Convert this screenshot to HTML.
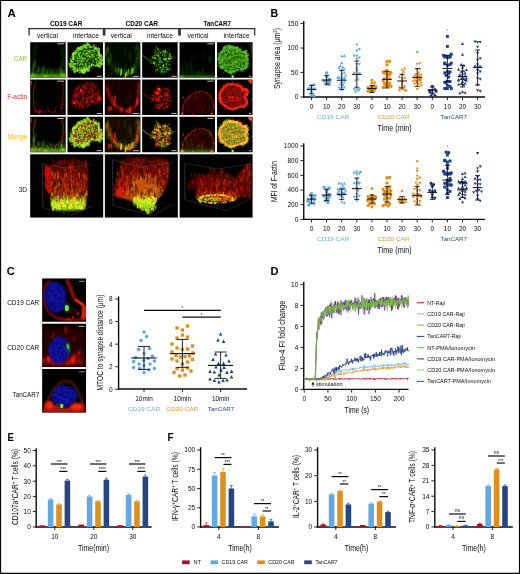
<!DOCTYPE html>
<html><head><meta charset="utf-8"><title>Figure</title>
<style>html,body{margin:0;padding:0;background:#fff;}svg{display:block;}text{font-family:"Liberation Sans", sans-serif;}</style>
</head><body>
<svg width="520" height="574" viewBox="0 0 520 574">
<defs>
<filter id="b0" x="-10%" y="-10%" width="120%" height="120%"><feGaussianBlur stdDeviation="0.3"/></filter>
<filter id="b1" x="-10%" y="-10%" width="120%" height="120%"><feGaussianBlur stdDeviation="0.45"/></filter>
<filter id="b15" x="-15%" y="-15%" width="130%" height="130%"><feGaussianBlur stdDeviation="0.7"/></filter>
<linearGradient id="gfadeG" x1="0" y1="0" x2="0" y2="1"><stop offset="0" stop-color="#2f8010" stop-opacity="0"/><stop offset="1" stop-color="#3a9a14" stop-opacity="1"/></linearGradient>
<filter id="b2" x="-20%" y="-20%" width="140%" height="140%"><feGaussianBlur stdDeviation="1.0"/></filter>
<filter id="b3" x="-30%" y="-30%" width="160%" height="160%"><feGaussianBlur stdDeviation="2.4"/></filter>
<linearGradient id="g3d1" x1="0" y1="0" x2="0" y2="1"><stop offset="0" stop-color="#5a0602" stop-opacity="0.55"/><stop offset="0.3" stop-color="#a01206" stop-opacity="0.7"/><stop offset="0.66" stop-color="#c8400a" stop-opacity="0.75"/><stop offset="0.8" stop-color="#c8b816" stop-opacity="0.8"/><stop offset="1" stop-color="#88c816" stop-opacity="0.85"/></linearGradient>
<linearGradient id="g3d2" x1="0" y1="0" x2="0" y2="1"><stop offset="0" stop-color="#6a0803" stop-opacity="0.6"/><stop offset="0.45" stop-color="#b01a08" stop-opacity="0.75"/><stop offset="0.8" stop-color="#d0480c" stop-opacity="0.8"/><stop offset="1" stop-color="#d08a12" stop-opacity="0.8"/></linearGradient>
<linearGradient id="g3d3" x1="0" y1="0" x2="0" y2="1"><stop offset="0" stop-color="#4a0602"/><stop offset="0.6" stop-color="#a81406"/><stop offset="1" stop-color="#d8480c"/></linearGradient>
<clipPath id="c3d"><rect width="73" height="63.3"/></clipPath>
<clipPath id="cc"><rect width="43.9" height="43.6"/></clipPath>
<g id="car1"><g filter="url(#b2)"><rect x="-1" y="24" width="38" height="12" fill="url(#gfadeG)" opacity="0.5"/><rect x="-1" y="32.2" width="38" height="4" fill="#58b81e" opacity="0.75"/><path d="M5.6 2C4.4 10 3.4 18 3.2 30" fill="none" stroke="#2a7010" stroke-width="1.6" opacity="0.45"/><path d="M31.6 3.5C32.8 10 33.4 18 33.4 30" fill="none" stroke="#2a7010" stroke-width="1.6" opacity="0.45"/><ellipse cx="2.6" cy="32.8" rx="2.2" ry="1.6" fill="#9af03a" opacity="0.9"/><ellipse cx="32.5" cy="32.8" rx="2.4" ry="1.7" fill="#9af03a" opacity="0.9"/><ellipse cx="15.5" cy="33.8" rx="2" ry="1.2" fill="#9af03a" opacity="0.8"/></g><g filter="url(#b15)"><path d="M13.5 35.8L13.6 30.2M27.7 29.2L27.5 25.5M34.0 32.9L34.0 27.7M23.3 30.4L23.4 25.6M19.6 33.1L19.4 26.9M2.7 33.2L2.5 29.2M13.7 29.7L13.8 26.6M17.3 30.7L17.3 26.2M6.0 34.8L5.9 29.1" stroke="#3a9a14" stroke-width="0.98" stroke-linecap="round" opacity="0.15" fill="none"/><path d="M32.7 32.2L32.8 28.6M25.2 34.3L25.4 29.7M29.1 30.8L29.2 24.9M13.8 29.1L14.0 23.3M32.3 34.1L32.5 29.1M8.5 29.2L8.2 25.6M29.4 29.8L29.3 24.3M19.2 30.0L19.0 25.8M11.8 30.9L11.8 26.7M27.8 30.9L27.5 27.6M31.7 31.3L31.7 27.8M20.3 31.9L20.4 27.2" stroke="#3a9a14" stroke-width="1.40" stroke-linecap="round" opacity="0.21" fill="none"/><path d="M13.6 29.8L13.6 24.7M6.8 34.4L6.9 30.8M9.0 28.5L9.2 25.2M21.9 31.6L22.1 27.6M11.8 31.1L11.7 25.3M2.8 34.6L2.6 31.2M16.5 31.6L16.6 28.4M12.5 32.1L12.7 26.4M7.7 29.0L7.7 24.8" stroke="#3a9a14" stroke-width="1.82" stroke-linecap="round" opacity="0.27" fill="none"/><path d="M3.0 28.7L2.9 21.7M3.3 34.4L3.1 26.7M3.0 31.7L2.7 26.1M31.4 33.6L31.3 27.7M31.5 24.7L31.7 19.3M31.0 26.6L30.7 20.5" stroke="#3a9a14" stroke-width="0.98" stroke-linecap="round" opacity="0.21" fill="none"/><path d="M5.0 25.3L5.1 17.8M3.1 25.8L3.1 21.8M30.5 32.1L30.4 26.1M31.7 33.1L31.8 28.8" stroke="#3a9a14" stroke-width="1.40" stroke-linecap="round" opacity="0.27" fill="none"/><path d="M4.2 24.6L4.2 19.7M31.1 32.8L30.9 28.0" stroke="#3a9a14" stroke-width="1.82" stroke-linecap="round" opacity="0.32" fill="none"/></g></g><g id="car2"><g filter="url(#b15)"><path d="M20.5 3.0C18.8 3.1 17.1 4.2 15.6 4.8C14.1 5.3 13.0 5.4 11.5 6.5C10.0 7.6 7.6 9.6 6.6 11.3C5.7 13.1 6.2 15.2 5.6 16.9C5.1 18.6 3.0 20.0 3.3 21.7C3.6 23.5 5.1 26.1 7.3 27.3C9.6 28.5 14.5 29.5 17.0 29.0C19.6 28.5 20.5 25.1 22.6 24.1C24.6 23.2 27.6 23.7 29.5 23.5C31.4 23.2 33.1 23.9 33.8 22.8C34.4 21.7 33.8 19.2 33.3 16.9C32.8 14.5 31.7 10.7 30.5 8.6C29.3 6.5 27.7 5.3 26.0 4.4C24.4 3.5 22.2 3.0 20.5 3.0Z" fill="#235a0c" opacity="0.95"/></g><g filter="url(#b1)"><path d="M8.3 12.1h0M31.2 22.1h0M23.0 7.7h0M17.0 18.1h0M18.0 21.6h0M8.5 18.5h0M4.9 21.6h0M15.9 23.2h0M23.2 21.8h0M18.2 26.0h0M19.4 23.5h0M12.6 23.0h0M26.4 22.1h0M20.7 12.7h0M10.7 16.3h0M15.4 23.8h0M23.2 8.7h0M14.5 15.2h0M26.0 16.4h0M21.9 14.3h0M17.5 16.1h0M17.5 21.5h0M31.3 21.1h0M10.0 24.7h0M8.0 16.0h0M26.3 11.1h0M26.1 12.0h0M20.3 10.1h0M16.7 6.0h0M19.3 13.7h0M28.3 22.9h0M27.8 13.1h0M14.8 16.7h0M29.6 22.3h0M28.5 9.0h0M13.2 11.5h0M18.6 16.6h0M27.9 21.0h0M20.6 5.9h0M10.8 18.9h0M11.7 9.9h0" stroke="#0a2403" stroke-width="1.35" stroke-linecap="round" opacity="0.55" fill="none"/><path d="M17.2 18.6h0M12.2 10.4h0M13.6 16.5h0M24.5 23.4h0M9.7 20.5h0M27.0 8.5h0M19.0 26.4h0M25.3 15.5h0M21.7 18.5h0M10.1 21.8h0M6.9 20.7h0M8.7 16.2h0M19.7 23.4h0M12.3 26.6h0M16.0 20.2h0M27.7 10.1h0M30.2 18.4h0M32.1 20.9h0M10.1 22.5h0M6.8 21.0h0M15.3 14.9h0M27.8 17.3h0M10.9 21.6h0M14.8 10.3h0M17.4 14.0h0M22.9 13.8h0M15.3 10.1h0M10.7 26.5h0M12.9 11.3h0M13.7 13.3h0M11.6 16.5h0M30.6 18.2h0M27.7 8.6h0M11.8 11.3h0M30.3 11.9h0M12.2 16.7h0M16.7 6.1h0M18.0 10.9h0" stroke="#0a2403" stroke-width="2.25" stroke-linecap="round" opacity="0.65" fill="none"/><path d="M16.1 26.5h0M16.7 19.3h0M8.4 26.0h0M17.7 4.7h0M12.6 7.0h0M21.6 9.3h0M7.2 14.2h0M13.7 23.0h0M8.8 22.4h0M16.0 15.4h0M24.2 9.7h0M11.0 24.6h0M12.4 14.4h0M22.0 21.0h0M22.1 5.8h0M20.5 24.2h0M10.4 18.9h0M24.1 7.1h0M18.5 11.6h0M14.0 9.6h0M7.9 14.8h0M24.2 6.2h0M16.6 6.6h0M21.1 14.9h0M8.3 12.0h0M15.2 13.9h0M20.4 16.8h0M27.2 20.2h0M10.0 12.9h0M13.3 21.2h0M27.9 17.3h0M23.9 18.1h0M19.6 8.2h0" stroke="#0a2403" stroke-width="1.95" stroke-linecap="round" opacity="0.75" fill="none"/><path d="M22.0 6.3h0M12.9 26.2h0M9.4 18.2h0M14.8 23.2h0M25.8 20.9h0M17.5 21.0h0M15.0 11.1h0M31.4 17.7h0M22.5 15.9h0M18.0 7.6h0M27.7 12.9h0M20.5 21.0h0M28.1 20.3h0M24.7 7.8h0M7.1 24.7h0M30.9 20.8h0M17.0 17.5h0M11.0 17.5h0M24.8 21.4h0M28.7 11.1h0M9.7 11.9h0M15.2 6.6h0M24.7 15.5h0M12.5 19.3h0M11.8 21.2h0M30.2 17.8h0M26.2 14.4h0M14.0 6.9h0M27.0 15.5h0M16.9 25.5h0M20.6 3.9h0M11.9 24.8h0M30.1 11.7h0M11.9 25.0h0M25.0 8.4h0M14.7 10.5h0M10.5 24.8h0M23.7 5.9h0" stroke="#0a2403" stroke-width="1.65" stroke-linecap="round" opacity="0.85" fill="none"/><path d="M13.8 21.6h0M30.1 7.4h0M21.6 3.8h0M18.5 24.6h0M9.8 23.2h0M17.1 21.2h0M26.2 22.4h0M22.9 16.3h0M19.3 21.8h0M13.0 19.7h0M5.9 23.0h0M9.3 12.4h0M13.8 5.9h0M15.6 9.9h0M29.0 20.6h0M9.4 15.0h0M31.8 18.1h0M21.6 2.5h0M25.9 19.6h0M13.3 24.6h0M7.6 16.2h0M7.7 25.7h0M13.5 14.5h0M24.8 21.1h0M21.3 5.2h0M8.6 13.1h0M24.0 22.1h0M31.3 8.7h0" stroke="#58b81e" stroke-width="1.32" stroke-linecap="round" opacity="0.60" fill="none"/><path d="M12.2 15.1h0M3.7 20.2h0M12.0 11.7h0M5.0 19.5h0M22.1 10.5h0M21.8 21.2h0M24.2 12.3h0M21.2 13.5h0M16.4 11.5h0M30.3 18.3h0M14.8 11.2h0M11.6 13.5h0M13.8 6.6h0M24.7 14.7h0M17.8 12.9h0M16.3 8.6h0M33.1 14.0h0M18.0 23.2h0M22.9 7.7h0M11.7 10.2h0M24.0 13.0h0M14.0 21.8h0M21.1 9.3h0M27.2 5.7h0M13.8 26.8h0M31.8 14.1h0M28.9 17.1h0M22.2 14.9h0M24.9 14.0h0M14.3 18.7h0M14.6 13.5h0M15.7 26.0h0M8.7 21.6h0M16.2 17.6h0" stroke="#58b81e" stroke-width="2.08" stroke-linecap="round" opacity="0.70" fill="none"/><path d="M7.2 14.2h0M16.4 26.7h0M29.6 12.9h0M6.3 11.1h0M25.0 10.0h0M6.7 22.0h0M19.3 24.0h0M4.4 20.6h0M14.8 14.9h0M16.8 29.3h0M14.7 20.4h0M11.5 16.6h0M17.4 25.9h0M11.2 14.2h0M10.8 20.6h0M17.6 26.4h0M13.2 21.7h0M12.8 6.2h0M12.5 15.1h0M9.8 26.0h0M33.4 20.8h0M12.7 13.8h0M17.8 4.7h0M13.6 16.5h0M16.2 18.9h0M12.3 18.8h0M19.2 8.6h0M10.8 7.6h0M25.0 13.4h0" stroke="#58b81e" stroke-width="1.83" stroke-linecap="round" opacity="0.80" fill="none"/><path d="M28.1 16.5h0M7.1 21.6h0M6.1 24.5h0M15.4 17.6h0M22.3 5.4h0M13.3 21.7h0M13.7 16.4h0M32.8 16.9h0M7.1 23.0h0M10.0 16.1h0M16.9 16.4h0M20.7 12.7h0M11.5 5.8h0M9.7 15.1h0M16.9 15.6h0M29.7 21.5h0M21.3 24.1h0M10.4 21.4h0M8.8 26.9h0M7.9 26.7h0M15.0 28.1h0M31.0 23.5h0M7.2 16.8h0M7.5 11.6h0M12.0 6.8h0M5.7 22.3h0M15.6 23.8h0M25.6 15.8h0M22.3 10.1h0" stroke="#58b81e" stroke-width="1.58" stroke-linecap="round" opacity="0.90" fill="none"/><path d="M18.1 23.6h0M25.9 18.2h0M12.1 15.9h0M10.8 17.5h0M28.4 11.0h0M9.4 17.9h0M21.6 15.5h0M12.4 18.8h0M22.8 9.5h0M20.5 9.8h0M15.2 15.8h0M16.0 25.2h0M11.1 13.3h0M32.5 16.4h0M10.3 8.4h0" stroke="#9af03a" stroke-width="1.10" stroke-linecap="round" opacity="0.65" fill="none"/><path d="M32.9 22.5h0M18.9 12.2h0M32.1 20.6h0M18.2 21.7h0M31.4 20.4h0M32.6 18.7h0M20.0 14.0h0M31.0 21.1h0M13.0 10.0h0M11.1 11.8h0M21.5 8.9h0" stroke="#9af03a" stroke-width="1.70" stroke-linecap="round" opacity="0.75" fill="none"/><path d="M17.8 16.3h0M25.6 8.4h0M31.0 12.1h0M18.3 26.8h0M29.0 19.8h0M6.4 21.1h0M26.1 7.9h0M20.5 17.3h0M19.6 10.8h0M19.4 6.0h0M28.5 16.9h0M23.8 4.8h0M19.4 18.7h0M11.7 22.8h0M31.0 15.3h0M7.8 25.9h0M14.7 16.2h0M9.9 18.3h0M22.4 14.6h0M12.3 7.4h0M13.8 19.1h0" stroke="#9af03a" stroke-width="1.50" stroke-linecap="round" opacity="0.85" fill="none"/><path d="M15.3 28.2h0M18.9 11.6h0M11.6 12.3h0M27.0 11.8h0M26.4 13.9h0M8.1 21.7h0M27.2 9.0h0M16.3 10.8h0M29.7 22.7h0M15.1 22.1h0M10.3 19.6h0M11.9 25.9h0M6.8 24.3h0M16.5 25.3h0M18.0 7.9h0M24.1 8.6h0M16.8 26.3h0M21.4 24.3h0M17.7 27.9h0M15.6 27.5h0M12.0 25.3h0M19.0 11.2h0M25.1 12.4h0" stroke="#9af03a" stroke-width="1.30" stroke-linecap="round" opacity="0.95" fill="none"/><path d="M30.8 24.1h0M22.5 3.7h0M33.6 14.1h0M26.3 2.7h0M6.5 10.7h0M22.3 25.6h0M27.2 6.4h0M28.5 23.7h0M22.1 23.9h0M10.5 27.4h0M16.7 4.0h0M7.5 11.6h0M21.5 2.7h0M29.6 22.7h0M14.7 5.3h0M6.0 15.3h0M21.0 26.0h0M4.7 22.0h0M34.2 15.4h0M30.8 7.1h0M5.0 12.9h0M22.5 24.0h0M31.9 15.4h0M4.7 22.1h0M15.4 3.8h0M26.3 4.1h0M23.3 4.7h0M13.7 4.4h0M2.3 22.2h0M13.7 30.0h0M34.0 19.6h0M10.9 7.0h0M16.9 5.0h0" stroke="#9af03a" stroke-width="1.80" stroke-linecap="round" opacity="0.74" fill="none"/><path d="M14.7 28.4h0M2.8 22.7h0M13.6 5.5h0M16.0 30.3h0M20.9 27.9h0M16.7 29.1h0M3.2 23.8h0M11.4 6.3h0M7.3 29.2h0M17.7 4.6h0M11.2 5.9h0M18.5 26.5h0M34.4 17.4h0M8.5 9.9h0M14.0 6.3h0M20.3 2.4h0M6.8 28.1h0M18.5 28.0h0M19.9 1.6h0" stroke="#9af03a" stroke-width="3.00" stroke-linecap="round" opacity="0.81" fill="none"/><path d="M33.4 20.3h0M31.8 12.8h0M9.9 28.5h0M33.3 21.7h0M19.9 26.7h0M13.9 28.4h0M31.4 10.9h0M5.5 14.0h0M6.2 11.1h0M31.1 9.0h0M28.2 5.8h0M17.2 3.2h0M5.6 12.0h0M29.0 6.9h0M16.1 29.8h0M31.6 23.6h0" stroke="#9af03a" stroke-width="2.60" stroke-linecap="round" opacity="0.89" fill="none"/><path d="M33.5 13.0h0M5.3 24.5h0M5.4 14.3h0M6.9 26.1h0M12.9 6.6h0M12.5 5.8h0M2.4 22.2h0M24.4 22.7h0M31.3 6.5h0M5.6 16.7h0M3.7 18.5h0M11.1 5.9h0M9.8 7.8h0M17.6 27.4h0M4.2 19.3h0M34.5 21.8h0M31.0 23.6h0" stroke="#9af03a" stroke-width="2.20" stroke-linecap="round" opacity="0.96" fill="none"/><path d="M34.7 21.1h0M7.2 26.6h0M3.3 23.0h0M33.7 19.9h0M33.7 17.8h0M24.7 4.9h0M32.9 19.4h0M2.9 22.7h0" stroke="#58b81e" stroke-width="1.55" stroke-linecap="round" opacity="0.74" fill="none"/><path d="M21.2 25.5h0M11.8 30.1h0M7.7 27.9h0M12.7 26.9h0M25.7 23.0h0M3.4 23.0h0M28.0 23.6h0M21.5 2.4h0M32.4 24.8h0M30.1 7.8h0M32.9 22.7h0M9.2 8.2h0M16.2 5.3h0M35.3 16.6h0M14.1 6.4h0" stroke="#58b81e" stroke-width="2.45" stroke-linecap="round" opacity="0.81" fill="none"/><path d="M33.3 23.4h0M3.4 16.6h0M18.4 25.8h0M19.0 4.3h0M32.6 24.0h0M35.3 22.0h0" stroke="#58b81e" stroke-width="2.15" stroke-linecap="round" opacity="0.89" fill="none"/><path d="M20.7 28.3h0M3.2 25.1h0M12.6 4.9h0M18.2 29.4h0M5.0 13.9h0M5.7 23.9h0M31.5 7.5h0M12.2 27.9h0M21.7 2.6h0M11.2 7.4h0M12.6 5.2h0" stroke="#58b81e" stroke-width="1.85" stroke-linecap="round" opacity="0.96" fill="none"/><path d="M5.7 26.5L4.2 28.3M18.4 3.3L17.7 1.7M16.3 3.8L16.7 2.5M3.7 23.8L2.2 24.0M33.2 13.7L35.2 14.3M29.4 6.5L30.6 5.0M8.3 8.9L6.1 8.1M3.1 21.0L0.8 21.1M23.9 24.3L25.0 25.5M10.4 6.9L8.8 6.1M27.6 4.8L28.9 3.6M5.1 25.7L4.1 27.7M16.8 3.8L15.4 2.0M34.4 18.4L36.7 19.1M4.0 19.0L2.6 19.3M2.9 22.8L1.4 23.1" stroke="#58b81e" stroke-width="0.9" stroke-linecap="round" opacity="0.8" fill="none"/></g></g><g id="car3"><g filter="url(#b2)"><rect x="-1" y="-1" width="38" height="38" fill="#143c08" opacity="0.15"/><path d="M1.7 5.4C1.9 6.7 2.7 10.6 3.2 13.1C3.7 15.5 3.7 17.9 4.8 20.0C5.8 22.1 7.5 23.8 9.4 25.4C11.3 26.9 14.3 28.2 16.3 29.2C18.4 30.3 19.8 31.7 21.7 31.5C23.6 31.4 26.2 29.9 27.8 28.5C29.5 27.1 30.8 25.4 31.7 23.1C32.6 20.8 32.8 17.6 33.2 14.6C33.6 11.7 33.9 6.9 34.0 5.4" fill="none" stroke="#2a7010" stroke-width="5" opacity="0.25"/></g><g filter="url(#b15)"><path d="M29.0 27.3L29.2 20.9M10.9 30.0L11.0 25.6M3.3 10.9L3.7 4.2M26.3 29.3L26.6 22.6M31.2 28.7L31.1 25.2M4.8 20.7L4.7 17.7M15.0 29.9L14.9 24.5M21.4 33.4L21.8 26.7M32.3 21.5L32.6 17.6M3.2 9.6L3.2 5.1M33.6 27.6L33.9 20.7M28.9 30.6L29.3 25.4M15.7 30.2L16.0 26.4M14.7 30.5L14.6 26.3" stroke="#3c9816" stroke-width="1.05" stroke-linecap="round" opacity="0.13" fill="none"/><path d="M29.6 30.9L29.8 25.6M34.5 22.7L34.6 16.2M16.2 30.9L16.1 24.0M26.9 29.3L26.9 24.6M19.3 31.4L19.4 24.6M33.2 16.8L33.2 9.9M31.2 18.5L31.5 15.3M13.6 27.8L13.5 24.3M34.5 15.8L34.5 12.7M29.0 27.1L29.4 22.8M3.4 10.6L3.3 4.9M20.8 34.3L21.0 29.2M29.9 29.4L30.2 22.5M15.0 32.8L15.0 28.2" stroke="#3c9816" stroke-width="1.50" stroke-linecap="round" opacity="0.20" fill="none"/><path d="M2.0 9.6L2.4 4.8M1.2 10.5L1.5 6.6M35.4 12.5L35.3 9.0M5.9 18.5L5.9 12.3M20.8 32.8L20.9 29.6M21.1 32.8L21.2 26.9M0.9 12.9L1.3 7.7M25.7 31.8L25.8 27.2M32.4 6.5L32.4 2.6M25.3 33.6L25.4 30.2M3.6 22.0L4.0 16.8M11.2 29.2L11.3 25.4" stroke="#3c9816" stroke-width="1.95" stroke-linecap="round" opacity="0.27" fill="none"/><path d="M30.3 12.5L30.3 6.2M2.6 13.9L2.8 10.6M20.7 13.1L20.6 7.1M15.0 8.1L15.1 1.5M3.9 22.3L3.9 17.7M28.9 31.2L29.1 26.3M13.0 14.1L13.1 8.7M11.6 14.4L11.7 9.6M19.8 15.7L19.9 8.9M21.0 26.4L21.5 19.6" stroke="#2f8010" stroke-width="1.05" stroke-linecap="round" opacity="0.07" fill="none"/><path d="M31.1 7.9L31.3 3.9M31.0 30.6L31.3 25.7M25.3 17.1L25.7 11.0M2.3 12.4L2.7 7.7M3.5 8.8L3.9 2.0M26.4 21.2L26.6 16.8M13.2 6.7L13.1 0.9M29.2 30.3L29.2 23.9" stroke="#2f8010" stroke-width="1.50" stroke-linecap="round" opacity="0.11" fill="none"/><path d="M13.7 28.9L14.1 24.3M21.1 25.0L21.1 22.0M26.5 27.9L26.7 23.6M9.9 31.0L9.9 27.8M19.8 11.0L19.7 4.2M23.6 16.4L23.7 11.2M11.7 31.2L11.7 27.3M30.0 8.4L30.1 4.3M11.5 23.3L11.4 20.0M26.1 14.7L26.0 11.1M6.6 32.7L6.8 26.9M2.3 20.3L2.4 16.4" stroke="#2f8010" stroke-width="1.95" stroke-linecap="round" opacity="0.14" fill="none"/><path d="M13.0 31.3L13.7 26.7" stroke="#9af03a" stroke-width="0.91" stroke-linecap="round" opacity="0.51" fill="none"/><path d="M21.0 33.2L21.6 29.8M23.0 32.5L23.6 27.5M26.5 31.6L27.3 26.4M28.0 31.0L28.3 26.0" stroke="#9af03a" stroke-width="1.30" stroke-linecap="round" opacity="0.62" fill="none"/><path d="M20.5 35.2L20.9 31.8M16.0 32.6L16.6 27.4" stroke="#9af03a" stroke-width="1.69" stroke-linecap="round" opacity="0.74" fill="none"/></g></g><g id="car4"><g filter="url(#b2)"><path d="M15.5 6.2C16.8 5.8 19.0 7.2 20.9 7.7C22.8 8.2 25.5 7.9 27.1 9.2C28.6 10.5 29.9 13.2 30.2 15.4C30.4 17.6 29.1 20.1 28.6 22.3C28.1 24.5 28.4 27.1 27.1 28.5C25.8 29.9 23.0 30.5 20.9 30.8C18.9 31.0 16.2 31.2 14.8 30.0C13.4 28.8 13.5 25.9 12.5 23.8C11.4 21.8 9.0 19.5 8.6 17.7C8.2 15.9 9.4 14.4 10.2 13.1C10.9 11.8 12.3 11.2 13.2 10.0C14.1 8.8 14.3 6.5 15.5 6.2Z" fill="#1c4c0a" opacity="0.45"/></g><g filter="url(#b1)"><path d="M24.4 17.0h0M12.3 13.0h0M25.0 9.7h0M16.6 7.9h0M10.8 16.1h0M27.3 11.6h0M14.3 28.1h0M21.1 23.6h0M16.3 6.5h0M27.0 15.0h0M25.7 11.3h0M14.8 12.3h0M28.1 13.6h0M17.6 18.9h0" stroke="#58b81e" stroke-width="1.30" stroke-linecap="round" opacity="0.55" fill="none"/><path d="M16.4 13.0h0M26.6 27.3h0M22.5 16.8h0M17.8 19.4h0M16.3 17.4h0M12.6 19.7h0M22.5 29.6h0M29.5 15.9h0M18.3 18.3h0M21.2 26.9h0M22.6 11.3h0M27.9 11.7h0M19.8 28.8h0M12.5 15.6h0M24.7 24.9h0M23.2 18.0h0" stroke="#58b81e" stroke-width="1.90" stroke-linecap="round" opacity="0.65" fill="none"/><path d="M25.3 19.1h0M17.8 24.7h0M20.8 8.9h0M22.8 13.7h0M24.2 27.3h0M20.4 12.7h0M10.4 14.9h0M18.9 25.5h0M18.0 25.3h0M21.6 10.1h0M21.4 23.2h0" stroke="#58b81e" stroke-width="1.70" stroke-linecap="round" opacity="0.75" fill="none"/><path d="M17.7 20.2h0M19.1 28.0h0M23.1 8.3h0M22.7 16.9h0M20.0 26.4h0M22.4 9.2h0M12.1 21.3h0M14.3 23.8h0M12.2 13.5h0M21.6 24.7h0M20.4 29.7h0M27.4 22.3h0M15.6 7.1h0M26.5 17.1h0" stroke="#58b81e" stroke-width="1.50" stroke-linecap="round" opacity="0.85" fill="none"/><path d="M21.2 15.7h0M16.7 10.6h0M23.2 25.5h0M19.3 29.3h0M27.4 13.2h0M27.8 17.1h0M28.1 13.9h0M16.6 9.7h0M26.0 19.4h0M21.2 16.0h0" stroke="#9af03a" stroke-width="1.10" stroke-linecap="round" opacity="0.60" fill="none"/><path d="M25.2 27.0h0M14.3 12.4h0M27.1 16.4h0M23.4 9.6h0M24.1 16.2h0M17.8 15.9h0M24.3 21.8h0M11.5 20.5h0" stroke="#9af03a" stroke-width="1.70" stroke-linecap="round" opacity="0.70" fill="none"/><path d="M21.2 22.7h0M12.6 21.7h0M21.1 24.2h0M13.6 15.9h0M19.8 19.9h0M16.1 13.6h0M16.4 22.0h0" stroke="#9af03a" stroke-width="1.50" stroke-linecap="round" opacity="0.80" fill="none"/><path d="M18.5 10.3h0M11.9 16.0h0M16.8 14.6h0M23.5 17.0h0M28.0 16.4h0M15.5 27.1h0M22.0 17.3h0M26.7 15.9h0M27.9 14.0h0" stroke="#9af03a" stroke-width="1.30" stroke-linecap="round" opacity="0.90" fill="none"/><path d="M24.1 28.7L24.7 30.5M18.9 29.7L19.4 32.5M14.8 28.4L13.1 31.2M11.5 21.0L9.0 21.2M22.0 29.6L21.9 32.1M26.9 26.1L29.7 27.0M10.8 19.8L7.7 20.7M13.9 10.0L13.1 7.7M12.9 11.4L11.6 8.8M13.7 10.3L12.9 7.5M23.4 9.1L23.8 6.7M14.0 26.6L13.4 28.7M29.1 14.9L32.4 14.8M15.2 7.8L14.5 4.5" stroke="#58b81e" stroke-width="0.7" stroke-linecap="round" opacity="0.55" fill="none"/><path d="M0.2 13L3 15L6 17.5L9.5 18.5" fill="none" stroke="#58b81e" stroke-width="1.3" opacity="0.45"/><path d="M13.2 2.5L15 6L17 8.5M27.8 6L26.3 8.5" fill="none" stroke="#58b81e" stroke-width="1.0" opacity="0.4"/></g></g><g id="car5"><g filter="url(#b2)"><rect x="-1" y="34" width="38" height="2.5" fill="#58b81e" opacity="0.7"/><rect x="-1" y="28" width="38" height="8" fill="url(#gfadeG)" opacity="0.3"/><ellipse cx="2.5" cy="34.4" rx="1.6" ry="1" fill="#9af03a" opacity="0.9"/></g><g filter="url(#b15)"><path d="M8.6 26.0L8.7 19.0M13.0 27.8L13.3 24.7M3.6 34.3L3.5 28.5M31.2 33.6L31.4 28.1M22.8 33.4L22.9 27.7M17.7 32.6L17.8 26.5M22.7 30.5L22.6 25.1M16.3 35.0L16.4 28.5M31.3 19.9L31.2 14.0M32.6 26.5L32.6 20.9M32.5 20.2L32.2 16.1M34.0 19.2L34.1 13.9M12.0 20.3L12.1 13.7M23.0 16.0L22.8 10.0" stroke="#2f8010" stroke-width="1.12" stroke-linecap="round" opacity="0.09" fill="none"/><path d="M9.7 28.9L9.7 22.2M10.3 24.9L10.5 21.8M2.0 26.6L2.2 19.7M17.4 33.6L17.1 28.8M19.3 31.6L19.3 28.4M25.7 36.7L25.4 30.5M33.2 30.6L33.2 25.6M21.9 36.6L21.9 30.7M31.2 19.6L31.2 15.5M14.0 18.5L14.0 12.5M25.5 17.4L25.6 11.6" stroke="#2f8010" stroke-width="1.60" stroke-linecap="round" opacity="0.14" fill="none"/><path d="M2.7 30.7L2.7 25.3M12.7 32.0L12.8 27.2M11.8 26.7L11.7 21.4M6.3 25.4L6.2 20.8M13.3 36.0L13.0 29.7M7.1 30.7L7.1 24.2M20.2 35.2L19.9 28.4M23.3 30.9L23.6 26.0M29.9 19.5L30.0 13.8" stroke="#2f8010" stroke-width="2.08" stroke-linecap="round" opacity="0.18" fill="none"/></g></g><g id="car6"><g filter="url(#b1)"><path d="M13.2 3.1C15.3 2.9 17.7 3.7 19.4 4.2C21.1 4.7 22.2 5.3 23.2 6.2C24.3 7.0 24.5 8.8 25.5 9.2C26.6 9.6 28.5 7.8 29.4 8.5C30.3 9.1 30.5 11.0 30.9 13.1C31.3 15.1 31.8 18.6 31.7 20.8C31.6 22.9 31.4 24.9 30.2 26.2C28.9 27.4 26.2 27.8 24.0 28.5C21.8 29.1 18.9 29.6 17.1 30.0C15.3 30.4 14.9 31.4 13.2 31.2C11.6 30.9 8.9 29.8 7.1 28.5C5.3 27.1 3.5 25.0 2.5 23.1C1.4 21.2 0.9 19.0 0.9 16.9C0.9 14.9 1.4 12.7 2.5 10.8C3.5 8.8 5.3 6.7 7.1 5.4C8.9 4.1 11.2 3.3 13.2 3.1Z" fill="#2f7212" opacity="0.95"/><path d="M26.4 25.4h0M25.5 17.8h0M8.1 23.3h0M5.7 11.4h0M16.4 8.8h0M19.4 16.6h0M8.3 25.5h0M10.6 10.9h0M23.1 22.7h0M28.9 18.6h0M15.3 9.9h0M29.1 14.9h0M27.8 23.0h0M6.0 16.5h0M19.0 22.3h0M15.6 23.8h0M27.3 19.7h0M8.6 21.4h0M24.7 20.2h0M15.4 25.9h0M19.1 20.6h0M6.2 9.7h0" stroke="#184808" stroke-width="1.35" stroke-linecap="round" opacity="0.45" fill="none"/><path d="M11.6 13.6h0M9.6 12.3h0M9.1 12.4h0M13.0 25.0h0M11.4 27.3h0M13.7 20.1h0M10.9 17.0h0M12.2 13.3h0M20.4 22.1h0M14.7 5.3h0M4.8 22.5h0M22.0 24.1h0M10.4 10.4h0M22.9 8.9h0M16.5 24.3h0M28.8 22.1h0M13.5 14.4h0M16.3 17.2h0M19.5 15.1h0M16.2 22.3h0M4.6 19.6h0M8.9 7.5h0M20.3 19.9h0M21.4 10.6h0" stroke="#184808" stroke-width="2.25" stroke-linecap="round" opacity="0.55" fill="none"/><path d="M25.7 11.3h0M15.3 11.4h0M20.6 15.3h0M27.0 21.9h0M23.0 26.3h0M3.4 18.7h0M26.7 11.7h0M18.2 15.6h0M19.4 27.0h0M15.4 13.2h0M24.2 15.6h0M18.8 12.1h0M25.9 16.0h0M18.8 17.3h0M20.9 7.7h0M20.5 16.3h0M6.8 18.9h0M12.5 8.0h0M20.5 25.5h0M6.5 18.9h0M18.5 21.2h0M11.3 11.1h0M17.6 27.3h0M10.9 14.1h0M6.2 21.3h0M12.8 13.9h0" stroke="#184808" stroke-width="1.95" stroke-linecap="round" opacity="0.65" fill="none"/><path d="M13.0 24.7h0M23.3 26.5h0M20.7 19.4h0M11.7 26.4h0M5.7 11.2h0M23.4 14.9h0M12.7 23.4h0M15.2 21.7h0M14.7 21.0h0M11.5 17.6h0M6.2 21.9h0M19.2 24.7h0M11.2 13.4h0M27.3 21.0h0M10.4 27.0h0M10.1 12.9h0M22.5 9.5h0M12.6 18.0h0" stroke="#184808" stroke-width="1.65" stroke-linecap="round" opacity="0.75" fill="none"/><path d="M16.9 17.9h0M11.7 17.6h0M28.5 12.9h0M25.2 12.4h0M12.2 27.4h0M19.1 27.0h0M25.5 15.7h0M7.5 7.4h0M22.7 22.2h0M17.6 26.7h0M21.7 8.0h0M30.1 17.9h0M5.6 9.2h0M3.4 13.3h0M6.2 15.1h0M29.3 24.0h0M10.1 18.5h0M12.3 21.7h0M21.5 10.2h0M7.3 14.5h0M26.9 16.3h0M18.2 28.2h0M15.4 4.1h0M6.3 7.7h0M15.9 14.5h0M20.2 8.3h0M25.1 16.5h0M10.0 19.7h0M9.4 13.8h0M3.0 11.2h0M28.9 23.4h0M16.5 20.2h0M28.3 25.2h0M11.3 23.9h0M17.2 27.4h0M13.4 6.9h0M9.1 17.2h0M9.3 13.5h0M16.2 5.3h0M24.0 25.5h0M5.5 22.5h0M19.8 16.6h0M6.9 22.0h0M8.5 6.1h0M5.5 17.2h0M14.0 3.8h0M13.4 12.2h0" stroke="#48a41e" stroke-width="1.35" stroke-linecap="round" opacity="0.51" fill="none"/><path d="M13.5 20.3h0M7.4 12.8h0M10.3 23.2h0M5.2 18.2h0M21.8 16.8h0M21.8 22.6h0M18.6 6.1h0M27.3 10.3h0M14.2 7.3h0M23.9 13.2h0M10.8 29.2h0M13.6 26.8h0M14.9 17.8h0M15.9 10.4h0M22.1 9.8h0M16.8 11.4h0M16.4 29.5h0M14.4 22.6h0M27.5 16.9h0M20.9 19.5h0M15.5 19.7h0M15.4 18.6h0M18.1 20.9h0M4.8 14.3h0M25.4 24.4h0M13.7 5.8h0M21.1 12.4h0M22.3 8.0h0M12.6 6.7h0M17.3 29.2h0M22.7 12.8h0M10.1 7.1h0M29.7 17.5h0M22.0 17.9h0M6.3 23.2h0M17.8 20.0h0M29.0 24.8h0M2.8 18.5h0M9.8 29.0h0M19.3 20.8h0M16.7 10.4h0M9.7 15.4h0M22.4 12.8h0M5.1 9.7h0M19.2 7.7h0M20.6 7.7h0M23.8 26.8h0M17.2 5.7h0M23.0 8.0h0M25.1 13.9h0M25.2 19.2h0M2.5 15.1h0" stroke="#48a41e" stroke-width="2.25" stroke-linecap="round" opacity="0.62" fill="none"/><path d="M22.2 25.1h0M30.4 14.1h0M11.2 11.0h0M6.4 16.1h0M21.6 24.0h0M28.7 19.9h0M9.7 22.9h0M19.7 8.2h0M11.6 17.3h0M24.1 19.7h0M13.1 26.1h0M27.4 13.4h0M14.9 14.8h0M8.1 24.3h0M9.8 12.1h0M17.5 22.6h0M16.7 6.2h0M16.3 13.7h0M13.1 16.0h0M7.3 16.6h0M5.6 20.4h0M20.9 9.2h0M24.4 18.0h0M8.1 14.9h0M14.6 26.4h0M8.4 21.9h0M8.8 26.8h0M19.0 9.6h0M28.8 21.8h0M15.1 13.9h0M10.1 16.0h0M5.7 18.4h0M24.4 13.0h0M19.2 8.5h0M10.4 5.8h0M28.6 19.4h0M24.4 26.5h0M11.4 25.6h0M15.9 26.3h0M25.9 23.2h0M23.2 10.8h0M22.5 6.8h0M19.5 13.3h0M18.8 24.5h0" stroke="#48a41e" stroke-width="1.95" stroke-linecap="round" opacity="0.73" fill="none"/><path d="M25.8 11.7h0M15.4 29.3h0M28.0 9.0h0M7.7 23.2h0M23.0 15.2h0M22.8 18.6h0M24.6 20.2h0M9.7 8.6h0M19.3 15.7h0M2.2 14.3h0M25.0 22.7h0M4.6 16.5h0M9.4 12.9h0M13.5 25.3h0M15.1 9.4h0M26.4 17.2h0M16.6 28.5h0M4.9 20.7h0M15.5 7.9h0M15.6 11.9h0M8.7 28.3h0M7.8 13.8h0M11.4 21.7h0M6.8 15.0h0M6.6 19.9h0M15.1 11.2h0M15.7 4.2h0M17.3 17.9h0M15.1 8.5h0M18.4 21.0h0M11.3 15.9h0M25.7 13.6h0M10.2 23.8h0M8.3 25.4h0M8.1 19.8h0M18.6 17.5h0M16.1 20.0h0M7.1 22.0h0M28.9 15.2h0M30.5 18.9h0M29.3 18.5h0M17.4 4.9h0M16.2 24.3h0M16.9 6.6h0M29.6 24.0h0M4.7 19.2h0M19.3 16.4h0" stroke="#48a41e" stroke-width="1.65" stroke-linecap="round" opacity="0.84" fill="none"/><path d="M29.8 13.5h0M13.2 13.5h0M15.6 10.8h0M3.8 16.0h0M28.9 11.5h0M12.9 8.7h0M11.0 8.2h0M25.0 16.7h0M18.7 6.0h0M10.8 16.3h0M27.7 19.6h0M25.7 24.0h0M5.5 14.3h0M18.7 22.0h0M26.3 22.7h0" stroke="#6fd62c" stroke-width="1.10" stroke-linecap="round" opacity="0.55" fill="none"/><path d="M11.4 9.1h0M19.1 19.4h0M12.9 14.5h0M16.0 22.0h0M16.8 5.5h0M5.2 23.1h0M19.8 23.4h0M25.7 13.3h0M22.3 25.0h0M20.0 9.9h0M11.5 22.3h0M13.6 22.9h0M20.1 7.7h0M8.7 7.6h0M8.3 11.9h0M14.5 28.9h0M20.3 7.6h0M28.1 18.3h0M28.6 24.7h0M4.6 18.8h0" stroke="#6fd62c" stroke-width="1.70" stroke-linecap="round" opacity="0.65" fill="none"/><path d="M14.0 5.2h0M7.5 9.5h0M11.4 9.8h0M5.6 16.9h0M25.7 18.0h0M24.8 9.8h0M5.8 9.7h0M9.3 17.3h0M4.5 17.6h0M15.8 21.2h0M19.0 19.1h0M15.8 24.4h0M8.0 22.4h0M28.8 12.6h0M16.5 10.1h0M21.1 17.2h0M19.8 13.1h0M12.3 6.4h0" stroke="#6fd62c" stroke-width="1.50" stroke-linecap="round" opacity="0.75" fill="none"/><path d="M19.0 25.2h0M21.9 20.8h0M25.5 13.5h0M12.1 13.8h0M9.6 28.1h0M7.2 16.0h0M17.7 13.2h0M28.5 22.0h0M20.7 25.0h0M12.7 15.3h0M19.7 20.2h0M12.9 14.7h0M16.3 22.6h0M12.8 28.5h0M3.8 17.4h0M17.7 20.2h0M12.7 10.7h0" stroke="#6fd62c" stroke-width="1.30" stroke-linecap="round" opacity="0.85" fill="none"/><path d="M23.2 8.0h0M25.8 27.3h0M30.8 21.6h0M29.6 22.7h0M17.9 28.3h0M19.4 5.2h0M3.3 23.9h0M20.9 6.0h0M14.7 31.1h0M17.6 29.3h0M29.6 24.7h0M29.4 13.4h0M8.3 28.2h0M29.2 25.2h0M20.4 6.4h0M29.9 21.7h0" stroke="#5cc826" stroke-width="1.52" stroke-linecap="round" opacity="0.74" fill="none"/><path d="M6.6 7.9h0M25.6 26.6h0M28.1 10.6h0M3.0 20.7h0M27.9 10.0h0M23.0 8.2h0M29.3 15.9h0M13.8 30.5h0M1.5 16.9h0M3.6 24.6h0M13.2 4.6h0M30.8 17.2h0M5.8 25.0h0" stroke="#5cc826" stroke-width="2.27" stroke-linecap="round" opacity="0.81" fill="none"/><path d="M11.6 3.8h0M28.4 25.6h0M24.3 26.9h0M28.7 13.9h0M11.9 5.2h0M12.1 30.6h0M30.0 21.1h0M12.7 29.9h0M3.9 10.4h0M29.2 23.7h0M8.4 4.7h0M26.1 9.8h0M4.5 9.8h0M26.1 9.4h0M29.0 8.4h0M18.5 5.7h0M6.6 6.6h0" stroke="#5cc826" stroke-width="2.02" stroke-linecap="round" opacity="0.89" fill="none"/><path d="M14.8 5.3h0M27.6 25.9h0M2.2 14.8h0M20.3 27.7h0M13.4 4.3h0M16.3 29.1h0M31.0 12.9h0M4.4 26.1h0M15.9 5.8h0M7.7 4.7h0M5.3 25.8h0M2.6 12.8h0M29.0 10.8h0M20.4 5.0h0" stroke="#5cc826" stroke-width="1.77" stroke-linecap="round" opacity="0.96" fill="none"/><path d="M28.8 9.1L30.4 8.5M26.3 26.7L27.0 29.2M14.5 30.2L13.3 32.1M10.1 5.1L9.0 2.8M4.4 24.1L2.4 26.0M29.9 24.0L32.2 24.5M10.9 4.7L8.6 3.0M2.0 18.2L-0.6 17.8M29.8 12.1L31.5 10.7M18.1 29.1L17.3 31.8M2.8 21.5L0.6 23.4M3.1 11.4L1.2 10.7M23.7 27.7L24.8 29.3M2.6 13.4L0.7 12.9M12.0 4.3L10.1 2.4M24.8 9.5L26.1 8.4M27.4 26.5L29.1 27.5M7.9 5.7L6.2 5.0M15.5 29.8L14.5 32.4M11.8 4.4L10.5 3.1M30.7 21.3L32.3 21.6M3.2 22.8L1.7 24.2M23.9 8.1L24.4 5.3M3.5 23.1L2.1 24.9M2.6 20.7L0.9 20.4M8.5 28.3L6.5 30.0M14.1 3.8L13.0 2.2M3.0 12.0L0.7 11.1M7.4 6.3L5.9 4.6M7.0 6.6L5.9 4.2M3.8 10.4L2.1 9.5M13.4 3.9L12.1 1.6M4.9 9.1L3.8 7.8M24.4 27.5L25.7 30.1" stroke="#4cae20" stroke-width="0.8" stroke-linecap="round" opacity="0.75" fill="none"/><ellipse cx="15.6" cy="34.2" rx="1.2" ry="1.5" fill="#9af03a"/><path d="M32 1L34 3L35 12" fill="none" stroke="#2a7010" stroke-width="1.6" opacity="0.5"/></g></g><g id="act1"><g filter="url(#b1)"><path d="M5.5 1.4C5.3 2.4 4.4 5.6 4.0 7.5C3.6 9.5 3.3 10.7 3.2 12.9C3.1 15.1 3.3 18.1 3.4 20.6C3.5 23.2 3.3 26.1 4.0 28.3C4.7 30.5 7.2 32.8 7.8 33.7" fill="none" stroke="#a01210" stroke-width="1.2" opacity="0.6"/><path d="M31.7 1.4C31.9 2.7 33.0 6.8 33.2 9.1C33.4 11.4 33.0 13.3 32.8 15.2C32.7 17.2 32.8 18.2 32.5 20.6C32.1 23.1 31.2 28.3 30.9 29.8" fill="none" stroke="#a01210" stroke-width="1.1" opacity="0.55"/><path d="M0.3 1.5L1.8 1.5L1.2 6L0.2 7Z" fill="#ff2a20" opacity="0.85"/><path d="M8.7 31.4h0M8.8 31.9h0M26.6 27.5h0M23.7 32.4h0M11.6 31.8h0M9.8 31.1h0M31.8 29.1h0M17.1 30.7h0M9.4 32.9h0M24.1 33.4h0M13.6 32.4h0M10.9 31.2h0M8.4 33.3h0" stroke="#c81512" stroke-width="1.10" stroke-linecap="round" opacity="0.41" fill="none"/><path d="M18.3 31.5h0M5.7 31.2h0M24.8 31.8h0M24.7 31.3h0M6.1 32.1h0M32.0 24.6h0M31.5 28.1h0M8.8 31.1h0M11.3 33.2h0M5.5 31.7h0M31.2 28.5h0" stroke="#c81512" stroke-width="1.70" stroke-linecap="round" opacity="0.52" fill="none"/><path d="M32.7 24.5h0M15.1 33.7h0M10.1 31.4h0M9.0 33.1h0M32.2 32.8h0M22.3 32.8h0M8.9 31.6h0M18.3 31.5h0M11.0 32.3h0M10.2 31.1h0M26.0 28.1h0M29.1 26.4h0M15.0 31.5h0M25.2 29.2h0" stroke="#c81512" stroke-width="1.50" stroke-linecap="round" opacity="0.63" fill="none"/><path d="M21.2 32.4h0M9.3 33.4h0M9.3 33.1h0M4.1 32.6h0M8.9 32.8h0M17.6 29.2h0" stroke="#c81512" stroke-width="1.30" stroke-linecap="round" opacity="0.74" fill="none"/><path d="M3.2 21.7h0M3.9 23.8h0" stroke="#d01a14" stroke-width="0.96" stroke-linecap="round" opacity="0.34" fill="none"/><path d="M2.8 14.1h0M31.5 28.2h0M32.3 17.8h0" stroke="#d01a14" stroke-width="1.34" stroke-linecap="round" opacity="0.41" fill="none"/><path d="M3.6 12.0h0M32.6 4.3h0M32.5 13.6h0" stroke="#d01a14" stroke-width="1.21" stroke-linecap="round" opacity="0.49" fill="none"/><path d="M4.6 30.1h0M4.0 23.3h0M4.7 29.2h0M32.2 3.4h0" stroke="#d01a14" stroke-width="1.09" stroke-linecap="round" opacity="0.56" fill="none"/></g></g><g id="act2"><g filter="url(#b2)"><path d="M20.8 2.2C18.8 2.2 17.1 3.4 15.4 4.1C13.7 4.7 12.4 4.8 10.8 6.0C9.1 7.2 6.5 9.5 5.4 11.4C4.3 13.3 4.7 15.6 4.2 17.5C3.7 19.5 2.0 21.1 2.3 22.9C2.6 24.7 3.7 27.0 6.2 28.3C8.6 29.6 14.1 31.1 16.9 30.6C19.7 30.2 20.8 26.6 23.1 25.6C25.4 24.6 28.7 24.8 30.8 24.5C32.8 24.1 34.6 24.6 35.2 23.3C35.9 22.0 35.2 19.3 34.6 16.8C34.1 14.3 33.2 10.5 31.9 8.3C30.6 6.1 28.8 4.7 26.9 3.7C25.1 2.7 22.7 2.1 20.8 2.2Z" fill="#5a0808" opacity="0.6"/></g><g filter="url(#b1)"><path d="M30.7 10.2h0M12.9 22.8h0M27.0 15.4h0M13.0 20.9h0M7.4 26.3h0M8.4 17.3h0M19.8 18.9h0M8.5 12.4h0M15.7 27.0h0M4.3 19.1h0M9.6 24.6h0M7.3 23.1h0M3.3 22.4h0M13.5 24.0h0M10.2 21.6h0M15.6 9.2h0M21.9 3.8h0M25.9 5.1h0M12.2 28.5h0M7.7 13.4h0M17.2 7.8h0M21.5 24.9h0M26.7 4.8h0M6.4 19.3h0M27.1 7.8h0M26.9 9.7h0M15.6 20.7h0M28.7 18.7h0" stroke="#b01210" stroke-width="1.35" stroke-linecap="round" opacity="0.40" fill="none"/><path d="M8.4 26.2h0M11.5 7.0h0M6.9 22.1h0M9.5 20.8h0M10.0 16.7h0M29.1 22.7h0M10.3 8.7h0M22.0 17.0h0M6.9 12.1h0M20.8 22.9h0M8.4 17.7h0M25.2 21.7h0M5.5 21.4h0M16.6 12.2h0M11.2 24.2h0M33.2 18.1h0M10.0 8.3h0M12.8 25.9h0M8.9 21.0h0M28.9 15.1h0M16.9 10.1h0M15.4 19.1h0M27.9 6.8h0M29.4 15.1h0M17.0 24.4h0M7.6 10.3h0M19.1 18.5h0M23.3 22.7h0M32.2 18.7h0M15.1 13.8h0" stroke="#b01210" stroke-width="2.25" stroke-linecap="round" opacity="0.50" fill="none"/><path d="M12.6 23.0h0M6.2 17.8h0M11.9 13.9h0M19.4 19.8h0M5.7 24.1h0M11.1 14.6h0M13.1 23.4h0M5.8 20.9h0M25.4 4.1h0M15.8 10.6h0M12.6 25.4h0M10.3 14.0h0M15.4 27.4h0M28.3 23.5h0M7.4 22.9h0M29.1 20.6h0M8.1 20.2h0M15.6 11.6h0M14.8 7.5h0M15.6 18.3h0M27.7 14.4h0M8.8 9.3h0M33.5 18.7h0M18.0 23.3h0M19.8 16.0h0M26.1 22.3h0M19.8 22.5h0M19.2 8.8h0M13.3 9.7h0M21.8 25.6h0M26.3 22.6h0" stroke="#b01210" stroke-width="1.95" stroke-linecap="round" opacity="0.60" fill="none"/><path d="M20.5 12.3h0M28.3 18.8h0M19.3 18.9h0M10.1 22.9h0M31.2 15.8h0M14.8 25.6h0M22.9 4.6h0M30.0 14.1h0M31.9 18.8h0M18.9 3.6h0M24.5 12.8h0M20.9 18.4h0M18.8 19.6h0M21.6 20.6h0M17.1 12.9h0M19.1 7.7h0M15.0 21.7h0M19.0 20.4h0M30.9 16.1h0M27.6 18.8h0M8.9 13.5h0M30.5 22.9h0M24.6 21.3h0M9.7 22.6h0M11.9 26.8h0M19.4 9.3h0" stroke="#b01210" stroke-width="1.65" stroke-linecap="round" opacity="0.70" fill="none"/><path d="M24.5 22.3h0M32.8 17.3h0M19.8 4.2h0M20.4 21.5h0M29.2 20.3h0M9.7 12.9h0M21.7 5.9h0M26.1 5.2h0M9.6 17.2h0M29.2 13.3h0M22.4 22.4h0M25.8 22.9h0M21.5 25.4h0M11.9 15.2h0M10.2 24.0h0M15.0 19.3h0M25.1 15.7h0" stroke="#e81c16" stroke-width="1.12" stroke-linecap="round" opacity="0.55" fill="none"/><path d="M24.2 20.8h0M15.2 14.7h0M22.8 17.3h0M17.2 5.8h0M7.4 22.8h0M19.7 22.4h0M24.5 21.6h0M30.7 17.1h0M25.1 11.0h0M6.5 15.6h0M23.6 18.3h0" stroke="#e81c16" stroke-width="1.88" stroke-linecap="round" opacity="0.65" fill="none"/><path d="M21.7 12.9h0M17.1 7.7h0M9.1 16.1h0M25.5 17.1h0M9.6 22.7h0M23.5 8.1h0M24.9 14.9h0M25.5 6.7h0" stroke="#e81c16" stroke-width="1.62" stroke-linecap="round" opacity="0.75" fill="none"/><path d="M5.7 24.1h0M32.9 20.3h0M13.3 12.7h0M23.5 9.4h0M15.6 19.9h0M20.3 26.3h0M8.5 14.8h0M16.1 6.8h0M10.1 10.2h0" stroke="#e81c16" stroke-width="1.38" stroke-linecap="round" opacity="0.85" fill="none"/><path d="M12.6 12.2h0M30.5 21.0h0M7.5 24.0h0" stroke="#ff2a20" stroke-width="1.50" stroke-linecap="round" opacity="0.74" fill="none"/><path d="M31.5 19.5h0M6.5 23.5h0" stroke="#ff2a20" stroke-width="2.10" stroke-linecap="round" opacity="0.81" fill="none"/><path d="M13.2 10.5h0M14.0 11.5h0" stroke="#ff2a20" stroke-width="1.90" stroke-linecap="round" opacity="0.89" fill="none"/><path d="M31.0 18.0h0" stroke="#ff2a20" stroke-width="1.70" stroke-linecap="round" opacity="0.96" fill="none"/></g></g><g id="act3"><g filter="url(#b2)"><rect x="-1" y="-1" width="38" height="38" fill="#3a0505" opacity="0.38"/><path d="M0.9 7.5C1.6 9.1 3.4 13.9 4.8 16.8C6.2 19.8 7.5 23.0 9.4 25.2C11.3 27.4 14.0 28.8 16.3 29.8C18.6 30.8 21.0 31.8 23.2 31.4C25.4 31.0 27.8 29.0 29.4 27.5C30.9 26.0 31.7 24.9 32.5 22.2C33.3 19.5 33.7 14.5 34.0 11.4C34.3 8.3 34.3 5.0 34.4 3.7" fill="none" stroke="#c01410" stroke-width="2.4" opacity="0.5"/></g><g filter="url(#b15)"><path d="M12.9 29.9L13.1 27.3M31.4 23.6L31.5 20.4M14.9 30.7L14.8 25.9M34.9 5.3L35.1 2.6M34.5 13.8L34.3 10.5M34.4 18.9L34.3 15.9M3.2 13.4L3.4 10.5M24.6 32.8L25.0 26.9M2.4 10.7L2.2 6.3M35.3 11.6L35.2 8.2" stroke="#d81a12" stroke-width="1.05" stroke-linecap="round" opacity="0.19" fill="none"/><path d="M9.7 26.2L9.8 23.6M34.0 8.4L33.9 4.2M32.7 20.2L32.7 16.5M4.1 15.1L4.3 9.9M24.6 32.1L24.8 28.9M33.5 5.5L33.5 2.6M30.8 28.6L30.7 23.6M30.6 25.8L31.0 21.6M25.4 32.9L25.3 27.7M31.7 25.5L31.9 22.7M34.5 10.9L34.7 8.2M4.8 18.5L4.9 13.5M22.0 34.8L22.0 29.5M7.0 23.7L7.2 18.5M33.2 8.0L33.5 3.4M30.4 28.3L30.5 25.1M34.8 8.3L34.9 4.0M2.5 11.0L2.7 7.9M29.9 30.9L30.2 25.3" stroke="#d81a12" stroke-width="1.50" stroke-linecap="round" opacity="0.28" fill="none"/><path d="M7.2 21.7L7.4 17.0M11.2 26.5L11.2 23.2M15.6 33.0L16.0 28.3M32.7 13.6L32.8 10.7M24.3 33.6L24.7 29.0" stroke="#d81a12" stroke-width="1.95" stroke-linecap="round" opacity="0.36" fill="none"/><path d="M24.1 11.0L24.5 6.0M33.7 20.0L33.6 13.1M2.8 10.5L2.8 7.2M13.7 7.0L13.8 3.7M28.0 32.2L28.1 28.1M8.9 5.7L9.0 2.2M2.2 19.8L2.4 15.5M33.3 29.5L33.2 26.5M30.7 31.9L30.9 26.2M34.0 6.1L33.8 2.4M2.2 32.2L2.1 28.2M9.2 8.7L9.5 3.5M26.0 7.2L26.1 4.0M11.2 17.9L11.3 13.6M5.0 28.3L5.3 24.5" stroke="#8a0e0a" stroke-width="1.05" stroke-linecap="round" opacity="0.12" fill="none"/><path d="M3.1 7.1L3.4 1.7M24.4 24.0L24.8 19.7M26.4 11.6L26.5 6.0M24.8 18.7L25.1 11.9M33.8 19.4L34.3 13.7M11.7 25.5L11.9 20.5M7.3 6.2L7.8 -0.2" stroke="#8a0e0a" stroke-width="1.50" stroke-linecap="round" opacity="0.15" fill="none"/><path d="M11.4 31.9L11.5 26.3M26.8 32.9L27.3 27.6M24.8 19.2L24.8 13.3M13.4 10.8L13.7 6.6M26.2 16.8L26.2 13.0M6.2 14.2L6.2 7.8M6.0 24.1L6.3 17.9M15.9 28.8L16.3 25.1M22.2 20.3L22.2 15.9M4.4 9.2L4.3 5.4M31.5 22.0L31.4 17.8M18.4 31.6L18.7 27.0M2.8 13.3L2.7 6.5M8.2 30.5L8.5 27.5" stroke="#8a0e0a" stroke-width="1.95" stroke-linecap="round" opacity="0.18" fill="none"/><path d="M10.5 27.3L10.2 24.7M21.0 32.5L20.9 29.5" stroke="#ff2a20" stroke-width="1.05" stroke-linecap="round" opacity="0.40" fill="none"/><path d="M32.2 25.4L32.2 21.6M23.0 32.5L23.2 29.5" stroke="#ff2a20" stroke-width="1.50" stroke-linecap="round" opacity="0.50" fill="none"/><path d="M9.0 25.4L9.1 22.6M32.6 24.0L32.3 19.0M25.0 33.0L25.1 28.0M17.0 31.4L16.9 28.6M6.5 30.3L6.3 27.7M4.0 31.0L4.2 28.0M10.0 21.2L10.1 16.8" stroke="#ff2a20" stroke-width="1.95" stroke-linecap="round" opacity="0.60" fill="none"/></g></g><g id="act4"><g filter="url(#b2)"><path d="M15.5 7.5C16.8 7.2 19.1 7.9 20.9 8.3C22.7 8.7 24.9 8.7 26.3 9.8C27.7 11.0 29.1 13.2 29.4 15.2C29.7 17.3 28.7 20.0 28.2 22.2C27.7 24.3 27.5 27.0 26.3 28.3C25.1 29.7 22.8 30.1 20.9 30.2C19.0 30.4 16.2 30.2 14.8 29.1C13.4 28.0 13.4 25.5 12.5 23.7C11.6 21.9 9.7 20.0 9.4 18.3C9.1 16.6 9.9 15.0 10.5 13.7C11.2 12.4 12.4 11.6 13.2 10.6C14.1 9.6 14.3 7.9 15.5 7.5Z" fill="#680a08" opacity="0.5"/></g><g filter="url(#b1)"><path d="M21.1 15.8h0M22.2 9.5h0M28.0 17.4h0M16.9 28.5h0M18.8 13.3h0M14.4 21.6h0M16.0 26.2h0M25.6 19.7h0M28.1 17.7h0M16.8 26.3h0M15.9 16.2h0M16.0 9.3h0M24.5 22.0h0M27.0 15.7h0M21.8 29.1h0M18.5 24.4h0M10.8 19.6h0M16.4 16.6h0M18.2 20.1h0M23.2 13.2h0M20.4 28.0h0M21.8 24.2h0M18.3 22.6h0M27.0 14.2h0" stroke="#c81512" stroke-width="1.30" stroke-linecap="round" opacity="0.55" fill="none"/><path d="M21.9 21.6h0M22.6 14.7h0M24.5 13.7h0M25.5 27.8h0M16.4 21.0h0M14.7 14.5h0M16.9 13.7h0M10.9 18.5h0" stroke="#c81512" stroke-width="1.90" stroke-linecap="round" opacity="0.65" fill="none"/><path d="M28.4 21.0h0M14.4 11.0h0M22.6 15.6h0M26.1 11.2h0M16.6 28.9h0M21.8 28.3h0M16.4 18.8h0M16.6 24.9h0M22.9 9.0h0M25.5 17.0h0M11.1 20.2h0M24.4 14.7h0M19.8 24.5h0M11.4 15.5h0M15.3 20.4h0" stroke="#c81512" stroke-width="1.70" stroke-linecap="round" opacity="0.75" fill="none"/><path d="M20.8 24.5h0M23.6 18.0h0M15.1 25.7h0M24.1 25.7h0M12.6 11.8h0M14.2 27.6h0M18.8 17.2h0M18.6 10.7h0M16.0 27.8h0M13.1 19.1h0M12.5 13.0h0" stroke="#c81512" stroke-width="1.50" stroke-linecap="round" opacity="0.85" fill="none"/><path d="M23.9 18.9h0M24.9 20.3h0M20.9 16.6h0M17.2 18.3h0M21.0 24.3h0M14.0 12.5h0M15.6 16.9h0M24.3 20.3h0M25.5 12.8h0M23.8 15.8h0" stroke="#ff2a20" stroke-width="1.10" stroke-linecap="round" opacity="0.60" fill="none"/><path d="M12.9 16.5h0M14.0 20.2h0M15.6 14.8h0M27.1 18.0h0M18.9 26.3h0M16.4 11.1h0M25.0 15.4h0" stroke="#ff2a20" stroke-width="1.70" stroke-linecap="round" opacity="0.70" fill="none"/><path d="M24.9 27.4h0M17.1 17.6h0M16.1 13.7h0M19.6 25.9h0M21.9 19.8h0M24.2 23.7h0M16.2 21.5h0M19.3 16.9h0M18.6 16.3h0M17.1 10.7h0" stroke="#ff2a20" stroke-width="1.50" stroke-linecap="round" opacity="0.80" fill="none"/><path d="M14.7 19.2h0M16.7 19.2h0M15.9 13.5h0M25.8 15.8h0M16.8 14.3h0M25.8 21.1h0M17.2 27.9h0" stroke="#ff2a20" stroke-width="1.30" stroke-linecap="round" opacity="0.90" fill="none"/><path d="M24.3 10.0L25.5 8.4M26.6 25.6L28.0 28.3M15.2 8.9L14.8 6.8M24.7 10.2L25.6 8.5M15.3 28.4L14.7 30.0M22.6 28.8L23.1 30.8M17.8 28.8L17.6 31.0M11.2 20.0L9.0 22.1M26.5 24.9L28.3 25.5M24.9 10.3L25.8 7.9M11.6 20.6L8.8 21.1M13.4 24.6L12.6 27.7M10.8 16.1L8.0 15.7M10.4 18.4L8.2 19.5" stroke="#c81512" stroke-width="0.7" stroke-linecap="round" opacity="0.55" fill="none"/><ellipse cx="16.7" cy="9.6" rx="1.7" ry="1.4" fill="#ff2a20"/><ellipse cx="15" cy="13.4" rx="2.2" ry="1.1" fill="#ff2a20" opacity="0.9"/><path d="M0.9 13.7L4 16L7 18.5L9.4 19" fill="none" stroke="#c81512" stroke-width="1.3" opacity="0.45"/><path d="M15.6 4L16.5 7.5M27 7.5L25.5 10" fill="none" stroke="#c81512" stroke-width="1.0" opacity="0.4"/></g></g><g id="act5"><g filter="url(#b2)"><path d="M2.7 34.5C2.8 33.2 3.0 29.0 3.5 26.8C4.0 24.6 4.5 23.2 5.8 21.4C7.1 19.6 9.4 17.4 11.2 16.0C13.0 14.6 14.6 13.6 16.5 12.9C18.4 12.2 20.5 11.5 22.7 11.8C24.9 12.1 27.8 12.8 29.6 14.5C31.4 16.2 32.7 19.9 33.5 22.2C34.3 24.5 34.5 26.2 34.2 28.3C33.9 30.4 32.3 33.5 31.9 34.5Z" fill="#400606" opacity="0.5"/></g><g filter="url(#b1)"><path d="M2.7 34.5C2.8 33.2 3.0 29.0 3.5 26.8C4.0 24.6 4.5 23.2 5.8 21.4C7.1 19.6 9.4 17.4 11.2 16.0C13.0 14.6 14.6 13.6 16.5 12.9C18.4 12.2 20.5 11.5 22.7 11.8C24.9 12.1 27.8 12.8 29.6 14.5C31.4 16.2 32.7 19.9 33.5 22.2C34.3 24.5 34.5 26.2 34.2 28.3C33.9 30.4 32.3 33.5 31.9 34.5" fill="none" stroke="#a01210" stroke-width="1.2" opacity="0.6"/><path d="M9.8 18.0h0M33.9 25.0h0M31.4 17.3h0M19.5 12.8h0M2.8 28.1h0M15.9 14.1h0" stroke="#d01814" stroke-width="1.09" stroke-linecap="round" opacity="0.40" fill="none"/><path d="M20.3 13.0h0M7.3 20.0h0M7.5 19.5h0M30.2 16.2h0" stroke="#d01814" stroke-width="1.61" stroke-linecap="round" opacity="0.50" fill="none"/><path d="M27.2 13.4h0M34.1 22.7h0M3.2 28.7h0" stroke="#d01814" stroke-width="1.44" stroke-linecap="round" opacity="0.60" fill="none"/><path d="M34.5 28.1h0M16.2 12.7h0M10.1 18.2h0M9.1 18.6h0M6.1 21.8h0M32.2 18.3h0M3.6 27.5h0" stroke="#d01814" stroke-width="1.26" stroke-linecap="round" opacity="0.70" fill="none"/><path d="M33.3 26.0L35.0 26.9M6.3 21.4L4.5 22.4M12.2 16.3L10.8 15.3M12.5 26.9L10.4 27.8M4.8 24.5L2.8 26.5M16.6 13.7L16.3 10.4M29.9 16.8L32.6 15.9M14.5 15.0L12.0 12.9M11.8 16.4L10.2 15.8M33.4 25.6L35.7 27.8M10.0 18.2L7.5 17.3M11.0 17.2L8.5 16.7M6.7 20.8L4.0 22.5M20.2 26.9L19.2 29.5M5.2 24.3L3.3 25.0M29.3 15.7L31.9 14.9M33.2 25.1L34.7 26.0M33.2 26.7L35.8 27.0M33.1 24.4L35.8 25.8M7.4 20.7L5.1 20.3" stroke="#a01210" stroke-width="0.7" stroke-linecap="round" opacity="0.5" fill="none"/><path d="M25.5 25.2L25.4 22.1M16.3 27.6L16.3 23.2M18.5 29.0L18.4 23.0M13.7 33.8L13.8 30.7M26.1 31.1L26.1 25.3M19.3 21.5L19.3 16.6M14.8 26.3L15.1 23.1M20.9 27.2L20.6 21.3M21.5 18.1L21.5 13.2M30.7 28.5L30.8 24.6M23.1 29.3L22.8 23.6M24.4 26.8L24.2 21.5" stroke="#7a0c0a" stroke-width="0.70" stroke-linecap="round" opacity="0.29" fill="none"/><path d="M25.6 26.9L25.6 23.8M17.7 31.0L17.7 27.5M21.6 31.8L21.5 27.1M19.5 26.3L19.7 20.9M16.7 19.2L16.6 16.2M15.4 22.4L15.5 17.6M13.7 22.1L13.9 17.1" stroke="#7a0c0a" stroke-width="1.00" stroke-linecap="round" opacity="0.38" fill="none"/><path d="M7.5 29.0L7.8 25.1M22.8 34.2L22.5 28.9M16.9 21.5L16.7 16.0M9.3 34.2L9.4 30.1M22.1 18.2L22.1 13.8M16.2 21.8L16.4 17.4M7.7 22.6L7.4 20.1" stroke="#7a0c0a" stroke-width="1.30" stroke-linecap="round" opacity="0.46" fill="none"/><path d="M20.0 11.3L20.0 7.7M24.0 11.4L24.2 8.6" stroke="#7a0c0a" stroke-width="0.70" stroke-linecap="round" opacity="0.33" fill="none"/><path d="M16.0 11.6L16.2 9.4" stroke="#7a0c0a" stroke-width="1.00" stroke-linecap="round" opacity="0.40" fill="none"/><circle cx="2.8" cy="34.2" r="1.3" fill="#ff2a20" opacity="0.95"/><circle cx="32.2" cy="34.4" r="1.2" fill="#ff2a20" opacity="0.9"/><circle cx="3.9" cy="18" r="0.9" fill="#ff2a20" opacity="0.8"/><circle cx="13.5" cy="35" r="0.8" fill="#ff2a20" opacity="0.7"/></g></g><g id="act6"><g filter="url(#b1)"><path d="M11.7 3.7C13.6 3.4 17.3 4.1 19.4 4.5C21.4 4.8 22.8 5.1 24.0 6.0C25.2 6.9 25.3 9.3 26.3 9.8C27.3 10.4 29.4 8.6 30.2 9.1C30.9 9.6 31.2 11.5 30.9 12.9C30.7 14.3 28.6 16.0 28.6 17.5C28.6 19.1 30.9 20.6 30.9 22.2C30.9 23.7 30.0 25.7 28.6 26.8C27.2 27.8 24.8 27.7 22.5 28.3C20.2 28.9 17.2 30.7 14.8 30.6C12.3 30.5 9.9 28.9 7.8 27.5C5.8 26.1 3.5 24.2 2.5 22.2C1.4 20.1 1.4 17.3 1.7 15.2C1.9 13.2 3.0 11.4 4.0 9.8C5.0 8.3 6.6 7.0 7.8 6.0C9.1 5.0 9.8 3.9 11.7 3.7Z" fill="#7a0c0a" opacity="0.95"/><path d="M14.4 7.0h0M15.7 25.4h0M22.3 10.2h0M14.6 20.1h0M25.5 17.5h0M16.8 10.0h0M23.9 16.1h0M18.3 11.4h0M7.5 18.4h0M9.5 23.9h0M17.4 11.0h0M10.3 15.6h0M26.3 23.7h0M7.8 16.3h0M14.5 27.7h0M17.6 14.6h0M9.7 14.4h0M16.5 13.2h0M15.0 19.0h0M9.7 15.0h0M17.7 10.9h0M17.8 9.3h0M17.2 21.5h0M19.2 20.5h0M20.2 13.9h0" stroke="#b01210" stroke-width="1.35" stroke-linecap="round" opacity="0.45" fill="none"/><path d="M27.1 17.0h0M11.3 20.5h0M21.6 19.7h0M11.5 13.6h0M26.9 13.4h0M12.2 9.5h0M25.9 17.4h0M13.9 13.2h0M8.9 14.0h0M23.1 24.6h0M20.1 7.2h0M9.4 22.4h0M14.5 17.6h0M21.4 9.3h0M8.1 19.2h0M9.4 19.3h0M13.5 6.6h0M21.9 9.2h0M20.1 17.6h0M11.1 9.8h0M23.0 18.6h0M20.0 11.8h0M18.5 21.6h0M20.3 8.9h0M8.8 10.1h0" stroke="#b01210" stroke-width="2.25" stroke-linecap="round" opacity="0.55" fill="none"/><path d="M24.0 15.0h0M22.3 9.7h0M11.9 17.4h0M12.4 10.7h0M26.1 14.9h0M18.2 14.6h0M19.6 19.7h0M22.4 19.1h0M8.8 22.3h0M26.4 11.6h0M26.3 22.8h0M13.9 22.2h0M14.7 21.9h0M24.2 18.6h0M26.1 24.6h0M10.6 15.5h0M16.3 10.3h0M26.5 10.8h0M12.2 21.2h0M27.6 20.7h0" stroke="#b01210" stroke-width="1.95" stroke-linecap="round" opacity="0.65" fill="none"/><path d="M16.0 10.5h0M26.3 13.2h0M16.4 20.6h0M16.8 18.5h0M12.9 17.9h0M24.7 25.4h0M13.1 16.6h0M12.6 18.5h0M4.8 21.0h0M23.1 11.6h0M15.6 18.1h0M23.8 25.0h0M15.5 21.5h0M13.5 17.5h0M13.5 25.1h0M13.5 16.1h0M18.1 8.4h0M16.6 23.3h0M28.3 20.3h0M22.9 21.0h0" stroke="#b01210" stroke-width="1.65" stroke-linecap="round" opacity="0.75" fill="none"/><path d="M12.3 22.1h0M12.6 24.0h0M11.4 13.7h0M6.7 20.8h0M27.6 19.7h0M11.0 24.6h0M21.3 19.6h0M18.9 16.5h0M10.1 18.0h0M8.5 16.3h0M13.5 10.7h0M8.8 18.0h0M24.1 16.2h0M6.7 11.6h0" stroke="#3a0404" stroke-width="1.32" stroke-linecap="round" opacity="0.34" fill="none"/><path d="M13.0 16.3h0M15.9 15.1h0M7.9 15.1h0M12.5 10.0h0M19.3 26.3h0M26.5 23.3h0M13.4 9.5h0M21.4 11.4h0M17.7 22.9h0M20.9 18.8h0M8.5 11.0h0" stroke="#3a0404" stroke-width="2.08" stroke-linecap="round" opacity="0.41" fill="none"/><path d="M16.1 23.4h0M9.8 19.6h0M12.8 17.0h0M15.9 6.9h0M19.1 22.0h0M16.8 21.8h0M5.3 15.6h0M16.1 25.2h0M21.6 20.2h0M12.2 16.0h0M14.1 6.7h0" stroke="#3a0404" stroke-width="1.83" stroke-linecap="round" opacity="0.49" fill="none"/><path d="M19.3 20.0h0M11.4 19.9h0M17.5 18.7h0M19.2 18.5h0M7.9 15.8h0M15.0 8.2h0M12.5 21.9h0M16.8 12.4h0M15.9 14.9h0M12.9 16.7h0M8.7 13.8h0M25.6 15.1h0M21.9 9.1h0M26.1 15.6h0" stroke="#3a0404" stroke-width="1.58" stroke-linecap="round" opacity="0.56" fill="none"/><path d="M12.0 4.7C13.8 4.4 17.3 5.0 19.2 5.4C21.1 5.7 22.4 6.0 23.5 6.8C24.5 7.6 24.7 9.9 25.6 10.4C26.6 10.9 28.5 9.2 29.2 9.7C29.9 10.1 30.1 11.9 29.9 13.2C29.7 14.6 27.8 16.1 27.8 17.5C27.8 19.0 29.9 20.4 29.9 21.8C29.9 23.3 29.1 25.2 27.8 26.1C26.4 27.1 24.2 27.0 22.0 27.6C19.9 28.1 17.1 29.8 14.9 29.7C12.6 29.6 10.3 28.1 8.4 26.8C6.5 25.5 4.4 23.7 3.4 21.8C2.5 19.9 2.5 17.3 2.7 15.4C3.0 13.5 3.9 11.8 4.9 10.4C5.8 9.0 7.2 7.8 8.4 6.8C9.6 5.9 10.2 4.9 12.0 4.7Z" fill="none" stroke="#f01c16" stroke-width="2.5" opacity="0.95"/><path d="M4.0 11.5h0M3.2 17.2h0M4.0 20.4h0M28.7 14.8h0M29.1 22.1h0M24.7 8.5h0M30.4 15.2h0M23.0 5.7h0M6.9 25.8h0M21.2 6.3h0M19.6 4.3h0M26.4 26.3h0M4.4 23.2h0" stroke="#ff2a20" stroke-width="1.32" stroke-linecap="round" opacity="0.74" fill="none"/><path d="M30.0 10.8h0M26.0 26.4h0M23.3 6.4h0M30.1 12.1h0M23.4 27.5h0M26.6 27.9h0M5.3 10.4h0M29.2 24.6h0M28.1 10.2h0M28.7 9.9h0M25.1 9.2h0M14.3 4.7h0M27.6 9.4h0" stroke="#ff2a20" stroke-width="2.08" stroke-linecap="round" opacity="0.81" fill="none"/><path d="M7.7 26.5h0M3.5 11.3h0M4.8 22.7h0M4.7 10.1h0M4.4 19.7h0M30.5 23.3h0M29.5 13.5h0M12.5 29.1h0M29.7 15.2h0M29.7 12.7h0M28.5 17.4h0" stroke="#ff2a20" stroke-width="1.83" stroke-linecap="round" opacity="0.89" fill="none"/><path d="M17.3 29.1h0M29.2 11.1h0M26.3 26.5h0M30.6 12.7h0M29.8 11.9h0M27.0 9.3h0M18.7 28.9h0M26.9 26.8h0M30.2 15.8h0M7.0 6.6h0M25.6 10.5h0M3.3 19.1h0M28.5 18.9h0" stroke="#ff2a20" stroke-width="1.58" stroke-linecap="round" opacity="0.96" fill="none"/><path d="M7.1 7.8L5.8 5.5M30.2 13.1L32.3 12.0M7.8 7.2L6.5 5.9M28.9 24.5L30.4 26.1M30.2 13.2L31.7 12.5M20.4 5.6L21.9 2.9M24.1 7.8L27.0 6.5M25.5 10.1L28.2 8.7M4.0 22.6L2.4 23.7M29.6 23.3L30.6 24.8M3.9 22.5L1.7 24.5M16.5 29.4L16.1 31.0M29.0 19.5L30.5 20.2M30.1 13.1L31.7 12.7M3.3 13.0L1.4 13.5M2.9 18.5L-0.2 19.0M9.6 5.8L9.2 3.9M3.1 20.8L1.0 21.8M5.4 24.0L3.8 25.2M11.3 28.2L10.1 30.2M2.5 16.2L0.6 15.6M10.5 5.2L8.7 4.0M28.3 25.7L30.1 26.6M10.1 27.8L8.0 29.1M25.0 9.3L27.5 8.1M25.0 26.9L25.7 28.3M15.5 4.9L15.3 1.7M5.2 23.8L4.1 25.4M20.2 5.6L20.9 3.7M9.3 6.0L7.7 4.3M30.0 21.3L32.0 22.4M11.9 4.5L10.6 2.0M6.1 8.9L4.8 6.8M5.6 9.2L3.1 8.7M29.7 10.9L32.8 11.2M9.8 27.6L7.7 29.2" stroke="#e81c16" stroke-width="0.8" stroke-linecap="round" opacity="0.8" fill="none"/><path d="M21.4 20.9h0M14.0 17.4h0M13.9 18.7h0M20.1 17.9h0M11.4 18.5h0" stroke="#e81c16" stroke-width="1.32" stroke-linecap="round" opacity="0.64" fill="none"/><path d="M14.6 17.5h0M19.5 20.7h0M16.8 18.3h0M16.1 17.5h0" stroke="#e81c16" stroke-width="2.08" stroke-linecap="round" opacity="0.73" fill="none"/><path d="M19.3 20.3h0M20.0 18.2h0M15.9 19.7h0M15.5 17.5h0M12.9 17.9h0M11.8 17.6h0" stroke="#e81c16" stroke-width="1.83" stroke-linecap="round" opacity="0.82" fill="none"/><path d="M15.0 20.5h0M12.8 17.9h0M21.6 19.4h0M19.3 20.6h0M12.0 20.9h0" stroke="#e81c16" stroke-width="1.58" stroke-linecap="round" opacity="0.91" fill="none"/><path d="M31 0.2H35.5V3L33.5 4.2L31.5 2.5Z" fill="#ff2a20"/><ellipse cx="34.9" cy="20" rx="0.6" ry="1.6" fill="#ff2a20" opacity="0.8"/></g></g></defs>
<rect x="0" y="0" width="520" height="574" fill="#fff"/>
<text x="7.40" y="16.70" font-size="10.6" text-anchor="start" fill="#000" font-weight="bold" textLength="8.30" lengthAdjust="spacingAndGlyphs" >A</text><text x="66.20" y="25.70" font-size="6.4" text-anchor="middle" fill="#000" font-weight="bold" textLength="32.40" lengthAdjust="spacingAndGlyphs" >CD19 CAR</text><text x="141.80" y="25.70" font-size="6.4" text-anchor="middle" fill="#000" font-weight="bold" textLength="32.40" lengthAdjust="spacingAndGlyphs" >CD20 CAR</text><text x="217.30" y="25.70" font-size="6.4" text-anchor="middle" fill="#000" font-weight="bold" textLength="27.40" lengthAdjust="spacingAndGlyphs" >TanCAR7</text><path d="M28.45 28.6H255.25" fill="none" stroke="#333" stroke-width="1.3"/><path d="M29.1 28V35.6" fill="none" stroke="#333" stroke-width="1.3"/><path d="M104.1 28V35.6" fill="none" stroke="#333" stroke-width="2.7"/><path d="M179.5 28V35.6" fill="none" stroke="#333" stroke-width="2.7"/><path d="M254.6 28V35.6" fill="none" stroke="#333" stroke-width="1.3"/><text x="47.50" y="37.80" font-size="6.5" text-anchor="middle" fill="#0c0c0c" textLength="21.00" lengthAdjust="spacingAndGlyphs" >vertical</text><text x="86.00" y="37.80" font-size="6.5" text-anchor="middle" fill="#0c0c0c" textLength="26.20" lengthAdjust="spacingAndGlyphs" >interface</text><text x="121.30" y="37.80" font-size="6.5" text-anchor="middle" fill="#0c0c0c" textLength="21.00" lengthAdjust="spacingAndGlyphs" >vertical</text><text x="160.00" y="37.80" font-size="6.5" text-anchor="middle" fill="#0c0c0c" textLength="26.20" lengthAdjust="spacingAndGlyphs" >interface</text><text x="198.00" y="37.80" font-size="6.5" text-anchor="middle" fill="#0c0c0c" textLength="21.00" lengthAdjust="spacingAndGlyphs" >vertical</text><text x="236.70" y="37.80" font-size="6.5" text-anchor="middle" fill="#0c0c0c" textLength="26.20" lengthAdjust="spacingAndGlyphs" >interface</text><text x="27.20" y="60.70" font-size="6.4" text-anchor="end" fill="#8cc63f" textLength="13.40" lengthAdjust="spacingAndGlyphs" >CAR</text><text x="27.20" y="99.30" font-size="6.4" text-anchor="end" fill="#e8332a" textLength="20.00" lengthAdjust="spacingAndGlyphs" >F-actin</text><text x="27.20" y="138.70" font-size="6.4" text-anchor="end" fill="#f7b733" textLength="19.40" lengthAdjust="spacingAndGlyphs" >Merge</text><text x="27.20" y="191.90" font-size="6.4" text-anchor="end" fill="#111" textLength="8.60" lengthAdjust="spacingAndGlyphs" >3D</text><clipPath id="tc1"><rect x="0" y="0" width="35.5" height="35.5"/></clipPath><g transform="translate(30.2 42.25)"><rect width="35.5" height="35.5" fill="#000"/><g clip-path="url(#tc1)"><use href="#car1"/><rect x="27.20" y="1.20" width="6.6" height="0.8" fill="#e8e8e8"/></g></g><clipPath id="tc2"><rect x="0" y="0" width="35.5" height="35.5"/></clipPath><g transform="translate(67.5 42.25)"><rect width="35.5" height="35.5" fill="#000"/><g clip-path="url(#tc2)"><use href="#car2"/><rect x="29.20" y="33.60" width="5" height="0.8" fill="#e8e8e8"/></g></g><clipPath id="tc3"><rect x="0" y="0" width="35.5" height="35.5"/></clipPath><g transform="translate(104.85 42.25)"><rect width="35.5" height="35.5" fill="#000"/><g clip-path="url(#tc3)"><use href="#car3"/><rect x="28.00" y="33.60" width="6" height="0.8" fill="#e8e8e8"/></g></g><clipPath id="tc4"><rect x="0" y="0" width="35.5" height="35.5"/></clipPath><g transform="translate(142.15 42.25)"><rect width="35.5" height="35.5" fill="#000"/><g clip-path="url(#tc4)"><use href="#car4"/><rect x="29.20" y="33.60" width="5.2" height="0.8" fill="#e8e8e8"/></g></g><clipPath id="tc5"><rect x="0" y="0" width="35.5" height="35.5"/></clipPath><g transform="translate(179.5 42.25)"><rect width="35.5" height="35.5" fill="#000"/><g clip-path="url(#tc5)"><use href="#car5"/><rect x="27.80" y="1.20" width="6.4" height="0.8" fill="#e8e8e8"/></g></g><clipPath id="tc6"><rect x="0" y="0" width="35.5" height="35.5"/></clipPath><g transform="translate(217.05 42.25)"><rect width="35.5" height="35.5" fill="#000"/><g clip-path="url(#tc6)"><use href="#car6"/><rect x="32.00" y="33.60" width="2.2" height="0.8" fill="#e8e8e8"/></g></g><clipPath id="tc7"><rect x="0" y="0" width="35.5" height="35.5"/></clipPath><g transform="translate(30.2 79.5)"><rect width="35.5" height="35.5" fill="#000"/><g clip-path="url(#tc7)"><use href="#act1"/><rect x="27.20" y="1.20" width="6.6" height="0.8" fill="#e8e8e8"/></g></g><clipPath id="tc8"><rect x="0" y="0" width="35.5" height="35.5"/></clipPath><g transform="translate(67.5 79.5)"><rect width="35.5" height="35.5" fill="#000"/><g clip-path="url(#tc8)"><use href="#act2"/><rect x="29.20" y="33.60" width="5" height="0.8" fill="#e8e8e8"/></g></g><clipPath id="tc9"><rect x="0" y="0" width="35.5" height="35.5"/></clipPath><g transform="translate(104.85 79.5)"><rect width="35.5" height="35.5" fill="#000"/><g clip-path="url(#tc9)"><use href="#act3"/><rect x="28.00" y="33.60" width="6" height="0.8" fill="#e8e8e8"/></g></g><clipPath id="tc10"><rect x="0" y="0" width="35.5" height="35.5"/></clipPath><g transform="translate(142.15 79.5)"><rect width="35.5" height="35.5" fill="#000"/><g clip-path="url(#tc10)"><use href="#act4"/><rect x="29.20" y="33.60" width="5.2" height="0.8" fill="#e8e8e8"/></g></g><clipPath id="tc11"><rect x="0" y="0" width="35.5" height="35.5"/></clipPath><g transform="translate(179.5 79.5)"><rect width="35.5" height="35.5" fill="#000"/><g clip-path="url(#tc11)"><use href="#act5"/><rect x="27.80" y="1.20" width="6.4" height="0.8" fill="#e8e8e8"/></g></g><clipPath id="tc12"><rect x="0" y="0" width="35.5" height="35.5"/></clipPath><g transform="translate(217.05 79.5)"><rect width="35.5" height="35.5" fill="#000"/><g clip-path="url(#tc12)"><use href="#act6"/><rect x="32.00" y="33.60" width="2.2" height="0.8" fill="#e8e8e8"/></g></g><clipPath id="tc13"><rect x="0" y="0" width="35.5" height="35.5"/></clipPath><g transform="translate(30.2 116.75)"><rect width="35.5" height="35.5" fill="#000"/><g clip-path="url(#tc13)"><g style="isolation:isolate"><use href="#car1"/><g style="mix-blend-mode:screen"><use href="#act1"/></g></g><rect x="27.20" y="1.20" width="6.6" height="0.8" fill="#e8e8e8"/></g></g><clipPath id="tc14"><rect x="0" y="0" width="35.5" height="35.5"/></clipPath><g transform="translate(67.5 116.75)"><rect width="35.5" height="35.5" fill="#000"/><g clip-path="url(#tc14)"><g style="isolation:isolate"><use href="#car2"/><g style="mix-blend-mode:screen"><use href="#act2"/></g></g><rect x="29.20" y="33.60" width="5" height="0.8" fill="#e8e8e8"/></g></g><clipPath id="tc15"><rect x="0" y="0" width="35.5" height="35.5"/></clipPath><g transform="translate(104.85 116.75)"><rect width="35.5" height="35.5" fill="#000"/><g clip-path="url(#tc15)"><g style="isolation:isolate"><use href="#car3"/><g style="mix-blend-mode:screen"><use href="#act3"/></g></g><rect x="28.00" y="33.60" width="6" height="0.8" fill="#e8e8e8"/></g></g><clipPath id="tc16"><rect x="0" y="0" width="35.5" height="35.5"/></clipPath><g transform="translate(142.15 116.75)"><rect width="35.5" height="35.5" fill="#000"/><g clip-path="url(#tc16)"><g style="isolation:isolate"><use href="#car4"/><g style="mix-blend-mode:screen"><use href="#act4"/></g></g><rect x="29.20" y="33.60" width="5.2" height="0.8" fill="#e8e8e8"/></g></g><clipPath id="tc17"><rect x="0" y="0" width="35.5" height="35.5"/></clipPath><g transform="translate(179.5 116.75)"><rect width="35.5" height="35.5" fill="#000"/><g clip-path="url(#tc17)"><g style="isolation:isolate"><use href="#car5"/><g style="mix-blend-mode:screen"><use href="#act5"/></g></g><rect x="27.80" y="1.20" width="6.4" height="0.8" fill="#e8e8e8"/></g></g><clipPath id="tc18"><rect x="0" y="0" width="35.5" height="35.5"/></clipPath><g transform="translate(217.05 116.75)"><rect width="35.5" height="35.5" fill="#000"/><g clip-path="url(#tc18)"><g style="isolation:isolate"><use href="#car6"/><g style="mix-blend-mode:screen"><use href="#act6"/></g></g><rect x="32.00" y="33.60" width="2.2" height="0.8" fill="#e8e8e8"/></g></g><g transform="translate(30.2 154.25)"><rect width="73.0" height="63.3" fill="#000"/><g clip-path="url(#c3d)"><g filter="url(#b2)"><path d="M21 13C22 6 30 4 39 4.5C48 3.5 56.5 7 58 13C58.5 25 57 40 55 54C46 58 30 57.5 21.5 54C20.5 44 20.5 25 21 13Z" fill="url(#g3d1)"/><path d="M14.5 13C16 10 19.5 12 21 15L21.5 39C19 40 15.5 37.5 15 32C16.5 26 13.5 19 14.5 13Z" fill="#c01208" opacity="0.9"/></g><g filter="url(#b15)"><path d="M36.5 21.8L36.1 18.6M31.5 26.2L31.1 24.0M28.3 26.2L27.8 23.7M35.0 23.4L34.2 19.9M25.0 35.3L25.1 32.9M41.1 26.8L40.4 25.1M24.6 24.7L25.1 21.6M27.6 24.1L27.4 19.8" stroke="#d88a1c" stroke-width="1.26" stroke-linecap="round" opacity="0.50" fill="none"/><path d="M46.7 53.5L46.9 51.1M21.9 52.7L21.9 50.5M54.3 49.5L55.1 45.3M53.5 48.0L53.3 43.6M44.1 46.8L44.3 43.5M51.8 52.0L51.3 47.8M30.5 50.3L29.7 47.0M25.9 53.4L25.5 50.5" stroke="#f0d020" stroke-width="1.26" stroke-linecap="round" opacity="0.50" fill="none"/><path d="M37.8 36.4L38.5 32.3M25.2 29.2L24.6 27.5M35.4 25.8L35.6 22.3M24.1 38.0L23.8 34.6M40.3 31.4L41.0 28.2M49.9 33.3L50.3 30.0" stroke="#e02a0c" stroke-width="1.72" stroke-linecap="round" opacity="0.37" fill="none"/><path d="M31.7 40.0L32.0 36.3M49.9 24.7L49.8 21.5M35.3 29.7L35.3 27.6M23.8 23.3L23.8 19.7M23.6 24.1L24.3 22.1" stroke="#7a0a04" stroke-width="0.80" stroke-linecap="round" opacity="0.63" fill="none"/><path d="M35.7 48.7L35.3 45.8M44.6 47.8L43.8 43.9M23.4 48.3L23.0 45.3M33.0 48.3L33.1 46.4M45.7 52.8L45.5 50.0M29.4 53.7L29.2 50.3M47.9 51.9L48.4 48.6" stroke="#8ee020" stroke-width="1.72" stroke-linecap="round" opacity="0.37" fill="none"/><path d="M55.1 42.4L54.8 39.2M28.2 44.6L28.5 42.1M37.7 43.7L38.4 41.4" stroke="#e8c818" stroke-width="0.80" stroke-linecap="round" opacity="0.63" fill="none"/><path d="M22.5 20.1L22.3 17.9M42.2 37.6L42.6 36.0M29.7 31.8L30.2 30.0M22.4 31.2L22.8 27.9M27.5 31.0L27.7 29.1M21.8 21.2L22.4 16.7" stroke="#d88a1c" stroke-width="1.72" stroke-linecap="round" opacity="0.37" fill="none"/><path d="M23.9 45.6L24.6 42.3M37.3 44.2L37.1 40.5" stroke="#a8e020" stroke-width="1.26" stroke-linecap="round" opacity="0.50" fill="none"/><path d="M32.5 31.5L32.2 27.8M26.8 23.2L27.5 19.2M30.6 25.2L31.3 21.8M26.1 39.8L26.5 36.7M33.6 28.2L34.3 24.5M56.9 28.2L57.4 26.7" stroke="#b81608" stroke-width="1.26" stroke-linecap="round" opacity="0.50" fill="none"/><path d="M56.6 41.1L56.5 36.9M33.6 42.6L33.7 38.6M24.3 40.2L24.9 36.8M29.2 42.2L29.6 40.0M25.6 44.5L24.8 42.9M38.5 41.3L38.2 37.8" stroke="#f08a10" stroke-width="1.72" stroke-linecap="round" opacity="0.37" fill="none"/><path d="M42.2 9.0L42.1 4.6M27.8 18.4L27.7 15.3M31.1 16.6L31.5 13.2M26.7 12.5L26.4 10.1M55.8 16.4L56.6 12.8M40.3 10.2L39.7 7.7M40.6 13.0L41.2 10.8" stroke="#8a0c04" stroke-width="0.80" stroke-linecap="round" opacity="0.63" fill="none"/><path d="M27.1 24.7L26.4 22.8M50.9 28.7L50.9 25.7M30.0 36.4L30.4 33.9M29.5 20.3L29.0 17.7M24.4 35.0L25.2 31.9M37.2 32.7L37.0 29.7M48.0 28.9L47.3 26.3M39.4 30.0L39.3 27.1M48.1 31.6L48.0 29.1M52.1 34.0L51.8 30.5M49.4 24.6L49.3 22.2" stroke="#e02a0c" stroke-width="0.80" stroke-linecap="round" opacity="0.63" fill="none"/><path d="M53.6 51.3L53.4 49.0M42.8 54.3L43.1 50.1" stroke="#8ee020" stroke-width="1.26" stroke-linecap="round" opacity="0.50" fill="none"/><path d="M47.3 35.5L47.0 31.7M25.9 23.4L26.1 20.3M56.6 35.7L55.9 32.5M31.9 37.5L31.5 35.8M47.1 23.0L47.4 18.8M35.4 37.1L34.7 32.6M27.7 30.2L27.3 27.2M36.7 32.6L37.4 29.5" stroke="#b81608" stroke-width="1.72" stroke-linecap="round" opacity="0.37" fill="none"/><path d="M46.1 17.2L46.3 15.6M33.5 15.9L33.5 14.2M35.3 17.2L35.1 13.2M47.4 8.5L47.9 6.8M42.1 11.0L42.4 8.2M57.0 16.2L56.4 13.2M42.2 13.8L42.6 10.2M49.2 18.9L49.3 17.0M55.3 9.7L55.3 5.4" stroke="#d8240c" stroke-width="1.72" stroke-linecap="round" opacity="0.37" fill="none"/><path d="M34.7 48.2L34.4 43.8" stroke="#8ee020" stroke-width="0.80" stroke-linecap="round" opacity="0.63" fill="none"/><path d="M45.7 45.1L45.5 42.4M37.8 43.8L38.1 41.7" stroke="#a8e020" stroke-width="1.72" stroke-linecap="round" opacity="0.37" fill="none"/><path d="M24.6 51.4L24.5 47.9M41.0 52.4L40.9 49.5M30.0 50.1L30.8 45.8M34.2 54.1L34.1 51.1M53.3 47.0L52.8 42.5M32.1 53.3L32.5 50.9" stroke="#d0f028" stroke-width="0.80" stroke-linecap="round" opacity="0.63" fill="none"/><path d="M51.5 43.3L51.3 39.2M47.1 43.0L46.4 39.7M54.0 42.2L53.5 40.5M56.7 40.3L56.1 36.5" stroke="#f08a10" stroke-width="0.80" stroke-linecap="round" opacity="0.63" fill="none"/><path d="M26.0 16.5L25.8 14.4" stroke="#6a0804" stroke-width="1.72" stroke-linecap="round" opacity="0.37" fill="none"/><path d="M52.2 54.0L52.9 50.8M49.1 50.9L48.8 48.4M39.7 47.6L39.6 45.4M36.4 49.4L36.3 47.7M24.6 50.2L24.6 46.8M38.4 53.6L38.3 49.3" stroke="#d0f028" stroke-width="1.26" stroke-linecap="round" opacity="0.50" fill="none"/><path d="M55.1 10.1L55.3 8.2M36.2 8.7L36.8 6.6M44.4 16.5L44.7 13.3M31.6 14.1L31.2 12.0M23.2 17.1L23.1 14.9M52.4 15.5L52.8 12.7" stroke="#8a0c04" stroke-width="1.72" stroke-linecap="round" opacity="0.37" fill="none"/><path d="M36.6 12.1L36.4 9.4M54.8 19.5L54.7 17.2M39.7 16.2L39.0 12.1M44.7 18.6L44.0 14.7" stroke="#6a0804" stroke-width="1.26" stroke-linecap="round" opacity="0.50" fill="none"/><path d="M36.9 9.6L37.2 5.9M29.0 18.4L28.5 16.6" stroke="#8a0c04" stroke-width="1.26" stroke-linecap="round" opacity="0.50" fill="none"/><path d="M24.6 39.1L24.1 37.6M37.0 30.8L37.2 26.5M25.6 36.2L25.7 33.3" stroke="#e83a10" stroke-width="1.72" stroke-linecap="round" opacity="0.37" fill="none"/><path d="M36.9 50.1L36.7 47.1M43.4 52.8L44.1 48.8M45.2 49.3L45.4 45.7" stroke="#d0f028" stroke-width="1.72" stroke-linecap="round" opacity="0.37" fill="none"/><path d="M35.5 37.8L35.6 34.0M29.8 33.8L29.6 30.0M33.3 25.9L33.8 22.0M46.5 27.6L46.1 24.3M29.6 33.3L29.7 29.9M53.9 25.5L54.2 22.1" stroke="#e83a10" stroke-width="0.80" stroke-linecap="round" opacity="0.63" fill="none"/><path d="M34.9 31.6L35.1 30.0M27.8 22.2L27.2 18.7M56.7 23.9L56.0 21.6M42.9 23.0L43.1 21.4M42.0 21.9L42.2 19.3" stroke="#d88a1c" stroke-width="0.80" stroke-linecap="round" opacity="0.63" fill="none"/><path d="M49.7 47.5L49.7 44.3M44.4 49.0L44.8 47.1M21.9 48.9L22.0 46.8M43.0 49.7L43.3 46.6M42.6 49.2L42.2 45.0M45.4 54.1L45.4 52.4M54.7 52.9L54.2 49.1" stroke="#f0d020" stroke-width="1.72" stroke-linecap="round" opacity="0.37" fill="none"/><path d="M22.4 8.4L22.9 4.0M41.7 17.0L41.8 12.5M34.6 9.4L34.4 5.6M29.6 10.5L29.3 6.7" stroke="#b81408" stroke-width="1.72" stroke-linecap="round" opacity="0.37" fill="none"/><path d="M24.2 22.1L23.6 19.4M53.8 25.9L54.1 24.0M51.1 32.8L51.0 29.5M51.8 39.5L51.6 36.4M33.8 28.7L33.1 24.9M43.5 22.6L43.6 20.5M49.9 36.5L50.2 32.8" stroke="#e02a0c" stroke-width="1.26" stroke-linecap="round" opacity="0.50" fill="none"/><path d="M46.6 28.9L46.0 27.3M35.5 33.1L36.2 29.4M51.8 20.5L52.5 17.1M27.8 34.6L28.3 32.0" stroke="#7a0a04" stroke-width="1.72" stroke-linecap="round" opacity="0.37" fill="none"/><path d="M52.5 20.6L53.2 19.0M42.5 27.5L42.8 23.8M32.6 38.5L32.6 35.5M22.6 25.0L22.5 22.9M54.5 22.7L54.6 20.9M29.2 29.3L29.8 27.5" stroke="#f05a14" stroke-width="0.80" stroke-linecap="round" opacity="0.63" fill="none"/><path d="M44.3 33.1L43.6 29.3M33.7 25.6L33.1 22.2M28.4 28.1L28.5 26.0M25.7 25.9L26.3 22.2M37.5 23.3L36.8 21.7" stroke="#b81608" stroke-width="0.80" stroke-linecap="round" opacity="0.63" fill="none"/><path d="M39.3 12.1L38.9 9.5M38.2 15.5L38.7 12.3M44.5 9.5L45.2 6.7M51.3 9.6L51.7 7.8M29.8 10.5L29.6 8.2" stroke="#b81408" stroke-width="1.26" stroke-linecap="round" opacity="0.50" fill="none"/><path d="M53.1 32.5L53.4 30.9M34.7 32.8L35.1 29.5M41.1 33.1L41.4 30.0M50.1 39.4L49.7 35.6M46.8 31.0L47.3 28.3M49.0 39.6L48.8 38.0M49.5 23.1L49.0 19.6M28.5 30.0L28.0 26.1M24.7 23.8L25.2 19.5" stroke="#f05a14" stroke-width="1.26" stroke-linecap="round" opacity="0.50" fill="none"/><path d="M56.0 11.8L55.8 7.3M44.8 18.9L44.1 14.8M31.7 10.7L31.4 7.8" stroke="#d8240c" stroke-width="1.26" stroke-linecap="round" opacity="0.50" fill="none"/><path d="M49.7 19.3L50.5 17.4M39.6 13.3L39.8 11.0M32.9 10.1L32.2 6.3" stroke="#b81408" stroke-width="0.80" stroke-linecap="round" opacity="0.63" fill="none"/><path d="M38.6 24.2L38.5 19.7M27.2 33.0L26.9 29.5M56.3 26.0L56.2 21.6M49.0 22.3L48.4 19.7M50.5 39.1L49.8 36.3M41.3 24.4L41.1 20.1M43.2 24.5L43.2 22.2M27.7 20.8L27.3 16.9M54.3 31.2L54.5 27.9M47.4 23.3L46.8 19.4M53.1 22.8L53.1 20.3M54.6 21.0L53.9 18.2M37.4 36.0L37.3 34.3" stroke="#e83a10" stroke-width="1.26" stroke-linecap="round" opacity="0.50" fill="none"/><path d="M40.4 19.1L41.1 16.8M41.2 18.4L40.7 16.2M49.1 13.3L48.9 9.5M40.1 16.5L40.4 13.0M40.3 14.1L40.1 9.7" stroke="#d8240c" stroke-width="0.80" stroke-linecap="round" opacity="0.63" fill="none"/><path d="M43.5 41.9L44.2 38.7M40.1 44.6L40.5 40.6M41.8 43.3L42.2 39.0M41.7 44.7L41.8 42.5" stroke="#d82808" stroke-width="1.26" stroke-linecap="round" opacity="0.50" fill="none"/><path d="M35.9 50.6L35.5 48.2M21.2 51.4L21.0 47.4M22.3 49.6L21.7 47.9" stroke="#e6e020" stroke-width="0.80" stroke-linecap="round" opacity="0.63" fill="none"/><path d="M37.6 18.6L38.2 14.3M25.8 17.3L26.2 15.7M52.2 14.1L51.7 11.2M41.0 8.2L40.7 5.2M43.1 16.2L43.2 13.1M47.1 9.7L47.6 6.2" stroke="#6a0804" stroke-width="0.80" stroke-linecap="round" opacity="0.63" fill="none"/><path d="M26.7 50.8L27.3 46.5M40.3 53.7L41.1 50.7M21.2 51.0L21.2 49.3M46.3 46.2L46.1 44.1M41.4 52.9L41.7 49.4M44.2 46.3L43.8 43.0" stroke="#f0d020" stroke-width="0.80" stroke-linecap="round" opacity="0.63" fill="none"/><path d="M47.1 43.7L47.3 39.4M27.5 44.0L27.9 41.2M34.3 45.1L33.5 42.9M21.5 41.2L21.7 38.7" stroke="#e8c818" stroke-width="1.72" stroke-linecap="round" opacity="0.37" fill="none"/><path d="M33.1 51.7L33.2 48.3M49.4 48.5L49.6 46.0" stroke="#b8f020" stroke-width="1.26" stroke-linecap="round" opacity="0.50" fill="none"/><path d="M42.9 46.2L43.0 43.9M33.8 50.3L33.9 48.2M45.9 52.8L46.0 49.1" stroke="#e6e020" stroke-width="1.26" stroke-linecap="round" opacity="0.50" fill="none"/><path d="M39.1 31.0L39.0 28.9M39.8 24.8L39.3 21.2M37.4 29.6L37.6 27.0M39.3 35.0L40.0 32.6M55.7 31.8L55.6 28.9M44.5 23.9L43.8 21.1M23.3 39.0L22.6 35.4M45.3 28.0L45.3 24.7M38.9 22.8L38.3 18.8M47.3 24.9L47.5 21.0" stroke="#7a0a04" stroke-width="1.26" stroke-linecap="round" opacity="0.50" fill="none"/><path d="M43.4 50.6L43.9 46.1M25.1 49.7L25.7 45.7M47.5 46.2L46.8 43.8" stroke="#b8f020" stroke-width="1.72" stroke-linecap="round" opacity="0.37" fill="none"/><path d="M55.2 51.3L55.6 48.8" stroke="#b8f020" stroke-width="0.80" stroke-linecap="round" opacity="0.63" fill="none"/><path d="M49.7 43.4L48.9 39.5" stroke="#e84a10" stroke-width="0.80" stroke-linecap="round" opacity="0.63" fill="none"/><path d="M42.4 40.2L43.2 37.0M38.1 40.2L37.9 37.7" stroke="#e84a10" stroke-width="1.26" stroke-linecap="round" opacity="0.50" fill="none"/><path d="M22.2 48.9L22.9 46.0" stroke="#e6e020" stroke-width="1.72" stroke-linecap="round" opacity="0.37" fill="none"/><path d="M27.0 34.4L26.7 32.2M49.7 21.1L49.1 19.6M28.1 26.7L28.0 22.4M21.6 31.3L21.3 28.0" stroke="#f05a14" stroke-width="1.72" stroke-linecap="round" opacity="0.37" fill="none"/><path d="M22.1 40.8L22.0 38.1M42.1 43.0L41.9 41.3" stroke="#a8e020" stroke-width="0.80" stroke-linecap="round" opacity="0.63" fill="none"/><path d="M21.0 45.1L20.4 43.4M56.1 40.6L56.6 39.1" stroke="#f08a10" stroke-width="1.26" stroke-linecap="round" opacity="0.50" fill="none"/><path d="M42.8 41.4L43.3 37.7M39.7 44.0L38.9 42.4" stroke="#e84a10" stroke-width="1.72" stroke-linecap="round" opacity="0.37" fill="none"/><path d="M46.6 51.2L46.8 48.8M52.7 40.4L52.7 36.8M56.1 31.5L55.4 28.5M25.6 29.8L25.1 26.9M50.6 32.7L50.4 28.8M30.5 49.1L30.0 46.6M43.6 10.2L43.6 8.2M50.7 24.9L50.7 21.2M53.0 42.7L53.3 41.2M26.8 41.3L26.8 39.3M50.4 24.1L50.8 20.5M22.7 17.3L22.8 15.4M47.6 27.0L47.5 23.4M46.3 13.6L45.6 9.5M22.8 33.2L23.6 28.7M29.2 40.5L29.6 38.9M36.5 52.3L36.2 49.7M36.5 13.4L36.2 9.5M46.2 12.4L46.4 8.8M30.8 32.8L30.2 28.8M47.1 47.9L47.0 43.5M34.5 13.9L33.7 10.4M30.5 35.3L30.9 33.3M24.8 31.3L25.2 27.3M55.9 20.3L55.1 18.0M52.8 33.5L53.1 29.5M50.8 40.6L50.9 38.2M42.0 21.3L42.3 17.4M50.8 21.5L50.9 18.0M37.6 18.6L36.9 14.5M33.1 51.7L32.5 49.0M27.7 29.9L28.1 26.8M26.5 48.7L26.3 46.2M29.0 45.9L29.3 42.0M30.8 29.5L30.4 25.3M25.5 41.6L25.1 39.6M30.6 27.8L30.3 25.7M30.8 55.4L31.1 52.9M40.5 33.2L39.8 31.3M56.0 15.8L55.8 14.2M35.8 12.1L35.7 10.4M28.1 28.5L27.8 24.6M21.8 38.9L22.4 35.7M55.3 37.7L55.4 34.7" stroke="#120100" stroke-width="1.10" stroke-linecap="round" opacity="0.52" fill="none"/><path d="M53.4 18.8L52.9 16.7M28.5 11.9L27.8 10.4M39.6 29.0L39.6 26.5M56.8 14.7L57.4 11.0M33.2 12.1L32.9 9.1M49.2 10.6L49.6 7.4M51.6 41.3L51.9 38.9M27.8 35.5L27.4 33.0M30.5 28.8L30.9 24.9M49.7 40.2L49.6 37.9M28.7 27.2L28.9 24.8M34.5 52.1L34.4 48.9M50.0 13.4L50.1 11.9M48.9 12.2L48.3 9.8M31.2 11.7L30.8 8.4M50.7 47.6L50.2 43.4M39.2 39.7L38.5 37.6M49.0 54.0L49.0 49.8M44.3 34.1L43.8 32.3M42.9 51.3L42.5 47.6M46.5 46.4L46.8 43.5M42.1 48.6L42.9 47.0M52.8 15.0L52.2 11.8M25.9 24.1L26.3 20.3M30.0 50.4L30.3 46.5M53.4 55.1L53.4 52.7M31.6 51.7L31.6 48.4M50.0 48.2L49.4 45.6M37.2 8.6L37.4 4.3M30.4 42.3L30.9 40.5M27.2 49.1L27.0 46.3M47.3 21.7L47.4 19.7M45.8 9.8L45.1 7.7M56.8 28.1L56.7 26.5M32.4 18.1L32.2 14.9M38.3 42.5L37.9 38.4M40.2 48.2L39.8 45.6M42.5 25.2L42.7 21.2" stroke="#120100" stroke-width="1.50" stroke-linecap="round" opacity="0.41" fill="none"/><path d="M48.1 46.3L47.3 42.7M50.3 43.7L49.5 39.8M45.1 20.1L45.1 18.1M30.7 17.4L31.0 15.5M37.3 51.4L37.9 49.5M43.5 39.7L43.8 37.5M37.4 41.3L37.7 37.8M52.7 29.3L53.1 25.1M23.8 29.2L24.0 27.3M48.1 33.4L47.6 31.8M24.1 31.5L24.5 28.2M29.9 33.4L29.6 31.7M23.4 43.1L23.7 39.0M34.9 45.2L35.4 42.0M57.0 24.2L56.3 22.1M32.1 40.7L32.8 37.1M47.1 49.4L46.3 45.0M51.2 39.0L51.0 35.2M44.1 36.7L44.6 32.6M24.5 16.8L24.5 13.8M44.1 13.7L44.0 9.8M32.9 6.9L32.7 4.9M48.4 18.5L48.6 15.3M22.6 33.6L21.9 29.7M25.9 38.5L26.0 34.2M33.4 23.3L32.7 19.8M22.3 45.1L23.0 41.4M43.1 50.7L42.3 47.1M24.1 15.7L23.8 11.6M22.2 27.1L21.5 23.2M39.8 34.5L39.8 30.8M56.8 17.5L56.6 14.7M53.8 40.5L54.3 36.3M36.4 26.6L35.9 23.2M33.6 37.2L33.4 34.5M23.5 45.6L24.2 42.7M31.9 46.5L32.0 43.8M51.4 13.2L50.8 9.6" stroke="#120100" stroke-width="0.70" stroke-linecap="round" opacity="0.64" fill="none"/><path d="M20.9 30.5L21.0 27.3M18.9 38.2L18.9 35.5M17.6 27.7L17.2 24.9M14.9 20.0L14.7 15.9M20.9 15.7L20.6 11.8" stroke="#e01808" stroke-width="0.63" stroke-linecap="round" opacity="0.68" fill="none"/><path d="M15.4 30.4L14.9 26.7M17.8 19.0L18.5 15.1M18.5 18.4L18.0 16.0M17.0 35.5L17.2 31.3M18.9 15.8L18.6 13.0M20.3 38.3L20.2 34.6M14.9 31.2L15.7 27.1M15.3 23.5L14.9 19.1" stroke="#e01808" stroke-width="1.35" stroke-linecap="round" opacity="0.42" fill="none"/><path d="M16.4 23.2L16.1 19.4M17.3 23.1L16.8 19.8M20.1 26.0L20.0 23.5M17.1 16.0L16.3 11.5M18.4 38.4L19.0 33.5M19.1 20.2L19.4 17.8M17.4 15.4L18.1 13.3M16.0 15.1L15.2 11.6M15.9 33.0L15.4 29.2" stroke="#e01808" stroke-width="0.99" stroke-linecap="round" opacity="0.55" fill="none"/><path d="M23.3 53.2L22.9 51.0M41.5 50.2L41.2 47.5M53.0 50.7L53.3 47.4M39.3 53.5L39.0 52.0M29.0 55.2L29.3 52.1" stroke="#e6e020" stroke-width="1.95" stroke-linecap="round" opacity="0.67" fill="none"/><path d="M34.8 47.8L35.4 45.7M33.7 47.9L34.5 44.5M26.9 56.0L26.6 53.5M31.2 49.7L30.9 46.5M49.8 47.8L50.3 44.8M26.3 53.2L26.3 50.2M53.8 54.9L53.9 51.9" stroke="#8ee020" stroke-width="1.43" stroke-linecap="round" opacity="0.80" fill="none"/><path d="M24.0 55.1L23.5 53.4M33.0 49.1L32.6 46.2M39.5 49.4L40.2 45.7M27.6 49.8L27.0 48.2M34.2 51.2L33.8 49.1M36.2 52.2L36.3 49.0M46.0 48.6L46.5 45.0M52.7 49.4L52.1 47.4" stroke="#f0d020" stroke-width="1.43" stroke-linecap="round" opacity="0.80" fill="none"/><path d="M39.2 51.9L39.9 49.4M29.8 53.7L29.1 50.3M30.9 49.4L30.2 46.3M50.2 52.0L50.3 48.9M30.6 49.2L30.2 45.3M38.8 51.9L39.6 49.1" stroke="#e6e020" stroke-width="0.91" stroke-linecap="round" opacity="0.93" fill="none"/><path d="M43.2 51.0L43.0 48.6M49.4 51.7L50.1 48.2M22.9 48.5L22.8 44.7" stroke="#b8f020" stroke-width="0.91" stroke-linecap="round" opacity="0.93" fill="none"/><path d="M31.5 52.1L31.8 50.5M49.2 51.7L48.4 48.3M22.9 55.1L23.1 51.4M47.8 54.5L47.9 52.6M32.8 55.3L32.5 52.2" stroke="#d0f028" stroke-width="0.91" stroke-linecap="round" opacity="0.93" fill="none"/><path d="M28.5 53.7L27.8 49.8M50.3 52.4L50.3 50.4" stroke="#8ee020" stroke-width="1.95" stroke-linecap="round" opacity="0.67" fill="none"/><path d="M28.0 47.3L27.7 45.2M38.0 48.5L37.3 45.6M49.9 47.4L50.5 45.7" stroke="#b8f020" stroke-width="1.43" stroke-linecap="round" opacity="0.80" fill="none"/><path d="M35.1 54.8L35.7 51.6M37.3 49.1L37.6 46.1M22.9 55.9L22.4 54.2M22.4 50.3L22.7 48.5" stroke="#b8f020" stroke-width="1.95" stroke-linecap="round" opacity="0.67" fill="none"/><path d="M47.2 47.9L46.8 45.9M48.7 54.5L47.9 51.3" stroke="#8ee020" stroke-width="0.91" stroke-linecap="round" opacity="0.93" fill="none"/><path d="M51.0 54.9L51.0 52.5M47.1 52.8L46.6 49.4" stroke="#f0d020" stroke-width="1.95" stroke-linecap="round" opacity="0.67" fill="none"/><path d="M49.9 52.1L49.7 50.6M43.0 53.0L42.4 51.3M45.6 50.4L46.2 48.3M32.0 49.0L31.5 45.2M50.4 54.5L50.5 52.6" stroke="#d0f028" stroke-width="1.43" stroke-linecap="round" opacity="0.80" fill="none"/><path d="M51.2 52.9L51.9 50.9M44.3 47.7L43.9 43.8M41.5 47.5L41.2 45.7" stroke="#d0f028" stroke-width="1.95" stroke-linecap="round" opacity="0.67" fill="none"/><path d="M32.7 52.4L33.0 48.4M42.4 49.3L42.7 46.8" stroke="#e6e020" stroke-width="1.43" stroke-linecap="round" opacity="0.80" fill="none"/><path d="M47.6 49.4L47.6 45.5M29.9 52.3L30.4 49.6M35.0 52.9L35.8 50.9" stroke="#f0d020" stroke-width="0.91" stroke-linecap="round" opacity="0.93" fill="none"/><path d="M45.2 52.1h0M44.9 51.7h0M29.8 51.5h0M51.5 53.0h0M41.2 54.1h0M46.4 48.2h0M49.0 52.6h0M23.0 52.3h0M23.3 49.8h0" stroke="#c8f428" stroke-width="1.98" stroke-linecap="round" opacity="0.74" fill="none"/><path d="M33.7 51.0h0M46.9 53.3h0M25.8 48.6h0" stroke="#c8f428" stroke-width="3.03" stroke-linecap="round" opacity="0.81" fill="none"/><path d="M45.4 49.4h0M37.5 47.8h0M30.0 54.4h0M27.1 53.3h0M39.5 53.7h0M52.2 53.9h0M28.0 51.9h0M32.5 48.9h0" stroke="#c8f428" stroke-width="2.68" stroke-linecap="round" opacity="0.89" fill="none"/><path d="M49.7 53.8h0M40.9 51.2h0M25.3 51.3h0M35.1 51.0h0M25.1 52.9h0M26.0 50.9h0" stroke="#c8f428" stroke-width="2.33" stroke-linecap="round" opacity="0.96" fill="none"/><path d="M34.7 51.6h0M33.6 48.3h0M41.4 51.5h0" stroke="#f0e828" stroke-width="1.75" stroke-linecap="round" opacity="0.74" fill="none"/><path d="M47.8 48.4h0M40.9 50.4h0M40.9 50.6h0" stroke="#f0e828" stroke-width="2.65" stroke-linecap="round" opacity="0.81" fill="none"/><path d="M31.7 49.1h0M28.3 50.1h0" stroke="#f0e828" stroke-width="2.35" stroke-linecap="round" opacity="0.89" fill="none"/><path d="M29.4 48.7h0M33.1 51.9h0" stroke="#f0e828" stroke-width="2.05" stroke-linecap="round" opacity="0.96" fill="none"/></g><path d="M12 9.3L36 13.8L60 10M12 9.3L12.75 53.5L41.25 61L62.25 52" fill="none" stroke="#9a9a9a" stroke-width="0.35" opacity="0.65"/><path d="M12 9.3L12.75 53.5" fill="none" stroke="#9a9a9a" stroke-width="1.2" stroke-dasharray="0.3 1.5" opacity="0.45"/></g></g><g transform="translate(104.85 154.25)"><rect width="73.0" height="63.3" fill="#000"/><g clip-path="url(#c3d)"><g filter="url(#b2)"><path d="M16 6C25 2.5 45 1.5 64 5C65.5 15 63.5 28 60 35C56 41 53 46 48 50C40 52 32 50 27 47C20 44 12 44 9.5 41C12 32 14 18 16 6Z" fill="url(#g3d2)"/><path d="M9.5 41C10.5 34 14 28 17 21L23 30L21 42C17 44 12 44 9.5 41Z" fill="#d81408" opacity="0.8"/><ellipse cx="41" cy="34" rx="13" ry="11" fill="#e8901a" opacity="0.45"/><path d="M28 44C34 41 46 41 51 45L49 56C47 60 43 60 41 56C38 54 36 56 33 53C30 52 28 48 28 44Z" fill="#b8d818" opacity="0.5"/></g><g filter="url(#b15)"><path d="M34.7 47.9L35.3 43.8M38.7 49.5L38.2 47.5" stroke="#e6e020" stroke-width="0.80" stroke-linecap="round" opacity="0.63" fill="none"/><path d="M50.6 38.1L50.7 35.1M50.6 37.1L50.2 33.1M54.0 43.9L54.2 41.2M35.3 43.9L35.8 41.4" stroke="#e8b818" stroke-width="0.80" stroke-linecap="round" opacity="0.63" fill="none"/><path d="M59.1 15.8L58.4 13.9M33.5 17.1L33.7 14.3M61.0 16.6L60.8 13.4M58.3 13.2L58.9 9.1M32.3 7.9L31.5 5.6M31.9 6.7L31.4 3.7M32.1 12.7L32.6 10.8M20.0 16.5L20.3 13.0M37.5 13.8L37.4 12.1M54.6 14.0L54.3 9.5M21.0 12.2L21.4 10.0M20.3 16.9L20.6 15.0" stroke="#b81408" stroke-width="1.26" stroke-linecap="round" opacity="0.50" fill="none"/><path d="M31.7 18.9L32.5 15.8M15.6 24.6L15.4 21.5M22.2 20.1L22.5 15.6M19.8 32.4L20.3 30.1" stroke="#a01006" stroke-width="0.80" stroke-linecap="round" opacity="0.63" fill="none"/><path d="M57.9 14.5L57.8 11.0M50.6 16.7L50.1 14.3M53.0 6.9L52.6 3.9M21.0 15.5L21.8 12.7M24.0 11.3L23.6 8.5M27.9 14.7L28.5 12.2" stroke="#8a0c04" stroke-width="1.26" stroke-linecap="round" opacity="0.50" fill="none"/><path d="M58.5 33.6L58.0 30.9M40.2 26.3L39.8 24.3M61.4 12.0L62.0 8.4M22.6 29.7L22.5 25.3M28.9 17.2L29.6 12.9M28.6 27.9L28.3 23.9M20.4 15.6L21.0 12.4M50.4 13.9L50.1 10.4M36.7 30.7L37.1 27.9M45.4 10.1L44.6 6.2M62.9 14.6L63.5 10.9M12.8 31.3L13.1 29.2M43.8 31.4L44.2 27.0M41.9 15.1L41.9 11.5M56.6 10.0L56.4 6.4M60.2 9.1L60.4 7.3M58.6 14.4L58.0 10.5M30.9 34.4L30.7 32.7M16.0 14.1L16.2 12.2M56.4 10.3L56.4 7.1M23.3 6.0L23.1 2.5M24.7 23.9L25.2 22.3M60.3 33.0L59.7 29.7M13.7 35.9L13.9 31.4M46.8 17.0L46.9 13.3M33.0 22.0L33.2 17.9M12.4 29.2L12.0 26.5" stroke="#d8240c" stroke-width="1.26" stroke-linecap="round" opacity="0.50" fill="none"/><path d="M30.7 46.2L31.0 42.8M39.6 49.1L39.2 45.5" stroke="#8ee020" stroke-width="0.80" stroke-linecap="round" opacity="0.63" fill="none"/><path d="M57.0 28.2L57.3 25.9M18.0 33.6L18.0 30.5M14.4 26.4L14.0 23.7M54.3 31.8L54.5 29.7M22.3 23.8L22.7 19.4M59.2 20.8L59.5 16.8M50.9 33.8L51.2 30.0M62.0 24.0L62.7 21.2M41.5 21.7L40.9 18.7M53.0 34.8L53.0 32.6M45.5 32.9L45.0 28.5M32.9 22.9L32.4 19.7M33.7 35.4L33.8 32.8M58.5 30.8L58.1 26.8" stroke="#e8440f" stroke-width="0.80" stroke-linecap="round" opacity="0.63" fill="none"/><path d="M20.2 18.0L20.4 15.9M14.5 32.9L15.1 31.1M39.6 21.4L39.5 19.4M10.2 34.7L10.0 30.4M27.3 18.0L27.0 15.4M24.4 25.9L24.4 22.0M20.3 16.8L19.6 14.5M43.8 35.0L44.0 31.6M44.1 31.8L44.4 29.8M17.3 13.4L17.7 9.2M39.5 6.1L39.5 4.2" stroke="#d8240c" stroke-width="1.72" stroke-linecap="round" opacity="0.37" fill="none"/><path d="M33.6 9.1L33.3 5.1M28.7 8.7L29.4 6.7M54.5 8.0L55.3 6.2M47.7 6.8L48.4 2.9M35.3 7.6L35.1 5.2M46.2 15.3L45.9 12.3M60.8 8.2L60.6 6.7M48.7 8.6L48.7 6.7M53.5 9.5L54.0 5.4" stroke="#b81408" stroke-width="1.72" stroke-linecap="round" opacity="0.37" fill="none"/><path d="M54.8 18.8L54.8 16.0M30.3 21.3L30.9 19.0M32.6 31.4L32.9 27.0M17.7 19.8L17.9 16.9M45.7 27.9L45.7 24.8" stroke="#e06a14" stroke-width="1.26" stroke-linecap="round" opacity="0.50" fill="none"/><path d="M26.1 12.0L25.9 9.2M27.9 18.5L28.6 16.3M34.7 18.9L34.7 16.6M19.5 32.6L18.9 29.6M11.3 31.7L10.8 28.3M29.1 9.9L29.5 7.1M32.8 16.0L33.2 12.5M26.3 23.8L25.9 20.5M21.1 22.6L20.7 19.8M52.2 7.0L52.0 5.0M21.5 13.4L20.9 11.8M16.5 7.6L16.4 4.5" stroke="#6a0804" stroke-width="1.72" stroke-linecap="round" opacity="0.37" fill="none"/><path d="M26.5 9.6L26.4 7.3M57.8 23.6L58.3 21.6M57.5 11.0L58.0 8.3M52.5 21.6L52.0 18.0M41.8 16.8L42.4 12.9M36.3 6.8L35.9 3.9M26.7 18.0L26.1 15.2M12.4 34.4L11.9 32.8M60.7 19.3L60.8 15.0M31.3 10.0L31.5 7.0M33.0 16.2L33.7 13.0M27.8 7.3L27.9 4.5M33.8 14.6L33.2 11.2M49.6 16.6L49.2 13.4" stroke="#6a0804" stroke-width="1.26" stroke-linecap="round" opacity="0.50" fill="none"/><path d="M22.1 9.0L22.3 7.2M59.9 23.4L60.3 19.9M52.0 7.7L51.4 5.1M18.5 35.5L19.2 31.6M59.1 14.4L58.6 10.1M56.6 24.4L57.3 21.7M45.8 13.6L45.8 9.4M60.1 32.2L60.5 30.2M49.5 11.6L50.2 8.6M20.1 29.0L20.5 27.4" stroke="#6a0804" stroke-width="0.80" stroke-linecap="round" opacity="0.63" fill="none"/><path d="M37.6 46.5L37.0 43.9" stroke="#8ee020" stroke-width="1.72" stroke-linecap="round" opacity="0.37" fill="none"/><path d="M48.8 15.8L49.4 12.2M33.3 15.9L33.2 12.0M20.8 14.0L20.6 12.4M28.7 7.5L29.0 4.5M33.6 12.2L33.2 8.2M35.2 12.2L35.6 10.0M38.4 7.3L38.1 4.6M32.8 6.8L33.5 2.6M54.1 16.5L54.6 12.8M16.9 16.4L16.1 11.9M31.0 8.2L31.4 3.7M46.7 11.5L46.7 9.5" stroke="#b81408" stroke-width="0.80" stroke-linecap="round" opacity="0.63" fill="none"/><path d="M25.7 34.0L26.1 29.7M28.8 31.0L29.1 27.7M56.2 33.5L56.5 30.3M45.2 22.4L45.2 19.6M21.8 23.4L21.8 19.7M63.0 18.3L62.5 13.9M19.3 30.9L19.9 28.7M39.8 27.0L40.5 24.9" stroke="#e06a14" stroke-width="1.72" stroke-linecap="round" opacity="0.37" fill="none"/><path d="M45.0 9.3L45.7 6.3M59.3 13.9L58.7 11.4M23.2 9.9L23.5 5.7M27.1 6.3L27.4 3.9M43.7 13.2L44.4 10.8M31.1 7.1L31.1 4.5M41.4 7.3L41.0 3.5M56.4 9.2L56.2 5.7M55.1 16.3L54.4 13.4M54.8 10.4L54.1 7.5" stroke="#8a0c04" stroke-width="1.72" stroke-linecap="round" opacity="0.37" fill="none"/><path d="M27.1 28.1L26.5 24.0M50.0 26.1L50.0 21.8M42.8 23.9L42.5 22.0M31.6 27.7L31.1 24.2M55.3 21.4L55.0 18.0M26.7 21.2L26.4 17.7M15.6 32.3L15.9 28.1" stroke="#e06a14" stroke-width="0.80" stroke-linecap="round" opacity="0.63" fill="none"/><path d="M40.4 32.5L41.0 30.2M41.3 44.1L40.6 41.8M51.2 23.6L51.6 20.7M47.2 42.7L46.8 39.8M52.7 42.0L53.1 37.7M34.5 40.6L33.9 37.3M28.8 30.4L28.1 26.3" stroke="#f07a10" stroke-width="1.26" stroke-linecap="round" opacity="0.50" fill="none"/><path d="M36.4 23.5L36.0 20.7M28.9 23.8L28.9 21.1M29.8 33.8L29.5 30.7M34.5 23.2L34.7 19.8M36.5 25.5L36.7 23.9" stroke="#e8a818" stroke-width="1.72" stroke-linecap="round" opacity="0.37" fill="none"/><path d="M43.8 38.2L43.9 36.7M23.6 38.7L23.8 34.6M43.5 34.6L43.8 30.9M25.5 37.9L24.7 35.4M19.4 37.9L19.2 35.9M39.8 39.1L40.5 36.6" stroke="#f07a10" stroke-width="0.80" stroke-linecap="round" opacity="0.63" fill="none"/><path d="M36.6 39.0L36.4 34.6M28.1 39.3L27.5 35.0M38.8 36.1L39.5 33.8M27.0 43.4L26.6 39.8M58.5 37.9L58.1 34.0M30.5 36.9L30.8 34.8" stroke="#e83a10" stroke-width="0.80" stroke-linecap="round" opacity="0.63" fill="none"/><path d="M31.6 38.4L31.5 36.2M26.7 37.1L26.8 33.5M54.1 37.3L53.7 34.1M53.7 40.5L53.0 37.8" stroke="#e8b818" stroke-width="1.72" stroke-linecap="round" opacity="0.37" fill="none"/><path d="M42.7 23.9L43.2 20.7M44.6 27.1L44.0 24.9M34.4 26.7L34.4 23.6M11.4 27.2L11.5 23.3M54.0 18.9L54.2 14.8M40.1 28.5L39.6 25.6M39.1 19.4L38.9 15.6" stroke="#e8440f" stroke-width="1.26" stroke-linecap="round" opacity="0.50" fill="none"/><path d="M36.5 46.9L36.7 44.9" stroke="#b8f020" stroke-width="1.72" stroke-linecap="round" opacity="0.37" fill="none"/><path d="M32.9 45.0L33.4 40.8M40.9 49.5L40.3 47.7" stroke="#d0f028" stroke-width="1.72" stroke-linecap="round" opacity="0.37" fill="none"/><path d="M35.0 26.4L35.6 22.4M57.6 36.4L56.8 32.7M37.0 31.3L37.0 27.8M40.0 40.4L39.6 37.4M34.3 27.1L34.5 25.3M31.4 28.5L31.9 24.2M51.1 37.6L50.4 35.9M41.8 22.7L42.3 19.8" stroke="#f07a10" stroke-width="1.72" stroke-linecap="round" opacity="0.37" fill="none"/><path d="M40.5 50.4L40.4 46.2" stroke="#8ee020" stroke-width="1.26" stroke-linecap="round" opacity="0.50" fill="none"/><path d="M22.4 40.5L21.8 37.1M41.1 44.8L40.5 42.7" stroke="#c8e020" stroke-width="1.26" stroke-linecap="round" opacity="0.50" fill="none"/><path d="M27.4 12.3L28.1 8.5M39.4 17.3L38.6 13.9M12.7 20.8L12.2 16.5M36.0 32.2L35.8 29.7M41.4 14.7L41.5 10.9M31.7 20.0L31.6 17.7M42.8 15.4L43.2 12.1M25.6 12.9L25.6 10.8M31.3 12.4L31.7 8.5M16.6 35.3L16.0 33.8M60.0 25.6L60.6 21.8M20.6 21.9L20.6 20.1M28.7 9.3L28.5 7.7" stroke="#d8240c" stroke-width="0.80" stroke-linecap="round" opacity="0.63" fill="none"/><path d="M41.2 23.6L41.6 20.3M36.2 24.5L36.7 21.1M43.0 36.0L42.2 31.7M44.5 23.3L43.9 19.7" stroke="#e8a818" stroke-width="1.26" stroke-linecap="round" opacity="0.50" fill="none"/><path d="M48.9 32.5L49.0 29.5M37.1 33.1L37.1 28.7M12.9 20.7L12.6 18.8M21.7 30.7L22.1 29.0M24.0 33.7L23.8 30.9M40.6 29.3L40.9 25.3M19.3 33.3L19.4 30.0" stroke="#e8440f" stroke-width="1.72" stroke-linecap="round" opacity="0.37" fill="none"/><path d="M20.9 11.6L21.1 8.5M36.1 12.1L35.7 9.1M25.4 12.1L24.7 10.0M17.4 12.9L17.8 10.4M59.6 10.3L59.2 8.0M26.3 11.0L25.8 9.4M58.7 13.1L58.1 10.1M49.0 7.6L49.4 5.9M24.9 15.6L25.4 11.4M19.5 14.4L19.8 12.2M39.0 15.5L38.8 12.1" stroke="#8a0c04" stroke-width="0.80" stroke-linecap="round" opacity="0.63" fill="none"/><path d="M44.6 44.3L44.8 41.0M18.9 37.6L18.7 34.5" stroke="#e04010" stroke-width="1.72" stroke-linecap="round" opacity="0.37" fill="none"/><path d="M42.2 47.9L41.9 45.4M38.0 45.7L38.7 42.9M34.8 46.1L35.0 41.9" stroke="#f0d020" stroke-width="0.80" stroke-linecap="round" opacity="0.63" fill="none"/><path d="M27.8 41.8L28.1 37.4" stroke="#e04010" stroke-width="1.26" stroke-linecap="round" opacity="0.50" fill="none"/><path d="M45.8 34.8L46.1 31.5M52.5 23.7L52.8 22.0M50.5 26.4L50.9 23.7M28.4 28.9L28.2 27.0" stroke="#e8a818" stroke-width="0.80" stroke-linecap="round" opacity="0.63" fill="none"/><path d="M17.4 24.1L17.8 22.4M20.4 22.2L19.9 18.9M59.6 34.9L60.3 31.7M18.1 32.8L17.4 30.8" stroke="#a01006" stroke-width="1.72" stroke-linecap="round" opacity="0.37" fill="none"/><path d="M40.3 49.3L40.1 46.0M39.0 46.1L38.9 42.7M47.4 47.5L47.3 43.7" stroke="#b8f020" stroke-width="1.26" stroke-linecap="round" opacity="0.50" fill="none"/><path d="M30.1 40.8L29.4 38.4M54.3 39.5L53.5 36.2M36.3 44.2L36.2 40.0M22.6 41.9L23.1 39.9" stroke="#e83a10" stroke-width="1.72" stroke-linecap="round" opacity="0.37" fill="none"/><path d="M48.1 41.8L48.9 37.5M40.6 36.1L41.0 34.5M43.4 38.1L44.1 36.4M26.2 42.4L25.9 38.6" stroke="#e8b818" stroke-width="1.26" stroke-linecap="round" opacity="0.50" fill="none"/><path d="M31.9 47.1L31.2 45.4" stroke="#d0f028" stroke-width="1.26" stroke-linecap="round" opacity="0.50" fill="none"/><path d="M27.7 23.1L28.5 21.2M45.2 20.3L44.9 15.8M20.3 24.5L20.2 20.3M50.6 19.4L50.0 16.4M16.1 31.6L15.9 29.4M61.7 19.7L61.6 15.5M24.4 29.2L23.6 26.4" stroke="#a01006" stroke-width="1.26" stroke-linecap="round" opacity="0.50" fill="none"/><path d="M23.6 38.0L23.1 34.2M17.9 39.1L18.3 37.2M23.3 37.4L22.7 34.7" stroke="#e83a10" stroke-width="1.26" stroke-linecap="round" opacity="0.50" fill="none"/><path d="M28.3 37.7L28.6 34.9M34.5 38.0L33.8 35.0M30.4 39.8L30.4 36.2" stroke="#e04010" stroke-width="0.80" stroke-linecap="round" opacity="0.63" fill="none"/><path d="M56.3 41.6L56.1 39.7M47.0 41.1L46.3 39.4" stroke="#c8e020" stroke-width="0.80" stroke-linecap="round" opacity="0.63" fill="none"/><path d="M41.8 46.4L41.5 43.2M43.4 46.4L44.0 42.0" stroke="#f0d020" stroke-width="1.26" stroke-linecap="round" opacity="0.50" fill="none"/><path d="M32.2 45.1L32.6 42.1" stroke="#d0f028" stroke-width="0.80" stroke-linecap="round" opacity="0.63" fill="none"/><path d="M30.8 45.8L30.6 43.3M48.7 46.0L48.2 42.5" stroke="#f0d020" stroke-width="1.72" stroke-linecap="round" opacity="0.37" fill="none"/><path d="M49.5 42.0L49.0 40.0M40.6 46.4L40.8 43.3M45.7 37.2L45.5 34.4M27.3 39.9L27.7 36.2M21.9 21.7L21.6 20.0M22.0 21.2L21.9 16.9M24.9 42.5L25.5 40.7M46.1 9.5L46.7 5.5M26.2 9.3L26.8 5.5M25.0 24.0L25.7 22.4M43.9 13.1L43.8 10.8M20.5 5.7L20.4 2.0M15.7 23.2L15.7 19.3M17.6 11.7L18.0 8.2M27.3 12.6L26.8 8.1M27.8 32.4L27.3 30.4M41.3 42.6L40.6 39.2M37.4 21.6L38.1 17.7M24.3 5.8L24.0 3.5M20.7 6.7L21.5 4.1M56.1 31.4L56.7 28.9M42.4 22.6L42.6 18.6M40.7 34.4L40.9 32.7M39.3 25.3L40.0 22.3M54.3 13.3L55.0 11.8M37.7 39.7L37.7 38.1M44.2 40.2L44.8 36.7M58.6 35.1L58.2 32.3M31.0 39.2L31.0 36.0M30.9 21.5L30.8 19.7M42.1 6.0L42.1 1.7M49.8 40.6L50.0 36.3M48.4 29.2L48.5 26.9M26.0 15.4L25.3 11.1M20.2 37.3L19.9 35.3M23.7 7.1L23.5 5.1M53.1 23.9L52.5 20.8M17.0 29.4L17.5 25.2M37.5 21.5L36.9 18.9M38.1 23.8L37.7 20.1M18.4 39.9L18.2 38.3M32.1 37.6L32.6 33.9" stroke="#120100" stroke-width="1.10" stroke-linecap="round" opacity="0.52" fill="none"/><path d="M53.6 26.8L53.4 23.7M25.7 38.3L25.2 33.9M43.1 38.0L42.8 33.8M52.8 32.4L52.6 28.6M21.1 18.6L20.7 15.7M35.3 17.7L35.4 14.4M50.6 44.4L50.1 41.0M59.9 24.5L59.3 21.5M18.7 30.6L19.3 27.0M34.0 45.8L34.5 42.9M33.4 47.5L32.7 44.3M34.8 22.8L35.1 19.8M31.0 33.9L31.5 31.0M26.6 27.1L26.6 25.3M55.4 6.8L55.6 3.8M17.2 32.1L17.1 28.8M20.4 18.9L19.6 16.8M22.1 21.2L22.6 19.6M47.9 6.7L47.5 3.9M55.4 35.6L56.0 33.9M36.4 42.5L36.4 38.1M60.8 33.9L60.8 31.0M60.3 7.2L60.8 4.0M44.7 6.0L44.5 3.0M44.0 16.2L44.8 12.0M58.2 34.2L58.3 30.9M44.2 9.9L44.1 7.3M26.2 33.5L25.8 29.6M21.9 9.8L21.5 7.0M35.4 17.0L36.0 15.5M42.2 28.4L42.9 24.4M60.4 26.1L60.8 24.0M26.0 16.2L26.8 14.7M14.9 24.4L15.4 21.4M36.8 23.6L36.4 19.5M41.3 12.4L41.1 9.9M43.8 44.3L43.6 41.4M49.3 7.0L48.6 4.6M24.9 32.7L25.0 30.4M42.6 24.6L42.3 22.3M18.8 28.2L19.5 23.7" stroke="#120100" stroke-width="1.50" stroke-linecap="round" opacity="0.41" fill="none"/><path d="M20.4 32.7L19.6 31.1M34.4 25.3L35.1 20.9M33.1 6.7L33.3 4.3M53.9 41.5L53.2 37.9M49.4 21.1L48.8 17.0M33.5 40.0L33.4 37.0M56.5 31.1L55.7 28.3M45.6 14.0L45.2 11.6M45.5 29.0L45.5 25.2M38.8 46.6L38.3 42.5M31.3 13.5L31.0 11.6M12.4 27.6L12.3 24.1M59.5 40.3L59.7 36.0M46.4 17.1L46.8 14.3M39.6 45.3L39.5 43.5M26.2 24.5L26.4 20.8M19.3 8.3L19.1 4.4M33.0 11.2L32.9 8.4M31.7 8.5L31.7 6.4M15.2 32.0L15.9 27.8M13.5 33.7L13.4 31.7M19.2 13.9L18.5 10.6M23.1 12.0L23.6 8.5M53.2 12.8L52.7 8.5M47.3 5.8L47.4 1.4M46.4 46.1L46.1 43.9M41.6 8.2L42.0 4.7M20.4 18.4L20.5 14.0M30.8 37.2L31.1 32.8M41.1 46.7L41.1 43.3M47.4 37.8L46.6 33.8M21.1 17.4L20.6 13.2M41.3 5.9L41.5 3.2M38.1 16.9L38.0 14.5M43.7 39.0L43.7 35.1M46.1 15.8L46.6 11.5M12.8 33.9L12.1 29.7M19.7 36.0L19.2 34.0M27.1 13.9L27.4 10.5M32.1 20.2L32.5 18.6M40.9 7.5L40.3 3.2M33.7 47.2L33.4 45.2M45.2 6.8L45.5 3.2M41.5 12.6L41.8 8.2M52.8 32.8L52.1 28.4M60.0 25.3L60.5 23.5M30.4 33.5L30.8 30.4" stroke="#120100" stroke-width="0.70" stroke-linecap="round" opacity="0.64" fill="none"/><path d="M35.1 53.8L34.4 49.6M41.6 47.3L41.3 44.4M42.4 59.4L41.8 56.8M35.5 48.6L35.7 45.6M46.0 51.8L46.1 49.4M39.8 55.6L40.1 51.9M42.4 53.0L42.5 50.3" stroke="#f0e020" stroke-width="0.91" stroke-linecap="round" opacity="0.93" fill="none"/><path d="M49.8 52.8L49.0 50.5M33.0 50.8L33.7 48.1M43.0 47.8L43.1 42.7M43.6 49.5L44.1 47.2M28.8 46.2L29.4 43.2M38.1 56.9L38.9 53.8M50.8 54.5L51.2 51.5M32.6 48.3L32.3 44.7" stroke="#a8f020" stroke-width="0.91" stroke-linecap="round" opacity="0.93" fill="none"/><path d="M38.3 49.4L37.8 45.8M31.2 49.1L31.4 44.7M47.6 54.3L47.9 49.8M36.9 55.6L36.1 52.6M45.5 50.0L46.3 45.8M43.8 59.1L43.3 55.3" stroke="#f0e020" stroke-width="1.95" stroke-linecap="round" opacity="0.67" fill="none"/><path d="M51.0 47.4L51.4 43.7M32.8 52.9L33.3 48.6M39.5 50.2L40.1 45.6M41.0 52.6L41.7 50.1M45.0 50.3L45.4 47.3M29.4 48.2L29.4 43.1" stroke="#d8f030" stroke-width="1.43" stroke-linecap="round" opacity="0.80" fill="none"/><path d="M44.2 57.8L43.4 54.7M29.4 51.0L28.7 48.0M48.8 52.2L48.1 47.6M37.4 51.9L37.4 48.0M38.2 55.6L38.8 50.5M33.7 46.3L33.8 42.7" stroke="#6ed818" stroke-width="0.91" stroke-linecap="round" opacity="0.93" fill="none"/><path d="M43.2 50.0L42.8 45.4M49.1 47.8L49.5 45.6" stroke="#d8f030" stroke-width="1.95" stroke-linecap="round" opacity="0.67" fill="none"/><path d="M42.6 59.4L42.1 55.0M41.5 55.1L41.7 51.3M41.1 57.3L41.7 55.3M37.2 53.0L37.9 48.0" stroke="#6ed818" stroke-width="1.43" stroke-linecap="round" opacity="0.80" fill="none"/><path d="M37.7 52.3L37.3 47.4M36.3 52.4L36.5 48.9M35.4 51.6L35.5 48.6M38.9 50.0L39.2 45.8" stroke="#a8f020" stroke-width="1.43" stroke-linecap="round" opacity="0.80" fill="none"/><path d="M31.9 49.1L32.6 44.8M39.8 53.3L40.5 50.0" stroke="#6ed818" stroke-width="1.95" stroke-linecap="round" opacity="0.67" fill="none"/><path d="M43.0 52.1L42.6 47.7M40.4 46.8L41.2 42.3M43.0 54.0L43.6 48.8M32.9 53.4L32.7 48.2" stroke="#a8f020" stroke-width="1.95" stroke-linecap="round" opacity="0.67" fill="none"/><path d="M35.7 52.9L36.3 47.7M45.4 51.0L45.0 46.7M48.8 56.1L48.0 53.4" stroke="#f0e020" stroke-width="1.43" stroke-linecap="round" opacity="0.80" fill="none"/><path d="M32.9 47.1L32.6 42.5M41.7 56.5L42.1 51.8M50.2 49.3L51.0 46.6M33.9 47.3L34.1 42.0" stroke="#d8f030" stroke-width="0.91" stroke-linecap="round" opacity="0.93" fill="none"/><path d="M44.2 45.0h0M34.2 46.8h0M43.5 45.4h0" stroke="#e8e828" stroke-width="1.95" stroke-linecap="round" opacity="0.74" fill="none"/><path d="M49.6 44.5h0M44.4 44.5h0M34.0 45.4h0M45.6 45.7h0M36.9 47.2h0M47.7 43.1h0" stroke="#e8e828" stroke-width="2.85" stroke-linecap="round" opacity="0.81" fill="none"/><path d="M49.0 49.3h0M40.9 46.8h0" stroke="#e8e828" stroke-width="2.55" stroke-linecap="round" opacity="0.89" fill="none"/><path d="M49.3 49.1h0M42.5 48.8h0M43.1 48.1h0" stroke="#e8e828" stroke-width="2.25" stroke-linecap="round" opacity="0.96" fill="none"/><path d="M47.1 50.0h0M40.0 51.1h0M40.9 56.2h0" stroke="#90f028" stroke-width="1.95" stroke-linecap="round" opacity="0.74" fill="none"/><path d="M41.6 55.3h0" stroke="#90f028" stroke-width="2.85" stroke-linecap="round" opacity="0.81" fill="none"/><path d="M41.9 49.1h0M45.2 52.8h0M38.6 52.2h0M43.4 55.8h0" stroke="#90f028" stroke-width="2.55" stroke-linecap="round" opacity="0.89" fill="none"/><path d="M46.6 54.8h0M47.4 51.3h0" stroke="#90f028" stroke-width="2.25" stroke-linecap="round" opacity="0.96" fill="none"/></g><path d="M7.5 5.5L36 13L67.5 8.5M7.5 5.5L8.25 51.3L48 61.8L67.5 49.8" fill="none" stroke="#9a9a9a" stroke-width="0.35" opacity="0.65"/><path d="M7.5 5.5L8.25 51.3" fill="none" stroke="#9a9a9a" stroke-width="1.2" stroke-dasharray="0.3 1.5" opacity="0.45"/></g></g><g transform="translate(179.6 154.25)"><rect width="73.0" height="63.3" fill="#000"/><g clip-path="url(#c3d)"><g filter="url(#b2)"><path d="M17 44C15 34 20 24 29 20C38 15.5 50 17 56 24C59 30 59 40 58 45C48 48.5 28 49 17 44Z" fill="url(#g3d3)" opacity="0.8"/><path d="M56 26C59 17 65 10 71.8 8V42C66 44.5 60 44 57 42Z" fill="#b81206" opacity="0.5"/><path d="M7 31C10 26 16 21 22 19L25 27L13 36Z" fill="#7a0a04" opacity="0.5"/></g><g filter="url(#b15)"><path d="M69.9 24.5L69.1 21.8M28.5 22.4L28.1 19.4M63.4 38.3L63.4 34.0M61.2 40.2L61.5 36.7M39.6 19.1L39.5 15.8M46.8 33.0L47.5 31.4M51.6 29.5L51.6 25.6M25.2 24.3L24.8 22.2M67.5 31.0L67.2 27.7M65.4 33.0L65.3 30.0M59.9 31.5L59.7 29.3M57.0 39.9L57.3 36.2M46.3 29.1L46.7 25.5M59.8 31.9L59.7 30.3M59.0 23.4L58.6 19.0M66.9 15.5L67.3 13.6M23.4 35.2L23.2 31.0" stroke="#6a0804" stroke-width="0.63" stroke-linecap="round" opacity="0.68" fill="none"/><path d="M49.4 39.5L49.3 36.1M23.5 36.0L22.9 34.0M38.4 31.1L37.7 28.6M60.2 25.4L59.8 21.3M47.4 23.4L47.1 19.8M63.0 36.5L62.9 32.2M25.4 28.3L24.8 26.7M67.9 17.1L68.1 13.9M65.3 19.5L64.6 17.2" stroke="#d01808" stroke-width="1.35" stroke-linecap="round" opacity="0.38" fill="none"/><path d="M46.0 39.0L46.3 34.6M46.5 32.1L46.3 29.2M57.7 38.1L58.3 33.8M32.9 28.6L32.9 25.3M32.9 33.6L33.1 29.3M24.7 33.7L24.6 31.8M38.1 35.0L38.3 31.7M67.1 38.1L67.2 35.5M44.8 31.8L45.4 29.6M69.7 22.7L70.4 19.0M54.0 34.0L54.5 29.8M33.0 31.1L33.4 29.1M28.4 22.1L29.2 19.8" stroke="#b01206" stroke-width="0.99" stroke-linecap="round" opacity="0.53" fill="none"/><path d="M59.3 42.8L58.8 40.3M41.7 44.6L42.2 43.0M41.5 42.1L42.0 38.2M41.8 42.1L41.2 38.0M33.7 44.2L33.1 42.4M59.7 42.4L60.1 38.4" stroke="#e02008" stroke-width="0.99" stroke-linecap="round" opacity="0.53" fill="none"/><path d="M50.3 46.0L50.8 42.0M69.5 42.5L70.2 40.9M65.5 42.6L65.9 38.2M54.9 44.9L55.0 42.7M52.9 45.3L52.9 40.8" stroke="#e02008" stroke-width="1.35" stroke-linecap="round" opacity="0.38" fill="none"/><path d="M70.6 29.2L70.3 26.9M52.8 40.0L53.2 36.1M44.1 30.2L43.9 27.2M64.1 18.0L64.7 15.1M54.9 31.1L54.2 29.4M58.0 27.8L58.4 25.5M21.8 29.0L21.1 25.7M43.0 18.7L42.3 14.7M34.0 38.6L34.2 35.3M44.4 28.0L45.2 24.8M31.4 39.2L31.5 37.4M53.8 40.3L54.3 38.1M31.3 18.1L31.1 14.1M44.5 34.0L45.0 32.2" stroke="#f03010" stroke-width="0.99" stroke-linecap="round" opacity="0.53" fill="none"/><path d="M17.3 45.8L17.1 42.4M53.1 42.3L53.6 40.7M30.1 44.5L29.9 42.1M21.3 46.5L21.8 44.8M35.4 45.1L35.4 41.6M55.8 45.3L56.3 41.6" stroke="#f07010" stroke-width="1.35" stroke-linecap="round" opacity="0.38" fill="none"/><path d="M50.6 38.4L50.4 34.7M30.9 26.8L31.0 23.9M67.6 27.1L67.5 24.8M67.6 24.9L67.5 22.6M45.9 27.7L46.0 24.8M29.3 26.3L29.3 24.7M39.6 30.7L39.9 27.4M21.3 36.5L21.9 33.2M57.4 30.4L56.9 26.1M37.8 32.0L38.2 29.9M29.4 32.0L28.8 29.9M63.5 22.0L63.4 18.0M40.9 21.0L40.4 17.9M30.9 29.3L30.4 27.1M36.8 35.3L36.4 32.3M68.9 13.6L68.1 12.1" stroke="#d01808" stroke-width="0.99" stroke-linecap="round" opacity="0.53" fill="none"/><path d="M44.2 32.6L44.8 29.4M39.1 30.9L39.6 28.5M67.1 17.0L67.7 13.8M22.1 31.7L22.4 27.8M69.6 37.9L70.0 34.3M48.9 28.9L49.5 26.7M31.3 36.6L31.1 32.6M29.2 29.3L28.7 26.3M34.3 17.8L33.7 13.7M37.4 25.9L36.9 24.0M47.3 31.2L47.0 29.1" stroke="#e8220c" stroke-width="1.35" stroke-linecap="round" opacity="0.38" fill="none"/><path d="M41.3 27.0L40.7 24.6M49.4 31.1L49.9 28.8M28.4 24.8L28.6 22.5M34.5 20.4L34.8 16.3M44.4 19.2L44.4 17.1M41.7 25.8L42.2 23.1M39.2 28.7L38.7 25.0M64.9 20.5L64.8 18.8M57.8 39.7L58.6 36.6M53.9 38.6L54.6 36.0M41.9 40.6L42.1 36.7M29.6 31.7L30.2 30.0M55.3 35.8L55.0 32.0M38.0 28.1L38.0 25.8M37.0 22.9L36.8 21.2" stroke="#6a0804" stroke-width="0.99" stroke-linecap="round" opacity="0.53" fill="none"/><path d="M51.1 43.2L51.3 41.2M48.4 42.6L48.7 38.6M64.6 41.4L64.4 38.8M37.0 42.2L37.3 38.7" stroke="#f07010" stroke-width="0.99" stroke-linecap="round" opacity="0.53" fill="none"/><path d="M28.7 43.3L28.6 40.0M28.6 47.0L29.2 43.6M65.1 41.3L65.0 39.4M36.9 46.8L37.5 44.9M46.4 42.1L47.0 38.2" stroke="#e02008" stroke-width="0.63" stroke-linecap="round" opacity="0.68" fill="none"/><path d="M25.6 38.4L25.0 35.7M39.5 26.9L40.2 23.7M34.9 33.6L35.6 31.7M39.8 36.1L39.3 33.6M17.4 38.7L17.8 36.6M70.6 37.5L70.5 33.7M18.4 32.7L19.1 28.6M22.3 40.4L21.7 37.5M31.7 39.5L31.0 35.7M56.6 38.6L56.7 35.8M68.4 24.8L68.5 22.2M68.0 34.0L67.8 31.1M23.9 23.4L23.7 20.8" stroke="#b01206" stroke-width="0.63" stroke-linecap="round" opacity="0.68" fill="none"/><path d="M70.9 29.1L71.3 26.2M28.2 21.9L27.5 20.2M24.2 25.3L23.7 23.4M63.9 40.0L63.2 35.8M24.0 39.5L24.1 35.3M39.9 30.8L40.2 28.4M39.3 25.0L38.9 23.2M23.1 24.5L23.6 21.0M30.7 29.4L29.9 26.2" stroke="#b01206" stroke-width="1.35" stroke-linecap="round" opacity="0.38" fill="none"/><path d="M27.8 43.9L28.3 41.2M33.5 44.4L33.3 40.0M39.4 46.7L38.7 43.8" stroke="#e83a10" stroke-width="0.99" stroke-linecap="round" opacity="0.53" fill="none"/><path d="M34.5 18.3L34.6 15.8M61.3 37.4L61.3 34.2M22.7 30.1L23.0 27.3M59.9 29.5L59.5 26.4M62.9 35.8L62.9 32.0M47.5 23.8L47.0 20.3M23.0 27.3L22.7 25.6M53.0 40.6L52.4 38.3M66.8 29.4L66.7 25.5" stroke="#8a0c04" stroke-width="0.99" stroke-linecap="round" opacity="0.53" fill="none"/><path d="M50.3 30.1L50.2 27.3M36.7 34.4L37.1 31.0M40.4 39.7L40.9 36.3M36.4 35.3L37.2 32.9M70.0 19.4L69.8 16.3M44.7 35.4L45.4 32.4M57.1 38.2L56.6 34.1M29.6 40.2L29.8 37.0M28.1 36.6L28.7 33.4M37.5 27.5L37.7 25.4" stroke="#f03010" stroke-width="1.35" stroke-linecap="round" opacity="0.38" fill="none"/><path d="M25.2 37.1L25.9 32.6M45.7 38.4L46.2 35.5M41.0 30.1L41.1 26.3M25.9 27.9L26.4 25.3M70.5 21.4L70.2 17.1M18.3 38.0L18.3 34.0M47.5 34.5L48.3 31.8M48.8 39.7L48.2 36.1" stroke="#6a0804" stroke-width="1.35" stroke-linecap="round" opacity="0.38" fill="none"/><path d="M29.4 20.3L29.8 17.5M25.3 25.1L24.6 22.6M63.2 40.7L62.5 37.3M69.7 33.0L70.1 28.8M50.1 32.9L50.3 30.1M40.0 22.7L39.3 18.6M41.9 20.4L41.1 16.6" stroke="#8a0c04" stroke-width="0.63" stroke-linecap="round" opacity="0.68" fill="none"/><path d="M41.4 21.8L42.0 18.4M44.6 28.5L44.2 25.5M61.5 36.5L61.0 33.5M23.3 39.6L23.6 37.5M63.2 26.3L63.4 22.9M68.2 13.0L67.4 10.5M65.6 17.6L65.6 15.6M25.8 40.0L26.0 37.0M36.5 31.7L36.2 28.8M26.8 22.7L26.6 21.0M62.9 34.5L62.3 30.2" stroke="#e8220c" stroke-width="0.99" stroke-linecap="round" opacity="0.53" fill="none"/><path d="M22.4 42.2L22.9 37.9M38.2 46.2L38.5 43.8M28.9 46.7L28.2 42.8M44.1 46.1L44.5 43.7M55.8 42.7L55.1 38.7M54.4 41.1L54.7 38.3" stroke="#e83a10" stroke-width="0.63" stroke-linecap="round" opacity="0.68" fill="none"/><path d="M57.9 35.8L58.0 31.9M27.6 37.4L27.7 33.9M31.4 39.8L32.1 37.2M33.8 36.4L33.2 32.3M23.1 33.4L22.4 29.4M56.2 40.6L56.1 38.2M26.6 31.5L26.6 27.6M43.4 35.4L43.3 33.6" stroke="#d01808" stroke-width="0.63" stroke-linecap="round" opacity="0.68" fill="none"/><path d="M45.6 41.4L46.1 37.3M54.2 45.0L54.4 41.3M45.0 42.9L44.9 39.5" stroke="#e83a10" stroke-width="1.35" stroke-linecap="round" opacity="0.38" fill="none"/><path d="M55.1 46.7L55.4 43.6M38.0 42.5L37.7 39.6M42.3 41.1L42.1 38.2M51.2 45.7L50.5 43.0M21.5 44.6L22.2 41.8M39.4 41.1L38.9 38.7" stroke="#e8b818" stroke-width="0.63" stroke-linecap="round" opacity="0.68" fill="none"/><path d="M33.5 27.9L32.8 24.2M20.2 37.4L20.8 33.0M27.1 38.1L27.2 33.9M55.2 34.2L55.4 32.2M32.5 21.2L32.4 16.9M61.9 25.5L61.2 22.6M57.0 38.2L56.2 34.4M69.0 20.4L68.6 18.8" stroke="#e8220c" stroke-width="0.63" stroke-linecap="round" opacity="0.68" fill="none"/><path d="M24.3 26.8L23.5 23.3M41.9 18.9L41.3 14.5M62.1 40.3L62.3 38.6M64.3 24.4L63.7 20.3" stroke="#8a0c04" stroke-width="1.35" stroke-linecap="round" opacity="0.38" fill="none"/><path d="M68.5 19.1L68.6 16.0M71.0 20.2L70.2 15.7M68.5 22.8L68.6 20.4M41.5 28.3L42.2 26.5M61.4 27.6L61.7 24.3M65.9 30.3L65.7 26.5M60.8 34.2L61.2 32.1" stroke="#f03010" stroke-width="0.63" stroke-linecap="round" opacity="0.68" fill="none"/><path d="M25.7 41.0L25.2 38.1M30.0 42.7L30.5 38.8M30.1 43.5L30.3 40.5" stroke="#f07010" stroke-width="0.63" stroke-linecap="round" opacity="0.68" fill="none"/><path d="M43.1 42.5L43.7 38.5M45.5 44.4L45.8 42.6M49.7 43.0L49.8 38.9" stroke="#e8b818" stroke-width="1.35" stroke-linecap="round" opacity="0.38" fill="none"/><path d="M42.9 41.7L43.4 37.3" stroke="#e8b818" stroke-width="0.99" stroke-linecap="round" opacity="0.53" fill="none"/><path d="M47.4 26.1L47.6 24.4M68.5 17.9L68.7 15.4M52.8 36.8L53.4 32.8M59.0 26.4L58.7 24.2M34.3 35.9L34.9 32.9M61.7 40.9L62.2 39.0M50.7 34.3L50.5 30.9M57.5 32.9L57.0 30.9M31.9 20.0L32.5 17.3M28.1 35.7L27.7 33.9M54.0 45.0L53.7 41.1M28.6 40.0L28.5 38.1M34.1 41.5L33.4 38.7M60.3 37.3L60.0 33.2M31.1 28.1L30.8 26.5M39.1 20.9L38.9 18.9M23.1 37.8L23.9 35.8M42.1 40.0L42.8 37.1M41.2 31.9L41.9 29.0M68.0 42.1L68.0 39.6M52.9 32.9L52.3 30.9M58.2 42.3L58.3 40.8M41.2 22.7L41.5 18.5M40.0 35.0L40.5 31.0" stroke="#120100" stroke-width="1.10" stroke-linecap="round" opacity="0.52" fill="none"/><path d="M58.7 28.6L58.0 25.9M66.0 19.1L65.7 15.6M48.9 30.7L48.9 28.0M64.3 41.7L64.3 38.7M65.4 41.5L65.7 37.7M58.0 39.5L57.9 37.7M50.4 26.6L50.9 22.2M45.5 40.8L45.5 38.8M23.5 28.0L23.8 25.1M42.7 35.8L42.7 31.3M39.9 37.0L39.1 33.5M34.4 26.1L34.5 22.6M55.5 36.7L56.0 33.0M69.7 39.3L70.2 37.1M26.9 21.0L27.6 16.6M30.0 27.4L29.8 24.6M55.3 35.3L54.5 32.7M35.9 35.5L35.1 31.6M35.2 36.6L35.4 33.4M31.9 45.9L31.8 42.3M40.7 18.2L41.2 14.9M55.5 40.5L55.5 36.5M30.3 34.8L30.9 30.6M29.7 30.7L30.3 29.1M33.4 27.1L34.2 23.7M23.8 45.4L23.5 43.6M34.0 34.5L34.2 31.1M58.8 34.5L58.1 31.1M29.1 40.6L29.1 37.5M32.7 36.7L33.0 32.7" stroke="#120100" stroke-width="0.70" stroke-linecap="round" opacity="0.64" fill="none"/><path d="M34.7 37.0L35.5 34.7M43.2 21.5L43.1 18.5M20.4 43.5L20.5 39.5M51.9 31.4L52.7 28.0M27.5 28.2L28.1 25.4M44.2 22.9L44.9 18.8M40.0 43.4L40.1 40.1M28.3 24.9L27.7 22.1M29.3 36.7L29.4 33.2M20.8 34.9L20.5 31.2M59.9 40.0L60.2 36.8M29.2 29.4L28.8 26.9M36.3 24.5L35.6 20.5M62.1 32.3L62.7 30.2M66.1 30.6L65.7 28.2M52.4 35.6L52.6 33.3M43.7 44.9L43.7 42.5M66.0 31.7L66.0 27.5M20.8 37.6L21.3 35.0M45.2 32.9L44.4 31.3M65.0 40.4L64.9 36.3M49.4 36.1L48.8 34.2M32.9 18.8L32.9 17.3M43.1 27.7L43.8 24.3M58.3 32.1L57.9 28.2M34.3 37.4L34.9 34.6M23.0 35.0L22.9 31.8M65.9 40.9L66.3 37.6M47.3 34.9L46.7 32.9M46.1 39.4L46.4 36.2M28.3 43.8L28.6 40.7M25.7 32.5L26.3 30.4M26.3 42.9L25.9 39.7M54.2 44.1L54.3 41.1M40.9 32.0L41.4 28.7M28.0 33.5L27.8 30.0" stroke="#120100" stroke-width="1.50" stroke-linecap="round" opacity="0.41" fill="none"/><path d="M24.0 22.4L23.6 18.5M23.8 33.3L23.0 30.7M18.2 26.2L18.9 22.3M20.8 26.1L20.6 23.2M19.4 28.8L19.5 25.3" stroke="#b01408" stroke-width="1.35" stroke-linecap="round" opacity="0.35" fill="none"/><path d="M19.8 21.9L19.9 18.5M8.5 31.9L9.3 29.0M13.2 28.5L12.4 25.3M16.9 28.7L16.9 26.7M9.9 35.9L9.2 32.0" stroke="#b01408" stroke-width="0.63" stroke-linecap="round" opacity="0.55" fill="none"/><path d="M9.4 34.9L8.8 33.2M11.9 22.4L11.7 18.8M13.0 29.9L13.0 26.5M21.5 25.9L21.1 23.8M15.3 22.1L14.7 18.2M20.3 35.4L20.2 33.5" stroke="#b01408" stroke-width="0.99" stroke-linecap="round" opacity="0.45" fill="none"/></g><g filter="url(#b1)"><path d="M21.5 43.8h0M26.2 48.1h0M33.4 41.2h0M43.1 48.2h0M45.4 41.0h0M28.0 41.7h0M22.7 43.3h0M41.6 48.9h0M27.2 41.8h0M20.7 46.3h0M21.7 44.1h0M54.3 44.9h0M52.5 45.8h0M39.0 48.8h0M23.1 43.2h0M54.5 44.3h0M19.3 46.0h0M23.2 42.1h0M27.2 48.3h0M33.5 40.9h0" stroke="#e8dc20" stroke-width="1.30" stroke-linecap="round" opacity="0.65" fill="none"/><path d="M20.2 43.2h0M20.7 46.7h0M28.2 41.0h0M53.4 44.1h0M26.6 41.6h0M35.0 48.9h0M53.1 45.6h0M18.8 45.1h0M20.6 43.2h0M53.3 46.3h0M48.6 42.4h0M25.6 47.5h0M52.4 45.8h0M28.6 41.0h0M46.3 47.6h0M43.9 41.0h0M34.7 41.2h0M30.2 48.8h0M19.6 44.3h0M26.6 42.0h0M22.9 42.9h0M30.0 41.4h0M22.2 43.3h0M21.8 43.5h0M32.5 48.9h0M21.2 45.9h0M22.2 43.4h0" stroke="#e8dc20" stroke-width="1.90" stroke-linecap="round" opacity="0.75" fill="none"/><path d="M42.4 41.1h0M19.9 46.4h0M19.9 46.0h0M35.1 49.1h0M52.0 46.1h0M21.1 43.8h0M31.7 48.6h0M43.7 40.9h0M24.2 42.2h0M26.7 41.5h0M22.0 43.6h0M35.9 48.5h0M28.8 41.3h0M45.7 41.2h0M41.4 41.0h0M53.0 45.7h0M25.3 47.5h0M21.2 43.1h0M40.1 41.1h0M52.4 42.9h0M32.1 40.8h0M41.6 40.6h0M35.9 40.6h0" stroke="#e8dc20" stroke-width="1.70" stroke-linecap="round" opacity="0.85" fill="none"/><path d="M31.3 48.3h0M20.1 46.1h0M50.2 46.7h0M23.5 42.0h0M52.9 43.8h0M23.5 42.1h0M45.5 48.1h0M53.2 46.2h0M39.0 40.6h0M29.3 41.1h0M23.5 47.0h0M44.1 48.2h0M47.0 41.9h0M36.5 48.5h0M41.5 41.0h0M22.5 42.1h0M35.3 40.6h0M29.1 48.3h0M31.9 40.9h0M31.8 48.3h0" stroke="#e8dc20" stroke-width="1.50" stroke-linecap="round" opacity="0.95" fill="none"/><path d="M28.8 44.4h0M31.9 43.5h0M36.4 45.9h0M29.2 44.0h0M34.9 46.8h0M33.2 44.4h0M25.4 45.3h0M29.7 44.1h0M24.6 45.4h0M33.6 45.3h0M31.6 44.0h0M26.1 46.1h0M37.4 44.9h0" stroke="#90e01c" stroke-width="1.10" stroke-linecap="round" opacity="0.65" fill="none"/><path d="M27.4 46.1h0M32.3 43.4h0M27.1 45.2h0M37.0 44.4h0M25.9 44.6h0M36.6 44.6h0" stroke="#90e01c" stroke-width="1.70" stroke-linecap="round" opacity="0.75" fill="none"/><path d="M37.6 43.9h0M40.1 43.9h0M38.1 46.5h0M33.5 46.1h0M32.0 46.4h0M34.3 43.4h0M30.4 44.5h0M40.1 44.0h0M36.2 44.0h0M31.0 44.8h0M31.4 44.0h0" stroke="#90e01c" stroke-width="1.50" stroke-linecap="round" opacity="0.85" fill="none"/><path d="M25.7 45.5h0M34.5 45.1h0M34.0 44.4h0M37.9 45.3h0M40.3 44.7h0M40.8 45.7h0M26.1 44.9h0M34.6 45.1h0M33.1 43.7h0M29.0 44.8h0M37.9 46.0h0M34.8 46.6h0M25.5 44.4h0M31.7 43.3h0M37.6 44.5h0M35.5 46.0h0" stroke="#90e01c" stroke-width="1.30" stroke-linecap="round" opacity="0.95" fill="none"/><path d="M40.8 45.0h0M41.5 44.9h0M46.8 42.9h0M44.8 43.4h0M39.7 46.2h0" stroke="#e8801a" stroke-width="1.10" stroke-linecap="round" opacity="0.55" fill="none"/><path d="M48.0 43.6h0M47.8 43.2h0M45.8 44.9h0M40.7 44.0h0M39.2 43.9h0M37.4 43.7h0M48.0 44.6h0" stroke="#e8801a" stroke-width="1.70" stroke-linecap="round" opacity="0.65" fill="none"/><path d="M44.2 42.9h0M38.9 43.0h0M46.2 45.3h0M43.7 44.8h0M44.0 43.7h0M46.3 45.1h0M47.9 44.0h0M38.2 45.6h0" stroke="#e8801a" stroke-width="1.50" stroke-linecap="round" opacity="0.75" fill="none"/><path d="M42.5 46.2h0M38.1 45.1h0M44.9 46.3h0M50.8 43.5h0" stroke="#e8801a" stroke-width="1.30" stroke-linecap="round" opacity="0.85" fill="none"/><ellipse cx="21" cy="47.6" rx="1.8" ry="1.1" fill="#60e020"/></g><path d="M5.25 9.3L38.25 14.55L71.25 10M5.25 9.3L5.25 45.3L47.25 56.55L71.25 43.8" fill="none" stroke="#9a9a9a" stroke-width="0.35" opacity="0.65"/><path d="M5.25 9.3L5.25 45.3" fill="none" stroke="#9a9a9a" stroke-width="1.2" stroke-dasharray="0.3 1.5" opacity="0.45"/></g></g><text x="270.40" y="16.70" font-size="10.6" text-anchor="start" fill="#000" font-weight="bold" >B</text><line x1="303.75" y1="21.00" x2="303.75" y2="97.50" stroke="#0d0d0d" stroke-width="1.4"/><line x1="303.15" y1="97.00" x2="485.00" y2="97.00" stroke="#0d0d0d" stroke-width="1.4"/><line x1="300.40" y1="23.40" x2="303.75" y2="23.40" stroke="#0d0d0d" stroke-width="0.9"/><text x="298.30" y="25.70" font-size="6.5" text-anchor="end" fill="#0c0c0c" >150</text><line x1="300.40" y1="48.00" x2="303.75" y2="48.00" stroke="#0d0d0d" stroke-width="0.9"/><text x="298.30" y="50.30" font-size="6.5" text-anchor="end" fill="#0c0c0c" >100</text><line x1="300.40" y1="72.40" x2="303.75" y2="72.40" stroke="#0d0d0d" stroke-width="0.9"/><text x="298.30" y="74.70" font-size="6.5" text-anchor="end" fill="#0c0c0c" >50</text><line x1="300.40" y1="97.00" x2="303.75" y2="97.00" stroke="#0d0d0d" stroke-width="0.9"/><text x="298.30" y="99.30" font-size="6.5" text-anchor="end" fill="#0c0c0c" >0</text><line x1="311.50" y1="97.00" x2="311.50" y2="100.00" stroke="#0d0d0d" stroke-width="0.9"/><text x="311.50" y="109.00" font-size="6.5" text-anchor="middle" fill="#0c0c0c" >0</text><line x1="326.60" y1="97.00" x2="326.60" y2="100.00" stroke="#0d0d0d" stroke-width="0.9"/><text x="326.60" y="109.00" font-size="6.5" text-anchor="middle" fill="#0c0c0c" >10</text><line x1="341.70" y1="97.00" x2="341.70" y2="100.00" stroke="#0d0d0d" stroke-width="0.9"/><text x="341.70" y="109.00" font-size="6.5" text-anchor="middle" fill="#0c0c0c" >20</text><line x1="356.80" y1="97.00" x2="356.80" y2="100.00" stroke="#0d0d0d" stroke-width="0.9"/><text x="356.80" y="109.00" font-size="6.5" text-anchor="middle" fill="#0c0c0c" >30</text><line x1="371.90" y1="97.00" x2="371.90" y2="100.00" stroke="#0d0d0d" stroke-width="0.9"/><text x="371.90" y="109.00" font-size="6.5" text-anchor="middle" fill="#0c0c0c" >0</text><line x1="387.00" y1="97.00" x2="387.00" y2="100.00" stroke="#0d0d0d" stroke-width="0.9"/><text x="387.00" y="109.00" font-size="6.5" text-anchor="middle" fill="#0c0c0c" >10</text><line x1="402.10" y1="97.00" x2="402.10" y2="100.00" stroke="#0d0d0d" stroke-width="0.9"/><text x="402.10" y="109.00" font-size="6.5" text-anchor="middle" fill="#0c0c0c" >20</text><line x1="417.20" y1="97.00" x2="417.20" y2="100.00" stroke="#0d0d0d" stroke-width="0.9"/><text x="417.20" y="109.00" font-size="6.5" text-anchor="middle" fill="#0c0c0c" >30</text><line x1="432.30" y1="97.00" x2="432.30" y2="100.00" stroke="#0d0d0d" stroke-width="0.9"/><text x="432.30" y="109.00" font-size="6.5" text-anchor="middle" fill="#0c0c0c" >0</text><line x1="447.40" y1="97.00" x2="447.40" y2="100.00" stroke="#0d0d0d" stroke-width="0.9"/><text x="447.40" y="109.00" font-size="6.5" text-anchor="middle" fill="#0c0c0c" >10</text><line x1="462.50" y1="97.00" x2="462.50" y2="100.00" stroke="#0d0d0d" stroke-width="0.9"/><text x="462.50" y="109.00" font-size="6.5" text-anchor="middle" fill="#0c0c0c" >20</text><line x1="477.60" y1="97.00" x2="477.60" y2="100.00" stroke="#0d0d0d" stroke-width="0.9"/><text x="477.60" y="109.00" font-size="6.5" text-anchor="middle" fill="#0c0c0c" >30</text><text x="280.20" y="58.50" font-size="8.2" text-anchor="middle" fill="#0c0c0c" textLength="61.00" lengthAdjust="spacingAndGlyphs" transform="rotate(-90 280.20 58.50)" >Synapse area (μm<tspan font-size="5" dy="-2.8">2</tspan><tspan dy="2.8">)</tspan></text><text x="333.20" y="118.90" font-size="6.1" text-anchor="middle" fill="#6aaee4" textLength="32.20" lengthAdjust="spacingAndGlyphs" >CD19 CAR</text><text x="393.60" y="118.90" font-size="6.1" text-anchor="middle" fill="#e2962a" textLength="32.00" lengthAdjust="spacingAndGlyphs" >CD20 CAR</text><text x="453.80" y="118.90" font-size="6.1" text-anchor="middle" fill="#2c4a8a" textLength="26.40" lengthAdjust="spacingAndGlyphs" >TanCAR7</text><text x="394.60" y="130.60" font-size="8.2" text-anchor="middle" fill="#0c0c0c" textLength="34.00" lengthAdjust="spacingAndGlyphs" >Time (min)</text><circle cx="311.50" cy="88.70" r="1.45" fill="#5fa8e3"/><circle cx="314.11" cy="88.59" r="1.45" fill="#5fa8e3"/><circle cx="308.89" cy="88.35" r="1.45" fill="#5fa8e3"/><circle cx="311.50" cy="91.63" r="1.45" fill="#5fa8e3"/><circle cx="311.50" cy="85.50" r="1.45" fill="#5fa8e3"/><circle cx="314.11" cy="84.80" r="1.45" fill="#5fa8e3"/><circle cx="311.50" cy="95.60" r="1.45" fill="#5fa8e3"/><circle cx="314.11" cy="96.00" r="1.45" fill="#5fa8e3"/><line x1="311.50" y1="85.40" x2="311.50" y2="93.75" stroke="#0d0d0d" stroke-width="0.85"/><line x1="309.00" y1="85.40" x2="314.00" y2="85.40" stroke="#0d0d0d" stroke-width="0.85"/><line x1="309.00" y1="93.75" x2="314.00" y2="93.75" stroke="#0d0d0d" stroke-width="0.85"/><line x1="306.60" y1="89.60" x2="316.40" y2="89.60" stroke="#0d0d0d" stroke-width="0.9774999999999999"/><rect x="325.15" y="79.30" width="2.90" height="2.90" fill="#5fa8e3"/><rect x="327.76" y="77.69" width="2.90" height="2.90" fill="#5fa8e3"/><rect x="322.54" y="79.55" width="2.90" height="2.90" fill="#5fa8e3"/><rect x="327.76" y="80.14" width="2.90" height="2.90" fill="#5fa8e3"/><rect x="327.76" y="80.26" width="2.90" height="2.90" fill="#5fa8e3"/><rect x="325.15" y="74.80" width="2.90" height="2.90" fill="#5fa8e3"/><rect x="325.15" y="82.74" width="2.90" height="2.90" fill="#5fa8e3"/><rect x="327.76" y="83.04" width="2.90" height="2.90" fill="#5fa8e3"/><rect x="325.15" y="71.45" width="2.90" height="2.90" fill="#5fa8e3"/><line x1="326.60" y1="75.60" x2="326.60" y2="84.10" stroke="#0d0d0d" stroke-width="0.85"/><line x1="324.10" y1="75.60" x2="329.10" y2="75.60" stroke="#0d0d0d" stroke-width="0.85"/><line x1="324.10" y1="84.10" x2="329.10" y2="84.10" stroke="#0d0d0d" stroke-width="0.85"/><line x1="321.70" y1="80.00" x2="331.50" y2="80.00" stroke="#0d0d0d" stroke-width="0.9774999999999999"/><path d="M340.18 80.07L343.22 80.07L341.70 77.21Z" fill="#5fa8e3"/><path d="M340.18 83.07L343.22 83.07L341.70 80.21Z" fill="#5fa8e3"/><path d="M342.79 79.94L345.83 79.94L344.31 77.08Z" fill="#5fa8e3"/><path d="M342.79 83.59L345.83 83.59L344.31 80.72Z" fill="#5fa8e3"/><path d="M337.57 79.08L340.61 79.08L339.09 76.22Z" fill="#5fa8e3"/><path d="M337.57 78.81L340.61 78.81L339.09 75.95Z" fill="#5fa8e3"/><path d="M342.79 78.76L345.83 78.76L344.31 75.90Z" fill="#5fa8e3"/><path d="M336.26 78.59L339.31 78.59L337.78 75.73Z" fill="#5fa8e3"/><path d="M338.87 85.27L341.92 85.27L340.39 82.41Z" fill="#5fa8e3"/><path d="M340.18 77.44L343.22 77.44L341.70 74.58Z" fill="#5fa8e3"/><path d="M341.48 85.71L344.53 85.71L343.00 82.85Z" fill="#5fa8e3"/><path d="M344.09 76.53L347.14 76.53L345.62 73.67Z" fill="#5fa8e3"/><path d="M340.18 87.76L343.22 87.76L341.70 84.90Z" fill="#5fa8e3"/><path d="M342.79 88.44L345.83 88.44L344.31 85.58Z" fill="#5fa8e3"/><path d="M337.57 88.54L340.61 88.54L339.09 85.68Z" fill="#5fa8e3"/><path d="M340.18 74.42L343.22 74.42L341.70 71.55Z" fill="#5fa8e3"/><path d="M342.79 73.86L345.83 73.86L344.31 71.00Z" fill="#5fa8e3"/><path d="M340.18 90.80L343.22 90.80L341.70 87.94Z" fill="#5fa8e3"/><path d="M340.18 70.34L343.22 70.34L341.70 67.48Z" fill="#5fa8e3"/><path d="M342.79 70.29L345.83 70.29L344.31 67.43Z" fill="#5fa8e3"/><path d="M337.57 68.97L340.61 68.97L339.09 66.11Z" fill="#5fa8e3"/><path d="M341.48 68.18L344.53 68.18L343.00 65.32Z" fill="#5fa8e3"/><path d="M338.87 66.88L341.92 66.88L340.39 64.02Z" fill="#5fa8e3"/><path d="M340.18 63.98L343.22 63.98L341.70 61.12Z" fill="#5fa8e3"/><path d="M340.18 57.28L343.22 57.28L341.70 54.42Z" fill="#5fa8e3"/><path d="M342.79 56.98L345.83 56.98L344.31 54.12Z" fill="#5fa8e3"/><line x1="341.70" y1="70.60" x2="341.70" y2="89.40" stroke="#0d0d0d" stroke-width="0.85"/><line x1="339.20" y1="70.60" x2="344.20" y2="70.60" stroke="#0d0d0d" stroke-width="0.85"/><line x1="339.20" y1="89.40" x2="344.20" y2="89.40" stroke="#0d0d0d" stroke-width="0.85"/><line x1="336.80" y1="80.25" x2="346.60" y2="80.25" stroke="#0d0d0d" stroke-width="0.9774999999999999"/><path d="M355.28 73.73L358.32 73.73L356.80 76.59Z" fill="#5fa8e3"/><path d="M357.89 72.34L360.93 72.34L359.41 75.21Z" fill="#5fa8e3"/><path d="M352.67 71.80L355.71 71.80L354.19 74.66Z" fill="#5fa8e3"/><path d="M355.28 76.17L358.32 76.17L356.80 79.04Z" fill="#5fa8e3"/><path d="M355.28 69.11L358.32 69.11L356.80 71.97Z" fill="#5fa8e3"/><path d="M356.58 78.44L359.63 78.44L358.11 81.30Z" fill="#5fa8e3"/><path d="M353.97 79.32L357.02 79.32L355.50 82.19Z" fill="#5fa8e3"/><path d="M355.28 66.63L358.32 66.63L356.80 69.49Z" fill="#5fa8e3"/><path d="M355.28 63.05L358.32 63.05L356.80 65.91Z" fill="#5fa8e3"/><path d="M357.89 62.93L360.93 62.93L359.41 65.79Z" fill="#5fa8e3"/><path d="M355.28 58.12L358.32 58.12L356.80 60.98Z" fill="#5fa8e3"/><path d="M355.28 88.32L358.32 88.32L356.80 91.18Z" fill="#5fa8e3"/><path d="M357.89 88.32L360.93 88.32L359.41 91.18Z" fill="#5fa8e3"/><path d="M352.67 88.34L355.71 88.34L354.19 91.21Z" fill="#5fa8e3"/><path d="M356.58 89.41L359.63 89.41L358.11 92.27Z" fill="#5fa8e3"/><path d="M357.89 56.42L360.93 56.42L359.41 59.28Z" fill="#5fa8e3"/><path d="M353.97 90.92L357.02 90.92L355.50 93.78Z" fill="#5fa8e3"/><path d="M355.28 54.86L358.32 54.86L356.80 57.72Z" fill="#5fa8e3"/><path d="M352.67 54.55L355.71 54.55L354.19 57.41Z" fill="#5fa8e3"/><path d="M355.28 49.62L358.32 49.62L356.80 52.48Z" fill="#5fa8e3"/><path d="M357.89 48.00L360.93 48.00L359.41 50.87Z" fill="#5fa8e3"/><path d="M355.28 43.42L358.32 43.42L356.80 46.28Z" fill="#5fa8e3"/><line x1="356.80" y1="61.00" x2="356.80" y2="87.25" stroke="#0d0d0d" stroke-width="0.85"/><line x1="354.30" y1="61.00" x2="359.30" y2="61.00" stroke="#0d0d0d" stroke-width="0.85"/><line x1="354.30" y1="87.25" x2="359.30" y2="87.25" stroke="#0d0d0d" stroke-width="0.85"/><line x1="351.90" y1="74.40" x2="361.70" y2="74.40" stroke="#0d0d0d" stroke-width="0.9774999999999999"/><circle cx="371.90" cy="88.29" r="1.45" fill="#e08d18"/><circle cx="374.51" cy="88.27" r="1.45" fill="#e08d18"/><circle cx="369.29" cy="88.95" r="1.45" fill="#e08d18"/><circle cx="369.29" cy="88.21" r="1.45" fill="#e08d18"/><circle cx="375.81" cy="87.48" r="1.45" fill="#e08d18"/><circle cx="367.98" cy="87.43" r="1.45" fill="#e08d18"/><circle cx="374.51" cy="89.83" r="1.45" fill="#e08d18"/><circle cx="370.59" cy="89.86" r="1.45" fill="#e08d18"/><circle cx="375.81" cy="87.22" r="1.45" fill="#e08d18"/><circle cx="374.51" cy="90.02" r="1.45" fill="#e08d18"/><circle cx="375.81" cy="86.57" r="1.45" fill="#e08d18"/><circle cx="370.59" cy="90.73" r="1.45" fill="#e08d18"/><circle cx="371.90" cy="86.37" r="1.45" fill="#e08d18"/><circle cx="367.98" cy="91.27" r="1.45" fill="#e08d18"/><circle cx="374.51" cy="85.92" r="1.45" fill="#e08d18"/><circle cx="370.59" cy="91.66" r="1.45" fill="#e08d18"/><circle cx="373.20" cy="91.69" r="1.45" fill="#e08d18"/><circle cx="371.90" cy="83.28" r="1.45" fill="#e08d18"/><circle cx="374.51" cy="82.60" r="1.45" fill="#e08d18"/><circle cx="371.90" cy="80.20" r="1.45" fill="#e08d18"/><line x1="371.90" y1="85.60" x2="371.90" y2="92.40" stroke="#0d0d0d" stroke-width="0.85"/><line x1="369.40" y1="85.60" x2="374.40" y2="85.60" stroke="#0d0d0d" stroke-width="0.85"/><line x1="369.40" y1="92.40" x2="374.40" y2="92.40" stroke="#0d0d0d" stroke-width="0.85"/><line x1="367.00" y1="88.60" x2="376.80" y2="88.60" stroke="#0d0d0d" stroke-width="0.9774999999999999"/><rect x="385.55" y="78.35" width="2.90" height="2.90" fill="#e08d18"/><rect x="388.16" y="77.37" width="2.90" height="2.90" fill="#e08d18"/><rect x="382.94" y="77.21" width="2.90" height="2.90" fill="#e08d18"/><rect x="381.63" y="79.24" width="2.90" height="2.90" fill="#e08d18"/><rect x="385.55" y="74.78" width="2.90" height="2.90" fill="#e08d18"/><rect x="385.55" y="81.21" width="2.90" height="2.90" fill="#e08d18"/><rect x="388.16" y="81.96" width="2.90" height="2.90" fill="#e08d18"/><rect x="382.94" y="82.16" width="2.90" height="2.90" fill="#e08d18"/><rect x="385.55" y="82.16" width="2.90" height="2.90" fill="#e08d18"/><rect x="388.16" y="73.34" width="2.90" height="2.90" fill="#e08d18"/><rect x="385.55" y="72.05" width="2.90" height="2.90" fill="#e08d18"/><rect x="382.94" y="71.69" width="2.90" height="2.90" fill="#e08d18"/><rect x="386.86" y="84.31" width="2.90" height="2.90" fill="#e08d18"/><rect x="384.25" y="84.67" width="2.90" height="2.90" fill="#e08d18"/><rect x="389.47" y="71.21" width="2.90" height="2.90" fill="#e08d18"/><rect x="389.47" y="84.86" width="2.90" height="2.90" fill="#e08d18"/><rect x="388.16" y="70.91" width="2.90" height="2.90" fill="#e08d18"/><rect x="381.63" y="70.90" width="2.90" height="2.90" fill="#e08d18"/><rect x="382.94" y="70.03" width="2.90" height="2.90" fill="#e08d18"/><rect x="381.63" y="85.95" width="2.90" height="2.90" fill="#e08d18"/><rect x="385.55" y="68.92" width="2.90" height="2.90" fill="#e08d18"/><rect x="385.55" y="63.55" width="2.90" height="2.90" fill="#e08d18"/><rect x="385.55" y="60.15" width="2.90" height="2.90" fill="#e08d18"/><rect x="388.16" y="59.75" width="2.90" height="2.90" fill="#e08d18"/><line x1="387.00" y1="71.40" x2="387.00" y2="88.00" stroke="#0d0d0d" stroke-width="0.85"/><line x1="384.50" y1="71.40" x2="389.50" y2="71.40" stroke="#0d0d0d" stroke-width="0.85"/><line x1="384.50" y1="88.00" x2="389.50" y2="88.00" stroke="#0d0d0d" stroke-width="0.85"/><line x1="382.10" y1="79.40" x2="391.90" y2="79.40" stroke="#0d0d0d" stroke-width="0.9774999999999999"/><path d="M400.58 81.82L403.62 81.82L402.10 78.96Z" fill="#e08d18"/><path d="M400.58 84.45L403.62 84.45L402.10 81.58Z" fill="#e08d18"/><path d="M400.58 79.38L403.62 79.38L402.10 76.52Z" fill="#e08d18"/><path d="M403.19 78.68L406.23 78.68L404.71 75.81Z" fill="#e08d18"/><path d="M397.97 77.91L401.01 77.91L399.49 75.05Z" fill="#e08d18"/><path d="M400.58 87.07L403.62 87.07L402.10 84.21Z" fill="#e08d18"/><path d="M403.19 87.15L406.23 87.15L404.71 84.29Z" fill="#e08d18"/><path d="M397.97 88.61L401.01 88.61L399.49 85.75Z" fill="#e08d18"/><path d="M400.58 75.16L403.62 75.16L402.10 72.30Z" fill="#e08d18"/><path d="M400.58 89.99L403.62 89.99L402.10 87.12Z" fill="#e08d18"/><path d="M403.19 91.25L406.23 91.25L404.71 88.38Z" fill="#e08d18"/><path d="M397.97 91.30L401.01 91.30L399.49 88.43Z" fill="#e08d18"/><path d="M404.49 91.35L407.54 91.35L406.02 88.49Z" fill="#e08d18"/><path d="M401.88 72.78L404.93 72.78L403.41 69.92Z" fill="#e08d18"/><path d="M400.58 70.75L403.62 70.75L402.10 67.88Z" fill="#e08d18"/><path d="M403.19 69.48L406.23 69.48L404.71 66.62Z" fill="#e08d18"/><line x1="402.10" y1="74.40" x2="402.10" y2="88.00" stroke="#0d0d0d" stroke-width="0.85"/><line x1="399.60" y1="74.40" x2="404.60" y2="74.40" stroke="#0d0d0d" stroke-width="0.85"/><line x1="399.60" y1="88.00" x2="404.60" y2="88.00" stroke="#0d0d0d" stroke-width="0.85"/><line x1="397.20" y1="81.00" x2="407.00" y2="81.00" stroke="#0d0d0d" stroke-width="0.9774999999999999"/><path d="M415.68 76.18L418.72 76.18L417.20 79.04Z" fill="#e08d18"/><path d="M418.29 76.29L421.33 76.29L419.81 79.16Z" fill="#e08d18"/><path d="M413.07 74.86L416.11 74.86L414.59 77.73Z" fill="#e08d18"/><path d="M413.07 77.57L416.11 77.57L414.59 80.44Z" fill="#e08d18"/><path d="M416.98 74.11L420.03 74.11L418.50 76.97Z" fill="#e08d18"/><path d="M419.59 73.86L422.64 73.86L421.12 76.72Z" fill="#e08d18"/><path d="M416.98 78.39L420.03 78.39L418.50 81.26Z" fill="#e08d18"/><path d="M419.59 78.47L422.64 78.47L421.12 81.33Z" fill="#e08d18"/><path d="M418.29 78.50L421.33 78.50L419.81 81.36Z" fill="#e08d18"/><path d="M418.29 78.62L421.33 78.62L419.81 81.48Z" fill="#e08d18"/><path d="M418.29 79.30L421.33 79.30L419.81 82.17Z" fill="#e08d18"/><path d="M414.37 72.94L417.42 72.94L415.89 75.80Z" fill="#e08d18"/><path d="M414.37 79.96L417.42 79.96L415.89 82.82Z" fill="#e08d18"/><path d="M411.76 80.16L414.81 80.16L413.28 83.02Z" fill="#e08d18"/><path d="M416.98 71.50L420.03 71.50L418.50 74.36Z" fill="#e08d18"/><path d="M415.68 81.30L418.72 81.30L417.20 84.16Z" fill="#e08d18"/><path d="M419.59 81.40L422.64 81.40L421.12 84.26Z" fill="#e08d18"/><path d="M413.07 82.69L416.11 82.69L414.59 85.55Z" fill="#e08d18"/><path d="M416.98 82.71L420.03 82.71L418.50 85.57Z" fill="#e08d18"/><path d="M415.68 68.06L418.72 68.06L417.20 70.92Z" fill="#e08d18"/><path d="M419.59 84.34L422.64 84.34L421.12 87.20Z" fill="#e08d18"/><path d="M418.29 67.84L421.33 67.84L419.81 70.70Z" fill="#e08d18"/><path d="M415.68 87.90L418.72 87.90L417.20 90.76Z" fill="#e08d18"/><path d="M415.68 62.92L418.72 62.92L417.20 65.78Z" fill="#e08d18"/><path d="M418.29 62.22L421.33 62.22L419.81 65.08Z" fill="#e08d18"/><path d="M415.68 51.12L418.72 51.12L417.20 53.98Z" fill="#e08d18"/><line x1="417.20" y1="68.60" x2="417.20" y2="86.40" stroke="#0d0d0d" stroke-width="0.85"/><line x1="414.70" y1="68.60" x2="419.70" y2="68.60" stroke="#0d0d0d" stroke-width="0.85"/><line x1="414.70" y1="86.40" x2="419.70" y2="86.40" stroke="#0d0d0d" stroke-width="0.85"/><line x1="412.30" y1="77.40" x2="422.10" y2="77.40" stroke="#0d0d0d" stroke-width="0.9774999999999999"/><circle cx="432.30" cy="90.33" r="1.45" fill="#213c7c"/><circle cx="434.91" cy="89.50" r="1.45" fill="#213c7c"/><circle cx="429.69" cy="90.52" r="1.45" fill="#213c7c"/><circle cx="436.22" cy="91.56" r="1.45" fill="#213c7c"/><circle cx="429.69" cy="92.09" r="1.45" fill="#213c7c"/><circle cx="432.30" cy="86.20" r="1.45" fill="#213c7c"/><circle cx="432.30" cy="93.86" r="1.45" fill="#213c7c"/><circle cx="434.91" cy="95.33" r="1.45" fill="#213c7c"/><circle cx="431.00" cy="96.00" r="1.45" fill="#213c7c"/><line x1="432.30" y1="87.00" x2="432.30" y2="93.00" stroke="#0d0d0d" stroke-width="0.85"/><line x1="429.80" y1="87.00" x2="434.80" y2="87.00" stroke="#0d0d0d" stroke-width="0.85"/><line x1="429.80" y1="93.00" x2="434.80" y2="93.00" stroke="#0d0d0d" stroke-width="0.85"/><line x1="427.40" y1="90.00" x2="437.20" y2="90.00" stroke="#0d0d0d" stroke-width="0.9774999999999999"/><rect x="445.95" y="70.06" width="2.90" height="2.90" fill="#213c7c"/><rect x="445.95" y="63.81" width="2.90" height="2.90" fill="#213c7c"/><rect x="448.56" y="70.46" width="2.90" height="2.90" fill="#213c7c"/><rect x="448.56" y="63.15" width="2.90" height="2.90" fill="#213c7c"/><rect x="443.34" y="62.47" width="2.90" height="2.90" fill="#213c7c"/><rect x="443.34" y="71.44" width="2.90" height="2.90" fill="#213c7c"/><rect x="447.25" y="71.96" width="2.90" height="2.90" fill="#213c7c"/><rect x="449.87" y="61.64" width="2.90" height="2.90" fill="#213c7c"/><rect x="443.34" y="61.50" width="2.90" height="2.90" fill="#213c7c"/><rect x="444.64" y="73.91" width="2.90" height="2.90" fill="#213c7c"/><rect x="447.25" y="75.62" width="2.90" height="2.90" fill="#213c7c"/><rect x="445.95" y="56.18" width="2.90" height="2.90" fill="#213c7c"/><rect x="448.56" y="55.72" width="2.90" height="2.90" fill="#213c7c"/><rect x="443.34" y="55.55" width="2.90" height="2.90" fill="#213c7c"/><rect x="444.64" y="54.65" width="2.90" height="2.90" fill="#213c7c"/><rect x="448.56" y="54.55" width="2.90" height="2.90" fill="#213c7c"/><rect x="442.03" y="53.98" width="2.90" height="2.90" fill="#213c7c"/><rect x="445.95" y="79.97" width="2.90" height="2.90" fill="#213c7c"/><rect x="448.56" y="80.06" width="2.90" height="2.90" fill="#213c7c"/><rect x="443.34" y="80.74" width="2.90" height="2.90" fill="#213c7c"/><rect x="449.87" y="52.74" width="2.90" height="2.90" fill="#213c7c"/><rect x="444.64" y="81.49" width="2.90" height="2.90" fill="#213c7c"/><rect x="445.95" y="84.00" width="2.90" height="2.90" fill="#213c7c"/><rect x="448.56" y="84.94" width="2.90" height="2.90" fill="#213c7c"/><rect x="445.95" y="87.05" width="2.90" height="2.90" fill="#213c7c"/><rect x="443.34" y="87.05" width="2.90" height="2.90" fill="#213c7c"/><rect x="449.87" y="87.05" width="2.90" height="2.90" fill="#213c7c"/><rect x="444.64" y="87.17" width="2.90" height="2.90" fill="#213c7c"/><rect x="445.95" y="44.95" width="2.90" height="2.90" fill="#213c7c"/><rect x="445.95" y="34.95" width="2.90" height="2.90" fill="#213c7c"/><line x1="447.40" y1="55.40" x2="447.40" y2="81.60" stroke="#0d0d0d" stroke-width="0.85"/><line x1="444.90" y1="55.40" x2="449.90" y2="55.40" stroke="#0d0d0d" stroke-width="0.85"/><line x1="444.90" y1="81.60" x2="449.90" y2="81.60" stroke="#0d0d0d" stroke-width="0.85"/><line x1="442.50" y1="68.40" x2="452.30" y2="68.40" stroke="#0d0d0d" stroke-width="0.9774999999999999"/><path d="M460.98 77.57L464.02 77.57L462.50 74.71Z" fill="#213c7c"/><path d="M463.59 77.28L466.63 77.28L465.11 74.42Z" fill="#213c7c"/><path d="M458.37 77.20L461.41 77.20L459.89 74.33Z" fill="#213c7c"/><path d="M458.37 76.05L461.41 76.05L459.89 73.19Z" fill="#213c7c"/><path d="M464.89 79.40L467.94 79.40L466.42 76.54Z" fill="#213c7c"/><path d="M462.28 79.97L465.33 79.97L463.81 77.10Z" fill="#213c7c"/><path d="M459.67 80.08L462.72 80.08L461.19 77.22Z" fill="#213c7c"/><path d="M460.98 74.83L464.02 74.83L462.50 71.97Z" fill="#213c7c"/><path d="M457.06 80.72L460.11 80.72L458.58 77.86Z" fill="#213c7c"/><path d="M463.59 80.89L466.63 80.89L465.11 78.03Z" fill="#213c7c"/><path d="M463.59 74.42L466.63 74.42L465.11 71.55Z" fill="#213c7c"/><path d="M457.06 81.52L460.11 81.52L458.58 78.66Z" fill="#213c7c"/><path d="M464.89 81.81L467.94 81.81L466.42 78.94Z" fill="#213c7c"/><path d="M459.67 72.64L462.72 72.64L461.19 69.78Z" fill="#213c7c"/><path d="M460.98 82.83L464.02 82.83L462.50 79.96Z" fill="#213c7c"/><path d="M462.28 72.28L465.33 72.28L463.81 69.42Z" fill="#213c7c"/><path d="M464.89 71.10L467.94 71.10L466.42 68.24Z" fill="#213c7c"/><path d="M463.59 84.58L466.63 84.58L465.11 81.71Z" fill="#213c7c"/><path d="M457.06 70.71L460.11 70.71L458.58 67.85Z" fill="#213c7c"/><path d="M459.67 85.03L462.72 85.03L461.19 82.17Z" fill="#213c7c"/><path d="M457.06 85.53L460.11 85.53L458.58 82.67Z" fill="#213c7c"/><path d="M462.28 85.99L465.33 85.99L463.81 83.13Z" fill="#213c7c"/><path d="M460.98 68.61L464.02 68.61L462.50 65.75Z" fill="#213c7c"/><path d="M462.28 66.55L465.33 66.55L463.81 63.69Z" fill="#213c7c"/><path d="M459.67 65.68L462.72 65.68L461.19 62.82Z" fill="#213c7c"/><path d="M460.98 93.02L464.02 93.02L462.50 90.16Z" fill="#213c7c"/><path d="M463.59 93.78L466.63 93.78L465.11 90.92Z" fill="#213c7c"/><path d="M458.37 94.28L461.41 94.28L459.89 91.42Z" fill="#213c7c"/><path d="M460.98 55.68L464.02 55.68L462.50 52.82Z" fill="#213c7c"/><path d="M460.98 44.88L464.02 44.88L462.50 42.02Z" fill="#213c7c"/><line x1="462.50" y1="65.60" x2="462.50" y2="87.00" stroke="#0d0d0d" stroke-width="0.85"/><line x1="460.00" y1="65.60" x2="465.00" y2="65.60" stroke="#0d0d0d" stroke-width="0.85"/><line x1="460.00" y1="87.00" x2="465.00" y2="87.00" stroke="#0d0d0d" stroke-width="0.85"/><line x1="457.60" y1="76.40" x2="467.40" y2="76.40" stroke="#0d0d0d" stroke-width="0.9774999999999999"/><path d="M476.08 66.29L479.12 66.29L477.60 69.15Z" fill="#213c7c"/><path d="M478.69 65.40L481.73 65.40L480.21 68.26Z" fill="#213c7c"/><path d="M473.47 65.18L476.51 65.18L474.99 68.04Z" fill="#213c7c"/><path d="M476.08 69.10L479.12 69.10L477.60 71.97Z" fill="#213c7c"/><path d="M476.08 63.50L479.12 63.50L477.60 66.36Z" fill="#213c7c"/><path d="M478.69 70.32L481.73 70.32L480.21 73.18Z" fill="#213c7c"/><path d="M476.08 72.60L479.12 72.60L477.60 75.46Z" fill="#213c7c"/><path d="M476.08 58.66L479.12 58.66L477.60 61.53Z" fill="#213c7c"/><path d="M478.69 57.22L481.73 57.22L480.21 60.08Z" fill="#213c7c"/><path d="M476.08 77.23L479.12 77.23L477.60 80.09Z" fill="#213c7c"/><path d="M478.69 78.00L481.73 78.00L480.21 80.86Z" fill="#213c7c"/><path d="M476.08 51.89L479.12 51.89L477.60 54.75Z" fill="#213c7c"/><path d="M476.08 83.72L479.12 83.72L477.60 86.59Z" fill="#213c7c"/><path d="M476.08 45.72L479.12 45.72L477.60 48.58Z" fill="#213c7c"/><path d="M476.08 89.22L479.12 89.22L477.60 92.08Z" fill="#213c7c"/><path d="M478.69 90.12L481.73 90.12L480.21 92.98Z" fill="#213c7c"/><path d="M476.08 41.12L479.12 41.12L477.60 43.98Z" fill="#213c7c"/><path d="M478.69 40.92L481.73 40.92L480.21 43.78Z" fill="#213c7c"/><path d="M473.47 40.52L476.51 40.52L474.99 43.38Z" fill="#213c7c"/><line x1="477.60" y1="50.00" x2="477.60" y2="85.00" stroke="#0d0d0d" stroke-width="0.85"/><line x1="475.10" y1="50.00" x2="480.10" y2="50.00" stroke="#0d0d0d" stroke-width="0.85"/><line x1="475.10" y1="85.00" x2="480.10" y2="85.00" stroke="#0d0d0d" stroke-width="0.85"/><line x1="472.70" y1="67.60" x2="482.50" y2="67.60" stroke="#0d0d0d" stroke-width="0.9774999999999999"/><circle cx="447.40" cy="30" r="0.5" fill="#213c7c"/><line x1="303.75" y1="143.20" x2="303.75" y2="220.00" stroke="#0d0d0d" stroke-width="1.4"/><line x1="303.15" y1="219.40" x2="485.00" y2="219.40" stroke="#0d0d0d" stroke-width="1.4"/><line x1="300.40" y1="146.00" x2="303.75" y2="146.00" stroke="#0d0d0d" stroke-width="0.9"/><text x="298.30" y="148.30" font-size="6.5" text-anchor="end" fill="#0c0c0c" >1000</text><line x1="300.40" y1="160.60" x2="303.75" y2="160.60" stroke="#0d0d0d" stroke-width="0.9"/><text x="298.30" y="162.90" font-size="6.5" text-anchor="end" fill="#0c0c0c" >800</text><line x1="300.40" y1="175.40" x2="303.75" y2="175.40" stroke="#0d0d0d" stroke-width="0.9"/><text x="298.30" y="177.70" font-size="6.5" text-anchor="end" fill="#0c0c0c" >600</text><line x1="300.40" y1="190.00" x2="303.75" y2="190.00" stroke="#0d0d0d" stroke-width="0.9"/><text x="298.30" y="192.30" font-size="6.5" text-anchor="end" fill="#0c0c0c" >400</text><line x1="300.40" y1="204.60" x2="303.75" y2="204.60" stroke="#0d0d0d" stroke-width="0.9"/><text x="298.30" y="206.90" font-size="6.5" text-anchor="end" fill="#0c0c0c" >200</text><line x1="300.40" y1="219.40" x2="303.75" y2="219.40" stroke="#0d0d0d" stroke-width="0.9"/><text x="298.30" y="221.70" font-size="6.5" text-anchor="end" fill="#0c0c0c" >0</text><line x1="311.50" y1="219.40" x2="311.50" y2="222.40" stroke="#0d0d0d" stroke-width="0.9"/><text x="311.50" y="231.40" font-size="6.5" text-anchor="middle" fill="#0c0c0c" >0</text><line x1="326.60" y1="219.40" x2="326.60" y2="222.40" stroke="#0d0d0d" stroke-width="0.9"/><text x="326.60" y="231.40" font-size="6.5" text-anchor="middle" fill="#0c0c0c" >10</text><line x1="341.70" y1="219.40" x2="341.70" y2="222.40" stroke="#0d0d0d" stroke-width="0.9"/><text x="341.70" y="231.40" font-size="6.5" text-anchor="middle" fill="#0c0c0c" >20</text><line x1="356.80" y1="219.40" x2="356.80" y2="222.40" stroke="#0d0d0d" stroke-width="0.9"/><text x="356.80" y="231.40" font-size="6.5" text-anchor="middle" fill="#0c0c0c" >30</text><line x1="371.90" y1="219.40" x2="371.90" y2="222.40" stroke="#0d0d0d" stroke-width="0.9"/><text x="371.90" y="231.40" font-size="6.5" text-anchor="middle" fill="#0c0c0c" >0</text><line x1="387.00" y1="219.40" x2="387.00" y2="222.40" stroke="#0d0d0d" stroke-width="0.9"/><text x="387.00" y="231.40" font-size="6.5" text-anchor="middle" fill="#0c0c0c" >10</text><line x1="402.10" y1="219.40" x2="402.10" y2="222.40" stroke="#0d0d0d" stroke-width="0.9"/><text x="402.10" y="231.40" font-size="6.5" text-anchor="middle" fill="#0c0c0c" >20</text><line x1="417.20" y1="219.40" x2="417.20" y2="222.40" stroke="#0d0d0d" stroke-width="0.9"/><text x="417.20" y="231.40" font-size="6.5" text-anchor="middle" fill="#0c0c0c" >30</text><line x1="432.30" y1="219.40" x2="432.30" y2="222.40" stroke="#0d0d0d" stroke-width="0.9"/><text x="432.30" y="231.40" font-size="6.5" text-anchor="middle" fill="#0c0c0c" >0</text><line x1="447.40" y1="219.40" x2="447.40" y2="222.40" stroke="#0d0d0d" stroke-width="0.9"/><text x="447.40" y="231.40" font-size="6.5" text-anchor="middle" fill="#0c0c0c" >10</text><line x1="462.50" y1="219.40" x2="462.50" y2="222.40" stroke="#0d0d0d" stroke-width="0.9"/><text x="462.50" y="231.40" font-size="6.5" text-anchor="middle" fill="#0c0c0c" >20</text><line x1="477.60" y1="219.40" x2="477.60" y2="222.40" stroke="#0d0d0d" stroke-width="0.9"/><text x="477.60" y="231.40" font-size="6.5" text-anchor="middle" fill="#0c0c0c" >30</text><text x="277.40" y="181.50" font-size="8.2" text-anchor="middle" fill="#0c0c0c" textLength="41.00" lengthAdjust="spacingAndGlyphs" transform="rotate(-90 277.40 181.50)" >MFI of F-actin</text><text x="333.20" y="241.20" font-size="6.1" text-anchor="middle" fill="#6aaee4" textLength="32.20" lengthAdjust="spacingAndGlyphs" >CD19 CAR</text><text x="393.60" y="241.20" font-size="6.1" text-anchor="middle" fill="#e2962a" textLength="32.00" lengthAdjust="spacingAndGlyphs" >CD20 CAR</text><text x="453.80" y="241.20" font-size="6.1" text-anchor="middle" fill="#2c4a8a" textLength="26.40" lengthAdjust="spacingAndGlyphs" >TanCAR7</text><text x="394.60" y="253.40" font-size="8.2" text-anchor="middle" fill="#0c0c0c" textLength="34.00" lengthAdjust="spacingAndGlyphs" >Time (min)</text><circle cx="311.50" cy="199.29" r="1.45" fill="#5fa8e3"/><circle cx="314.11" cy="200.04" r="1.45" fill="#5fa8e3"/><circle cx="308.89" cy="200.82" r="1.45" fill="#5fa8e3"/><circle cx="312.81" cy="197.02" r="1.45" fill="#5fa8e3"/><circle cx="307.58" cy="201.33" r="1.45" fill="#5fa8e3"/><circle cx="310.19" cy="195.64" r="1.45" fill="#5fa8e3"/><circle cx="315.42" cy="195.64" r="1.45" fill="#5fa8e3"/><circle cx="311.50" cy="203.36" r="1.45" fill="#5fa8e3"/><circle cx="314.11" cy="203.48" r="1.45" fill="#5fa8e3"/><circle cx="308.89" cy="204.79" r="1.45" fill="#5fa8e3"/><circle cx="311.50" cy="193.20" r="1.45" fill="#5fa8e3"/><circle cx="308.89" cy="205.40" r="1.45" fill="#5fa8e3"/><line x1="311.50" y1="195.00" x2="311.50" y2="203.00" stroke="#0d0d0d" stroke-width="0.85"/><line x1="309.00" y1="195.00" x2="314.00" y2="195.00" stroke="#0d0d0d" stroke-width="0.85"/><line x1="309.00" y1="203.00" x2="314.00" y2="203.00" stroke="#0d0d0d" stroke-width="0.85"/><line x1="306.60" y1="199.00" x2="316.40" y2="199.00" stroke="#0d0d0d" stroke-width="0.9774999999999999"/><rect x="325.15" y="194.03" width="2.90" height="2.90" fill="#5fa8e3"/><rect x="327.76" y="192.85" width="2.90" height="2.90" fill="#5fa8e3"/><rect x="322.54" y="194.74" width="2.90" height="2.90" fill="#5fa8e3"/><rect x="327.76" y="195.59" width="2.90" height="2.90" fill="#5fa8e3"/><rect x="325.15" y="195.75" width="2.90" height="2.90" fill="#5fa8e3"/><rect x="325.15" y="190.61" width="2.90" height="2.90" fill="#5fa8e3"/><rect x="326.46" y="198.12" width="2.90" height="2.90" fill="#5fa8e3"/><rect x="323.85" y="199.19" width="2.90" height="2.90" fill="#5fa8e3"/><rect x="325.15" y="187.77" width="2.90" height="2.90" fill="#5fa8e3"/><rect x="327.76" y="186.49" width="2.90" height="2.90" fill="#5fa8e3"/><rect x="322.54" y="185.95" width="2.90" height="2.90" fill="#5fa8e3"/><rect x="326.46" y="201.15" width="2.90" height="2.90" fill="#5fa8e3"/><line x1="326.60" y1="189.60" x2="326.60" y2="200.60" stroke="#0d0d0d" stroke-width="0.85"/><line x1="324.10" y1="189.60" x2="329.10" y2="189.60" stroke="#0d0d0d" stroke-width="0.85"/><line x1="324.10" y1="200.60" x2="329.10" y2="200.60" stroke="#0d0d0d" stroke-width="0.85"/><line x1="321.70" y1="195.00" x2="331.50" y2="195.00" stroke="#0d0d0d" stroke-width="0.9774999999999999"/><path d="M340.18 195.47L343.22 195.47L341.70 192.61Z" fill="#5fa8e3"/><path d="M342.79 195.37L345.83 195.37L344.31 192.51Z" fill="#5fa8e3"/><path d="M337.57 196.18L340.61 196.18L339.09 193.32Z" fill="#5fa8e3"/><path d="M338.87 196.36L341.92 196.36L340.39 193.50Z" fill="#5fa8e3"/><path d="M337.57 194.96L340.61 194.96L339.09 192.09Z" fill="#5fa8e3"/><path d="M341.48 194.51L344.53 194.51L343.00 191.65Z" fill="#5fa8e3"/><path d="M336.26 194.30L339.31 194.30L337.78 191.44Z" fill="#5fa8e3"/><path d="M342.79 194.25L345.83 194.25L344.31 191.39Z" fill="#5fa8e3"/><path d="M341.48 194.15L344.53 194.15L343.00 191.29Z" fill="#5fa8e3"/><path d="M342.79 193.77L345.83 193.77L344.31 190.91Z" fill="#5fa8e3"/><path d="M340.18 193.39L343.22 193.39L341.70 190.53Z" fill="#5fa8e3"/><path d="M341.48 198.05L344.53 198.05L343.00 195.19Z" fill="#5fa8e3"/><path d="M337.57 192.21L340.61 192.21L339.09 189.35Z" fill="#5fa8e3"/><path d="M344.09 191.56L347.14 191.56L345.62 188.70Z" fill="#5fa8e3"/><path d="M340.18 190.61L343.22 190.61L341.70 187.74Z" fill="#5fa8e3"/><path d="M336.26 190.17L339.31 190.17L337.78 187.31Z" fill="#5fa8e3"/><path d="M342.79 189.76L345.83 189.76L344.31 186.90Z" fill="#5fa8e3"/><path d="M342.79 189.43L345.83 189.43L344.31 186.57Z" fill="#5fa8e3"/><path d="M338.87 189.34L341.92 189.34L340.39 186.48Z" fill="#5fa8e3"/><path d="M340.18 189.30L343.22 189.30L341.70 186.44Z" fill="#5fa8e3"/><path d="M340.18 202.82L343.22 202.82L341.70 199.96Z" fill="#5fa8e3"/><path d="M342.79 204.06L345.83 204.06L344.31 201.19Z" fill="#5fa8e3"/><path d="M341.48 187.28L344.53 187.28L343.00 184.42Z" fill="#5fa8e3"/><path d="M340.18 184.80L343.22 184.80L341.70 181.93Z" fill="#5fa8e3"/><path d="M342.79 184.68L345.83 184.68L344.31 181.82Z" fill="#5fa8e3"/><path d="M337.57 184.48L340.61 184.48L339.09 181.62Z" fill="#5fa8e3"/><line x1="341.70" y1="189.00" x2="341.70" y2="199.40" stroke="#0d0d0d" stroke-width="0.85"/><line x1="339.20" y1="189.00" x2="344.20" y2="189.00" stroke="#0d0d0d" stroke-width="0.85"/><line x1="339.20" y1="199.40" x2="344.20" y2="199.40" stroke="#0d0d0d" stroke-width="0.85"/><line x1="336.80" y1="194.40" x2="346.60" y2="194.40" stroke="#0d0d0d" stroke-width="0.9774999999999999"/><path d="M355.28 187.23L358.32 187.23L356.80 190.09Z" fill="#5fa8e3"/><path d="M356.58 189.33L359.63 189.33L358.11 192.19Z" fill="#5fa8e3"/><path d="M355.28 182.80L358.32 182.80L356.80 185.66Z" fill="#5fa8e3"/><path d="M357.89 182.21L360.93 182.21L359.41 185.07Z" fill="#5fa8e3"/><path d="M352.67 182.14L355.71 182.14L354.19 185.00Z" fill="#5fa8e3"/><path d="M357.89 181.90L360.93 181.90L359.41 184.77Z" fill="#5fa8e3"/><path d="M356.58 181.66L359.63 181.66L358.11 184.52Z" fill="#5fa8e3"/><path d="M355.28 193.11L358.32 193.11L356.80 195.97Z" fill="#5fa8e3"/><path d="M357.89 194.75L360.93 194.75L359.41 197.61Z" fill="#5fa8e3"/><path d="M355.28 195.72L358.32 195.72L356.80 198.58Z" fill="#5fa8e3"/><path d="M352.67 195.99L355.71 195.99L354.19 198.85Z" fill="#5fa8e3"/><path d="M355.28 177.86L358.32 177.86L356.80 180.73Z" fill="#5fa8e3"/><path d="M355.28 199.56L358.32 199.56L356.80 202.43Z" fill="#5fa8e3"/><path d="M355.28 173.12L358.32 173.12L356.80 175.98Z" fill="#5fa8e3"/><path d="M357.89 172.32L360.93 172.32L359.41 175.18Z" fill="#5fa8e3"/><path d="M352.67 171.52L355.71 171.52L354.19 174.38Z" fill="#5fa8e3"/><path d="M359.19 171.12L362.24 171.12L360.72 173.98Z" fill="#5fa8e3"/><path d="M355.28 170.52L358.32 170.52L356.80 173.38Z" fill="#5fa8e3"/><line x1="356.80" y1="178.00" x2="356.80" y2="199.40" stroke="#0d0d0d" stroke-width="0.85"/><line x1="354.30" y1="178.00" x2="359.30" y2="178.00" stroke="#0d0d0d" stroke-width="0.85"/><line x1="354.30" y1="199.40" x2="359.30" y2="199.40" stroke="#0d0d0d" stroke-width="0.85"/><line x1="351.90" y1="188.60" x2="361.70" y2="188.60" stroke="#0d0d0d" stroke-width="0.9774999999999999"/><circle cx="371.90" cy="198.89" r="1.45" fill="#e08d18"/><circle cx="374.51" cy="199.27" r="1.45" fill="#e08d18"/><circle cx="369.29" cy="198.68" r="1.45" fill="#e08d18"/><circle cx="370.59" cy="199.59" r="1.45" fill="#e08d18"/><circle cx="370.59" cy="198.37" r="1.45" fill="#e08d18"/><circle cx="371.90" cy="198.32" r="1.45" fill="#e08d18"/><circle cx="367.98" cy="200.12" r="1.45" fill="#e08d18"/><circle cx="373.20" cy="197.67" r="1.45" fill="#e08d18"/><circle cx="370.59" cy="197.62" r="1.45" fill="#e08d18"/><circle cx="367.98" cy="200.76" r="1.45" fill="#e08d18"/><circle cx="373.20" cy="200.91" r="1.45" fill="#e08d18"/><circle cx="375.81" cy="197.04" r="1.45" fill="#e08d18"/><circle cx="367.98" cy="201.13" r="1.45" fill="#e08d18"/><circle cx="367.98" cy="196.46" r="1.45" fill="#e08d18"/><circle cx="374.51" cy="196.40" r="1.45" fill="#e08d18"/><circle cx="371.90" cy="194.84" r="1.45" fill="#e08d18"/><circle cx="371.90" cy="203.63" r="1.45" fill="#e08d18"/><circle cx="374.51" cy="203.79" r="1.45" fill="#e08d18"/><circle cx="369.29" cy="204.53" r="1.45" fill="#e08d18"/><circle cx="367.98" cy="205.67" r="1.45" fill="#e08d18"/><circle cx="371.90" cy="207.00" r="1.45" fill="#e08d18"/><circle cx="371.90" cy="188.60" r="1.45" fill="#e08d18"/><line x1="371.90" y1="195.00" x2="371.90" y2="203.00" stroke="#0d0d0d" stroke-width="0.85"/><line x1="369.40" y1="195.00" x2="374.40" y2="195.00" stroke="#0d0d0d" stroke-width="0.85"/><line x1="369.40" y1="203.00" x2="374.40" y2="203.00" stroke="#0d0d0d" stroke-width="0.85"/><line x1="367.00" y1="199.00" x2="376.80" y2="199.00" stroke="#0d0d0d" stroke-width="0.9774999999999999"/><rect x="385.55" y="192.32" width="2.90" height="2.90" fill="#e08d18"/><rect x="388.16" y="191.57" width="2.90" height="2.90" fill="#e08d18"/><rect x="382.94" y="193.54" width="2.90" height="2.90" fill="#e08d18"/><rect x="389.47" y="193.85" width="2.90" height="2.90" fill="#e08d18"/><rect x="384.25" y="194.25" width="2.90" height="2.90" fill="#e08d18"/><rect x="382.94" y="190.39" width="2.90" height="2.90" fill="#e08d18"/><rect x="382.94" y="189.99" width="2.90" height="2.90" fill="#e08d18"/><rect x="385.55" y="189.61" width="2.90" height="2.90" fill="#e08d18"/><rect x="389.47" y="189.50" width="2.90" height="2.90" fill="#e08d18"/><rect x="388.16" y="188.58" width="2.90" height="2.90" fill="#e08d18"/><rect x="385.55" y="196.55" width="2.90" height="2.90" fill="#e08d18"/><rect x="388.16" y="196.76" width="2.90" height="2.90" fill="#e08d18"/><rect x="381.63" y="187.86" width="2.90" height="2.90" fill="#e08d18"/><rect x="382.94" y="197.85" width="2.90" height="2.90" fill="#e08d18"/><rect x="385.55" y="186.36" width="2.90" height="2.90" fill="#e08d18"/><rect x="388.16" y="185.31" width="2.90" height="2.90" fill="#e08d18"/><rect x="385.55" y="200.97" width="2.90" height="2.90" fill="#e08d18"/><rect x="388.16" y="202.28" width="2.90" height="2.90" fill="#e08d18"/><rect x="384.25" y="203.13" width="2.90" height="2.90" fill="#e08d18"/><rect x="385.55" y="181.55" width="2.90" height="2.90" fill="#e08d18"/><rect x="381.63" y="204.18" width="2.90" height="2.90" fill="#e08d18"/><rect x="386.86" y="204.55" width="2.90" height="2.90" fill="#e08d18"/><rect x="385.55" y="176.35" width="2.90" height="2.90" fill="#e08d18"/><rect x="388.16" y="175.95" width="2.90" height="2.90" fill="#e08d18"/><line x1="387.00" y1="186.40" x2="387.00" y2="202.00" stroke="#0d0d0d" stroke-width="0.85"/><line x1="384.50" y1="186.40" x2="389.50" y2="186.40" stroke="#0d0d0d" stroke-width="0.85"/><line x1="384.50" y1="202.00" x2="389.50" y2="202.00" stroke="#0d0d0d" stroke-width="0.85"/><line x1="382.10" y1="194.00" x2="391.90" y2="194.00" stroke="#0d0d0d" stroke-width="0.9774999999999999"/><path d="M400.58 200.79L403.62 200.79L402.10 197.92Z" fill="#e08d18"/><path d="M403.19 201.20L406.23 201.20L404.71 198.33Z" fill="#e08d18"/><path d="M397.97 201.46L401.01 201.46L399.49 198.60Z" fill="#e08d18"/><path d="M399.27 201.51L402.32 201.51L400.80 198.65Z" fill="#e08d18"/><path d="M403.19 199.61L406.23 199.61L404.71 196.75Z" fill="#e08d18"/><path d="M397.97 202.14L401.01 202.14L399.49 199.28Z" fill="#e08d18"/><path d="M397.97 198.94L401.01 198.94L399.49 196.08Z" fill="#e08d18"/><path d="M404.49 202.83L407.54 202.83L406.02 199.97Z" fill="#e08d18"/><path d="M401.88 203.19L404.93 203.19L403.41 200.33Z" fill="#e08d18"/><path d="M399.27 203.24L402.32 203.24L400.80 200.38Z" fill="#e08d18"/><path d="M399.27 203.38L402.32 203.38L400.80 200.52Z" fill="#e08d18"/><path d="M400.58 191.88L403.62 191.88L402.10 189.02Z" fill="#e08d18"/><line x1="402.10" y1="196.60" x2="402.10" y2="203.00" stroke="#0d0d0d" stroke-width="0.85"/><line x1="399.60" y1="196.60" x2="404.60" y2="196.60" stroke="#0d0d0d" stroke-width="0.85"/><line x1="399.60" y1="203.00" x2="404.60" y2="203.00" stroke="#0d0d0d" stroke-width="0.85"/><line x1="397.20" y1="199.40" x2="407.00" y2="199.40" stroke="#0d0d0d" stroke-width="0.9774999999999999"/><path d="M415.68 194.71L418.72 194.71L417.20 197.58Z" fill="#e08d18"/><path d="M418.29 193.73L421.33 193.73L419.81 196.59Z" fill="#e08d18"/><path d="M413.07 193.68L416.11 193.68L414.59 196.54Z" fill="#e08d18"/><path d="M418.29 195.10L421.33 195.10L419.81 197.96Z" fill="#e08d18"/><path d="M416.98 193.45L420.03 193.45L418.50 196.32Z" fill="#e08d18"/><path d="M415.68 193.04L418.72 193.04L417.20 195.90Z" fill="#e08d18"/><path d="M411.76 195.71L414.81 195.71L413.28 198.57Z" fill="#e08d18"/><path d="M415.68 192.92L418.72 192.92L417.20 195.78Z" fill="#e08d18"/><path d="M419.59 195.98L422.64 195.98L421.12 198.84Z" fill="#e08d18"/><path d="M411.76 192.66L414.81 192.66L413.28 195.52Z" fill="#e08d18"/><path d="M415.68 198.55L418.72 198.55L417.20 201.41Z" fill="#e08d18"/><path d="M415.68 189.52L418.72 189.52L417.20 192.38Z" fill="#e08d18"/><path d="M418.29 189.05L421.33 189.05L419.81 191.92Z" fill="#e08d18"/><path d="M418.29 200.11L421.33 200.11L419.81 202.98Z" fill="#e08d18"/><path d="M413.07 200.55L416.11 200.55L414.59 203.41Z" fill="#e08d18"/><path d="M413.07 187.71L416.11 187.71L414.59 190.58Z" fill="#e08d18"/><path d="M415.68 201.77L418.72 201.77L417.20 204.63Z" fill="#e08d18"/><path d="M415.68 186.74L418.72 186.74L417.20 189.60Z" fill="#e08d18"/><path d="M418.29 203.75L421.33 203.75L419.81 206.61Z" fill="#e08d18"/><path d="M415.68 183.87L418.72 183.87L417.20 186.73Z" fill="#e08d18"/><path d="M418.29 182.08L421.33 182.08L419.81 184.95Z" fill="#e08d18"/><path d="M414.37 181.50L417.42 181.50L415.89 184.36Z" fill="#e08d18"/><path d="M415.68 178.12L418.72 178.12L417.20 180.98Z" fill="#e08d18"/><path d="M418.29 176.57L421.33 176.57L419.81 179.43Z" fill="#e08d18"/><path d="M415.68 174.72L418.72 174.72L417.20 177.58Z" fill="#e08d18"/><path d="M415.68 169.92L418.72 169.92L417.20 172.78Z" fill="#e08d18"/><path d="M415.68 167.43L418.72 167.43L417.20 170.29Z" fill="#e08d18"/><path d="M415.68 160.32L418.72 160.32L417.20 163.18Z" fill="#e08d18"/><line x1="417.20" y1="186.40" x2="417.20" y2="205.00" stroke="#0d0d0d" stroke-width="0.85"/><line x1="414.70" y1="186.40" x2="419.70" y2="186.40" stroke="#0d0d0d" stroke-width="0.85"/><line x1="414.70" y1="205.00" x2="419.70" y2="205.00" stroke="#0d0d0d" stroke-width="0.85"/><line x1="412.30" y1="195.60" x2="422.10" y2="195.60" stroke="#0d0d0d" stroke-width="0.9774999999999999"/><circle cx="432.30" cy="191.67" r="1.45" fill="#213c7c"/><circle cx="434.91" cy="190.72" r="1.45" fill="#213c7c"/><circle cx="429.69" cy="190.45" r="1.45" fill="#213c7c"/><circle cx="432.30" cy="194.54" r="1.45" fill="#213c7c"/><circle cx="432.30" cy="197.37" r="1.45" fill="#213c7c"/><circle cx="434.91" cy="197.93" r="1.45" fill="#213c7c"/><circle cx="432.30" cy="186.45" r="1.45" fill="#213c7c"/><circle cx="433.61" cy="184.40" r="1.45" fill="#213c7c"/><circle cx="431.00" cy="183.20" r="1.45" fill="#213c7c"/><line x1="432.30" y1="185.00" x2="432.30" y2="199.40" stroke="#0d0d0d" stroke-width="0.85"/><line x1="429.80" y1="185.00" x2="434.80" y2="185.00" stroke="#0d0d0d" stroke-width="0.85"/><line x1="429.80" y1="199.40" x2="434.80" y2="199.40" stroke="#0d0d0d" stroke-width="0.85"/><line x1="427.40" y1="192.40" x2="437.20" y2="192.40" stroke="#0d0d0d" stroke-width="0.9774999999999999"/><rect x="445.95" y="178.85" width="2.90" height="2.90" fill="#213c7c"/><rect x="448.56" y="179.54" width="2.90" height="2.90" fill="#213c7c"/><rect x="448.56" y="176.92" width="2.90" height="2.90" fill="#213c7c"/><rect x="445.95" y="181.69" width="2.90" height="2.90" fill="#213c7c"/><rect x="443.34" y="181.81" width="2.90" height="2.90" fill="#213c7c"/><rect x="448.56" y="183.38" width="2.90" height="2.90" fill="#213c7c"/><rect x="449.87" y="183.64" width="2.90" height="2.90" fill="#213c7c"/><rect x="445.95" y="184.15" width="2.90" height="2.90" fill="#213c7c"/><rect x="445.95" y="172.76" width="2.90" height="2.90" fill="#213c7c"/><rect x="448.56" y="172.62" width="2.90" height="2.90" fill="#213c7c"/><rect x="443.34" y="172.59" width="2.90" height="2.90" fill="#213c7c"/><rect x="448.56" y="172.17" width="2.90" height="2.90" fill="#213c7c"/><rect x="447.25" y="172.05" width="2.90" height="2.90" fill="#213c7c"/><rect x="444.64" y="171.54" width="2.90" height="2.90" fill="#213c7c"/><rect x="443.34" y="185.69" width="2.90" height="2.90" fill="#213c7c"/><rect x="449.87" y="171.40" width="2.90" height="2.90" fill="#213c7c"/><rect x="442.03" y="169.91" width="2.90" height="2.90" fill="#213c7c"/><rect x="445.95" y="188.18" width="2.90" height="2.90" fill="#213c7c"/><rect x="448.56" y="189.91" width="2.90" height="2.90" fill="#213c7c"/><rect x="445.95" y="166.76" width="2.90" height="2.90" fill="#213c7c"/><rect x="445.95" y="191.66" width="2.90" height="2.90" fill="#213c7c"/><rect x="445.95" y="163.51" width="2.90" height="2.90" fill="#213c7c"/><rect x="445.95" y="196.09" width="2.90" height="2.90" fill="#213c7c"/><rect x="445.95" y="160.55" width="2.90" height="2.90" fill="#213c7c"/><rect x="448.56" y="159.57" width="2.90" height="2.90" fill="#213c7c"/><rect x="443.34" y="159.31" width="2.90" height="2.90" fill="#213c7c"/><rect x="443.34" y="158.95" width="2.90" height="2.90" fill="#213c7c"/><rect x="445.95" y="153.55" width="2.90" height="2.90" fill="#213c7c"/><rect x="447.25" y="151.15" width="2.90" height="2.90" fill="#213c7c"/><rect x="444.64" y="150.75" width="2.90" height="2.90" fill="#213c7c"/><line x1="447.40" y1="165.40" x2="447.40" y2="194.40" stroke="#0d0d0d" stroke-width="0.85"/><line x1="444.90" y1="165.40" x2="449.90" y2="165.40" stroke="#0d0d0d" stroke-width="0.85"/><line x1="444.90" y1="194.40" x2="449.90" y2="194.40" stroke="#0d0d0d" stroke-width="0.85"/><line x1="442.50" y1="180.00" x2="452.30" y2="180.00" stroke="#0d0d0d" stroke-width="0.9774999999999999"/><path d="M460.98 192.04L464.02 192.04L462.50 189.18Z" fill="#213c7c"/><path d="M462.28 189.99L465.33 189.99L463.81 187.13Z" fill="#213c7c"/><path d="M459.67 189.92L462.72 189.92L461.19 187.06Z" fill="#213c7c"/><path d="M463.59 192.81L466.63 192.81L465.11 189.94Z" fill="#213c7c"/><path d="M464.89 189.56L467.94 189.56L466.42 186.70Z" fill="#213c7c"/><path d="M457.06 189.44L460.11 189.44L458.58 186.57Z" fill="#213c7c"/><path d="M464.89 189.07L467.94 189.07L466.42 186.21Z" fill="#213c7c"/><path d="M458.37 193.92L461.41 193.92L459.89 191.06Z" fill="#213c7c"/><path d="M460.98 187.57L464.02 187.57L462.50 184.71Z" fill="#213c7c"/><path d="M460.98 195.11L464.02 195.11L462.50 192.25Z" fill="#213c7c"/><path d="M463.59 195.75L466.63 195.75L465.11 192.89Z" fill="#213c7c"/><path d="M457.06 196.08L460.11 196.08L458.58 193.22Z" fill="#213c7c"/><path d="M463.59 186.32L466.63 186.32L465.11 183.46Z" fill="#213c7c"/><path d="M460.98 198.00L464.02 198.00L462.50 195.14Z" fill="#213c7c"/><path d="M460.98 184.37L464.02 184.37L462.50 181.50Z" fill="#213c7c"/><path d="M458.37 184.19L461.41 184.19L459.89 181.33Z" fill="#213c7c"/><path d="M464.89 184.15L467.94 184.15L466.42 181.29Z" fill="#213c7c"/><path d="M462.28 183.90L465.33 183.90L463.81 181.03Z" fill="#213c7c"/><path d="M463.59 199.16L466.63 199.16L465.11 196.30Z" fill="#213c7c"/><path d="M463.59 183.25L466.63 183.25L465.11 180.39Z" fill="#213c7c"/><path d="M459.67 182.99L462.72 182.99L461.19 180.12Z" fill="#213c7c"/><path d="M460.98 182.74L464.02 182.74L462.50 179.88Z" fill="#213c7c"/><path d="M463.59 182.71L466.63 182.71L465.11 179.85Z" fill="#213c7c"/><path d="M457.06 182.69L460.11 182.69L458.58 179.82Z" fill="#213c7c"/><path d="M458.37 199.95L461.41 199.95L459.89 197.08Z" fill="#213c7c"/><path d="M460.98 179.90L464.02 179.90L462.50 177.03Z" fill="#213c7c"/><path d="M460.98 203.28L464.02 203.28L462.50 200.42Z" fill="#213c7c"/><path d="M463.59 178.01L466.63 178.01L465.11 175.15Z" fill="#213c7c"/><path d="M460.98 174.88L464.02 174.88L462.50 172.02Z" fill="#213c7c"/><path d="M463.59 174.28L466.63 174.28L465.11 171.42Z" fill="#213c7c"/><line x1="462.50" y1="182.00" x2="462.50" y2="197.40" stroke="#0d0d0d" stroke-width="0.85"/><line x1="460.00" y1="182.00" x2="465.00" y2="182.00" stroke="#0d0d0d" stroke-width="0.85"/><line x1="460.00" y1="197.40" x2="465.00" y2="197.40" stroke="#0d0d0d" stroke-width="0.85"/><line x1="457.60" y1="190.00" x2="467.40" y2="190.00" stroke="#0d0d0d" stroke-width="0.9774999999999999"/><path d="M476.08 186.66L479.12 186.66L477.60 189.53Z" fill="#213c7c"/><path d="M477.38 188.96L480.43 188.96L478.91 191.82Z" fill="#213c7c"/><path d="M476.08 183.25L479.12 183.25L477.60 186.11Z" fill="#213c7c"/><path d="M478.69 183.18L481.73 183.18L480.21 186.04Z" fill="#213c7c"/><path d="M474.77 189.80L477.82 189.80L476.30 192.66Z" fill="#213c7c"/><path d="M473.47 182.47L476.51 182.47L474.99 185.33Z" fill="#213c7c"/><path d="M479.99 190.43L483.04 190.43L481.52 193.29Z" fill="#213c7c"/><path d="M472.16 191.18L475.21 191.18L473.69 194.04Z" fill="#213c7c"/><path d="M476.08 179.29L479.12 179.29L477.60 182.15Z" fill="#213c7c"/><path d="M478.69 178.69L481.73 178.69L480.21 181.55Z" fill="#213c7c"/><path d="M476.08 194.46L479.12 194.46L477.60 197.32Z" fill="#213c7c"/><path d="M473.47 177.86L476.51 177.86L474.99 180.73Z" fill="#213c7c"/><path d="M476.08 175.82L479.12 175.82L477.60 178.69Z" fill="#213c7c"/><path d="M476.08 197.89L479.12 197.89L477.60 200.75Z" fill="#213c7c"/><path d="M478.69 199.72L481.73 199.72L480.21 202.58Z" fill="#213c7c"/><path d="M476.08 170.32L479.12 170.32L477.60 173.18Z" fill="#213c7c"/><path d="M476.08 167.24L479.12 167.24L477.60 170.10Z" fill="#213c7c"/><path d="M478.69 165.34L481.73 165.34L480.21 168.20Z" fill="#213c7c"/><path d="M476.08 152.12L479.12 152.12L477.60 154.98Z" fill="#213c7c"/><line x1="477.60" y1="175.40" x2="477.60" y2="200.00" stroke="#0d0d0d" stroke-width="0.85"/><line x1="475.10" y1="175.40" x2="480.10" y2="175.40" stroke="#0d0d0d" stroke-width="0.85"/><line x1="475.10" y1="200.00" x2="480.10" y2="200.00" stroke="#0d0d0d" stroke-width="0.85"/><line x1="472.70" y1="187.60" x2="482.50" y2="187.60" stroke="#0d0d0d" stroke-width="0.9774999999999999"/><circle cx="447.40" cy="146" r="0.5" fill="#213c7c"/><text x="6.80" y="275.10" font-size="10.6" text-anchor="start" fill="#000" font-weight="bold" textLength="8.00" lengthAdjust="spacingAndGlyphs" >C</text><text x="39.20" y="304.70" font-size="6.4" text-anchor="end" fill="#0c0c0c" textLength="32.00" lengthAdjust="spacingAndGlyphs" >CD19 CAR</text><text x="39.20" y="349.70" font-size="6.4" text-anchor="end" fill="#0c0c0c" textLength="32.00" lengthAdjust="spacingAndGlyphs" >CD20 CAR</text><text x="39.20" y="397.30" font-size="6.4" text-anchor="end" fill="#0c0c0c" textLength="26.60" lengthAdjust="spacingAndGlyphs" >TanCAR7</text><g transform="translate(42.15 278.45)"><rect width="43.9" height="43.3" fill="#000"/><g clip-path="url(#cc)"><g filter="url(#b2)"><path d="M15.8 39.5C11 38 8 35.5 5.8 32.5C3.5 29 2.2 25 1.8 20.5C1.5 16 2 12 2.8 8.5C4 5.5 6 3.5 8.8 2.5" fill="none" stroke="#b01010" stroke-width="2.6" opacity="0.7"/><path d="M24.6 1.2C26.6 4.5 28 8 28.8 10.5C30 15 31 18 32.8 20.5" fill="none" stroke="#c81410" stroke-width="3.4" opacity="0.8"/><path d="M40.8 40.8C36 41.6 30 41.6 25.8 41.2C21 41 18 40.5 15.8 39.5" fill="none" stroke="#c01210" stroke-width="2.6" opacity="0.75"/><ellipse cx="31" cy="34" rx="7" ry="4.5" fill="#3a0404" opacity="0.55"/></g><g filter="url(#b15)"><path d="M32.8 20.5C36 24 39 24.5 40.8 26.5C43 30 43.3 34 42.6 37.5C42 40 41.5 40.5 40.8 40.8" fill="none" stroke="#f01a12" stroke-width="3" opacity="0.95"/><path d="M39 29C42 31 42.6 35 42 39L38.5 40.5C39.6 36 39.6 32 39 29Z" fill="#ff1a10" opacity="0.85"/><circle cx="35.8" cy="35" r="1.1" fill="#e01810" opacity="0.9"/><circle cx="30.8" cy="39.2" r="1.1" fill="#e01810" opacity="0.9"/><circle cx="26.5" cy="41" r="1.1" fill="#e01810" opacity="0.9"/></g><g transform="translate(13.3 18.8) rotate(-13)"><g filter="url(#b2)"><path d="M10.8 0.0L10.3 2.0L9.8 3.8L9.2 5.5L8.7 7.2L8.2 9.0L7.5 10.8L6.6 12.4L5.5 13.7L4.2 14.6L2.8 15.0L1.4 15.2L0.0 15.3L-1.4 15.3L-2.8 15.2L-4.3 15.0L-5.8 14.3L-7.0 13.2L-8.1 11.6L-8.9 9.8L-9.5 7.9L-10.1 6.0L-10.5 4.0L-10.9 2.1L-11.1 0.0L-11.0 -2.1L-10.7 -4.1L-10.0 -5.9L-9.2 -7.6L-8.2 -9.0L-7.3 -10.4L-6.3 -11.8L-5.2 -13.0L-4.1 -14.2L-2.8 -15.0L-1.4 -15.6L-0.0 -15.7L1.4 -15.5L2.8 -15.1L4.2 -14.4L5.5 -13.7L6.8 -12.7L8.1 -11.6L9.2 -10.2L10.2 -8.4L10.9 -6.4L11.2 -4.3L11.2 -2.1Z" fill="#10108e"/></g><g filter="url(#b0)"><path d="M8.4 -1.5h0M-5.3 3.5h0M0.8 8.1h0M-0.2 -13.5h0M-0.5 -13.2h0M-0.0 -5.3h0M8.0 2.1h0M2.5 1.8h0M0.4 -4.4h0M-6.0 -7.8h0M-5.6 0.3h0M-5.9 -2.1h0M7.4 -2.1h0M3.9 -0.4h0M5.8 -3.8h0M6.1 -6.9h0M5.6 2.9h0M0.4 6.1h0M3.5 -7.0h0M-3.0 -1.4h0M-2.2 -6.8h0M2.2 -11.2h0M-3.6 -5.5h0M7.2 -1.0h0M-1.5 13.3h0M-4.2 6.9h0M7.1 -1.1h0M4.6 10.0h0M-5.1 10.6h0M-4.0 -6.7h0M1.9 -4.6h0" stroke="#2222c8" stroke-width="1.12" stroke-linecap="round" opacity="0.30" fill="none"/><path d="M0.8 -12.1h0M4.9 -2.9h0M1.3 -3.4h0M-8.3 0.8h0M0.3 -12.3h0M4.6 -1.6h0M0.3 -8.5h0M-5.7 -5.3h0M2.3 6.4h0M-0.5 11.5h0M9.5 -1.9h0M2.8 10.9h0M7.5 -2.1h0M-5.8 9.8h0M6.2 -2.0h0M-2.8 -8.4h0M1.3 -7.9h0M5.8 -8.7h0M4.5 8.9h0M-5.1 -6.1h0M-4.0 12.6h0M7.2 5.8h0M9.5 -3.5h0M-7.2 -5.3h0M-1.5 -0.9h0M-4.5 1.4h0M-2.5 -0.8h0M2.8 -6.2h0" stroke="#2222c8" stroke-width="1.88" stroke-linecap="round" opacity="0.40" fill="none"/><path d="M7.8 2.1h0M3.8 -10.2h0M-5.4 -1.1h0M-1.8 8.1h0M-0.4 -0.4h0M-1.3 1.2h0M5.0 4.6h0M7.6 6.3h0M0.3 4.2h0M-1.3 -3.4h0M-8.0 -1.2h0M-0.7 -0.8h0M5.7 7.3h0M0.6 13.1h0M3.4 -1.8h0M-2.5 0.7h0M2.8 -12.8h0M-0.4 -12.9h0M-2.5 -10.1h0" stroke="#2222c8" stroke-width="1.62" stroke-linecap="round" opacity="0.50" fill="none"/><path d="M3.7 -11.9h0M-0.5 -13.5h0M1.2 8.0h0M2.5 -3.4h0M3.0 -1.9h0M-4.2 -7.4h0M-5.9 7.4h0M-4.2 2.2h0M-7.9 6.1h0M0.5 -5.1h0M7.2 -7.5h0M0.3 4.1h0M-1.2 11.4h0M2.7 10.2h0M5.3 -4.7h0M3.8 1.8h0M2.3 -2.6h0M-4.2 -10.4h0M-4.5 5.4h0M3.6 -0.8h0M7.1 5.6h0M-1.9 -8.9h0M2.1 7.0h0M1.3 -0.1h0M-7.1 5.3h0M-8.1 0.9h0M2.7 10.1h0M-6.8 3.1h0M-5.5 -4.5h0M8.6 -6.7h0M6.8 -6.7h0M1.6 3.9h0" stroke="#2222c8" stroke-width="1.38" stroke-linecap="round" opacity="0.60" fill="none"/><path d="M-5.0 4.1h0M4.4 11.8h0M5.5 7.3h0M1.2 -2.5h0M7.0 -2.4h0M9.2 -2.8h0M3.3 8.5h0M-7.6 7.1h0M3.7 1.6h0M-1.0 -2.5h0M0.4 0.4h0M-9.6 -1.4h0M-1.3 -0.9h0M-6.9 4.2h0M-1.0 12.5h0" stroke="#07075c" stroke-width="1.01" stroke-linecap="round" opacity="0.45" fill="none"/><path d="M3.4 1.6h0M4.5 8.3h0M-7.5 5.4h0M-2.4 -8.0h0M0.1 -1.1h0M-4.9 6.0h0M0.5 -5.6h0M0.6 -10.8h0M-6.3 -5.9h0M-4.7 -7.8h0M3.2 -2.3h0M-2.1 8.8h0M2.6 10.0h0M7.2 -5.1h0M-5.9 7.1h0M-1.1 2.8h0M0.2 10.5h0M-2.5 7.5h0M5.4 -11.0h0M9.2 -5.5h0M-6.8 6.3h0M-4.4 6.1h0" stroke="#07075c" stroke-width="1.69" stroke-linecap="round" opacity="0.55" fill="none"/><path d="M-6.2 -1.5h0M-4.1 4.0h0M3.6 7.2h0M-6.9 0.4h0M-6.4 7.1h0M2.2 -0.6h0M-7.2 3.8h0M2.7 7.4h0M4.9 -5.1h0M1.8 6.0h0M-3.2 -6.3h0M4.8 -1.9h0M-3.7 5.5h0M5.5 -9.9h0M2.8 7.8h0M-7.2 9.1h0M5.7 9.0h0M-2.5 1.1h0M4.0 -8.0h0" stroke="#07075c" stroke-width="1.46" stroke-linecap="round" opacity="0.65" fill="none"/><path d="M5.2 -8.8h0M9.5 -6.2h0M-9.2 -0.4h0M4.3 11.4h0M1.9 -5.0h0M7.9 -8.7h0M4.8 1.1h0M-3.3 -12.8h0M5.2 9.3h0M2.8 -9.5h0M9.0 -1.9h0M2.4 6.3h0M-1.8 -1.5h0M-5.7 7.8h0M4.8 5.1h0M7.1 -3.1h0M-5.3 4.1h0M-4.4 -10.3h0M-1.2 3.9h0M5.9 -2.6h0M4.9 7.8h0M-4.6 11.8h0M-5.4 -2.9h0M-4.3 -8.3h0" stroke="#07075c" stroke-width="1.24" stroke-linecap="round" opacity="0.75" fill="none"/></g></g><g filter="url(#b1)"><ellipse cx="24.7" cy="29" rx="3.2" ry="5.2" fill="#2a8a10" opacity="0.3"/><rect x="22.9" y="26.8" width="3.6" height="5.8" rx="1.2" fill="#6af03a"/></g><rect x="36.90" y="2.40" width="5.8" height="0.8" fill="#b8b8b8"/></g></g><g transform="translate(42.15 323.7)"><rect width="43.9" height="43.3" fill="#000"/><g clip-path="url(#cc)"><g filter="url(#b3)"><rect x="0" y="4" width="43.9" height="40" fill="#5a0606" opacity="0.42"/><ellipse cx="22" cy="37" rx="22" ry="6" fill="#a00c08" opacity="0.55"/></g><g filter="url(#b2)"><ellipse cx="6.8" cy="35.5" rx="2" ry="3.5" fill="#ff1a10" opacity="0.95"/><ellipse cx="30.8" cy="36.5" rx="2" ry="3.5" fill="#ff1a10" opacity="1"/><ellipse cx="36.8" cy="29.2" rx="1.3" ry="3" fill="#ff1a10" opacity="0.8"/><ellipse cx="32.3" cy="32.5" rx="1.2" ry="2.6" fill="#ff1a10" opacity="0.8"/><ellipse cx="23.8" cy="6" rx="1.2" ry="4" fill="#ff1a10" opacity="0.55"/><ellipse cx="10.8" cy="12.5" rx="1" ry="3.5" fill="#ff1a10" opacity="0.5"/><ellipse cx="32" cy="15" rx="1" ry="3" fill="#ff1a10" opacity="0.4"/><ellipse cx="36.5" cy="38" rx="1" ry="2.4" fill="#ff1a10" opacity="0.7"/><ellipse cx="12" cy="38.5" rx="2" ry="2.4" fill="#ff1a10" opacity="0.7"/><ellipse cx="1" cy="37" rx="1.2" ry="2.4" fill="#ff1a10" opacity="0.8"/><ellipse cx="18" cy="39" rx="2" ry="2" fill="#ff1a10" opacity="0.6"/><ellipse cx="26" cy="39" rx="2" ry="2" fill="#ff1a10" opacity="0.6"/></g><g transform="translate(17.2 26.6) rotate(0)"><g filter="url(#b2)"><path d="M11.4 0.0L11.3 1.9L10.8 3.7L9.9 5.3L8.9 6.7L7.9 7.8L6.9 8.9L6.0 10.0L5.0 11.1L3.9 12.1L2.6 12.8L1.3 13.2L0.0 13.4L-1.4 13.5L-2.8 13.4L-4.2 13.1L-5.6 12.5L-6.8 11.5L-7.8 10.1L-8.5 8.4L-9.1 6.8L-9.7 5.2L-10.3 3.6L-10.8 1.8L-11.2 0.0L-11.1 -1.9L-10.6 -3.7L-9.8 -5.2L-8.8 -6.5L-7.8 -7.7L-6.9 -8.9L-6.1 -10.3L-5.2 -11.6L-4.1 -12.8L-2.8 -13.6L-1.4 -13.9L-0.0 -13.8L1.4 -13.4L2.7 -12.8L3.9 -12.3L5.2 -11.6L6.4 -10.8L7.5 -9.7L8.5 -8.4L9.3 -6.9L10.1 -5.4L10.7 -3.7L11.2 -1.9Z" fill="#10108e"/></g><g filter="url(#b0)"><path d="M-1.7 8.3h0M-5.8 9.2h0M1.6 9.9h0M4.5 0.2h0M-4.8 -7.8h0M-3.9 2.4h0M1.9 -6.3h0M-3.6 -1.2h0M9.9 -1.0h0M-1.6 9.7h0M0.8 8.2h0M-6.6 0.1h0M4.4 -4.6h0M0.3 4.3h0M2.3 2.3h0M-9.5 -1.9h0M-1.0 9.8h0M0.0 1.0h0M3.8 -0.2h0M0.8 -9.8h0M-3.4 8.3h0M-3.8 11.0h0M4.7 -9.5h0" stroke="#2222c8" stroke-width="1.12" stroke-linecap="round" opacity="0.30" fill="none"/><path d="M-8.1 4.0h0M-4.4 -9.3h0M-1.9 1.7h0M-7.5 1.1h0M-1.2 -10.8h0M9.1 4.0h0M-4.5 -4.5h0M-7.3 3.0h0M-0.5 -4.6h0M-4.3 -10.2h0M-0.9 9.2h0M-6.8 2.3h0M1.4 0.1h0M-5.8 3.2h0M-4.1 -3.6h0M0.4 -1.8h0M-8.3 -1.1h0M-7.6 0.3h0M-1.7 -11.2h0M-2.8 -1.3h0M-3.9 -4.8h0M-3.3 5.6h0M1.5 4.4h0M2.6 0.2h0M-7.6 -2.1h0M2.1 -4.1h0M-2.8 6.0h0M3.9 -3.2h0M1.6 -5.2h0M-3.2 0.2h0M-7.1 1.8h0M-8.3 4.0h0M-2.2 -8.0h0M0.4 -9.7h0" stroke="#2222c8" stroke-width="1.88" stroke-linecap="round" opacity="0.40" fill="none"/><path d="M-1.6 -5.0h0M1.9 10.7h0M-3.5 -4.7h0M-5.7 -2.8h0M5.5 -3.7h0M8.3 0.9h0M-5.8 5.8h0M-2.0 3.3h0M-3.4 2.7h0M-4.9 0.6h0M-8.3 1.9h0M-6.1 8.5h0M2.0 -2.2h0M-0.4 8.9h0M-8.9 -2.2h0M0.5 1.6h0M1.1 -10.0h0M2.3 1.4h0M-8.1 -3.6h0M1.2 5.7h0M2.5 -1.7h0M5.0 -2.9h0" stroke="#2222c8" stroke-width="1.62" stroke-linecap="round" opacity="0.50" fill="none"/><path d="M-6.9 3.1h0M9.8 0.9h0M-1.1 6.3h0M-3.5 6.6h0M-3.8 6.6h0M-3.3 -9.9h0M3.4 0.6h0M-1.1 -3.9h0M-6.9 -5.7h0M-2.1 9.7h0M-6.8 -6.0h0M3.9 -9.4h0M0.3 8.5h0M9.1 -3.2h0M-2.4 -7.8h0M-4.9 -0.1h0M5.4 -1.9h0M0.5 -9.6h0M-5.3 -5.2h0M1.8 0.6h0M-5.8 8.7h0M0.5 10.1h0M1.0 -4.8h0M4.1 -4.1h0M-2.6 -11.2h0M1.4 -5.5h0M5.5 6.2h0M-8.3 -1.3h0M4.5 -3.1h0M-3.4 11.5h0M-6.9 -5.6h0" stroke="#2222c8" stroke-width="1.38" stroke-linecap="round" opacity="0.60" fill="none"/><path d="M-4.5 -7.5h0M-7.3 -1.4h0M-3.1 -9.4h0M1.7 -8.4h0M-1.2 -2.3h0M2.2 -8.6h0M-5.8 -0.2h0M-3.8 -9.4h0M3.8 5.8h0M-8.6 -3.6h0M-1.1 4.1h0M5.2 -7.4h0M4.4 7.3h0M-6.5 0.5h0M10.2 -0.5h0M-3.3 -3.5h0M3.6 -2.9h0M-4.1 1.6h0M1.1 7.5h0M7.7 0.0h0M3.9 7.5h0" stroke="#07075c" stroke-width="1.01" stroke-linecap="round" opacity="0.45" fill="none"/><path d="M2.5 -1.8h0M8.5 2.8h0M-2.5 1.1h0M8.1 -6.4h0M2.0 4.4h0M-2.3 -9.3h0M1.2 1.0h0M-5.4 3.4h0M-0.3 1.9h0M7.3 -7.0h0M1.9 -6.4h0M4.6 -9.5h0M0.5 7.7h0M1.1 -3.8h0M-7.5 -2.8h0M1.7 -1.4h0M-3.8 11.0h0M2.2 -11.1h0" stroke="#07075c" stroke-width="1.69" stroke-linecap="round" opacity="0.55" fill="none"/><path d="M-3.1 -9.2h0M5.7 -3.8h0M6.7 -1.6h0M-5.6 -8.1h0M3.0 3.5h0M-6.5 1.9h0M3.0 -3.2h0M7.1 5.8h0M4.1 4.7h0M1.6 -3.8h0M-7.1 2.9h0M-0.5 1.3h0M5.1 -5.6h0M0.8 6.4h0M-5.7 -5.4h0M-8.9 -1.7h0" stroke="#07075c" stroke-width="1.46" stroke-linecap="round" opacity="0.65" fill="none"/><path d="M-4.0 4.2h0M-4.0 -0.2h0M-7.5 7.4h0M-1.1 -5.8h0M-6.6 3.4h0M-1.2 -7.9h0M6.4 2.7h0M3.1 -5.9h0M-4.1 -6.7h0M-8.5 3.9h0M-4.1 1.1h0M-3.2 -6.8h0M4.4 6.1h0M-6.4 -2.8h0M-7.6 -4.0h0M4.3 9.4h0M3.4 2.4h0M-2.8 2.5h0M0.4 -2.1h0M4.3 6.8h0M1.2 -1.4h0M3.8 1.3h0M6.3 -6.0h0M-1.8 -11.8h0M5.7 -6.0h0" stroke="#07075c" stroke-width="1.24" stroke-linecap="round" opacity="0.75" fill="none"/></g></g><g filter="url(#b1)"><ellipse cx="25.8" cy="22.8" rx="1.3" ry="3.1" fill="#52cc30" transform="rotate(-12 25.8 22.8)"/><ellipse cx="26" cy="24" rx="3" ry="6" fill="#2a8a10" opacity="0.3"/></g><rect x="36.40" y="2.20" width="6.2" height="0.8" fill="#e0e0e0"/></g></g><g transform="translate(42.15 369.0)"><rect width="43.9" height="43.6" fill="#000"/><g clip-path="url(#cc)"><g filter="url(#b2)"><path d="M4 36C7 28 11 20 16 15.5C20 12 26 11 30 14C35 18 38 26 40.5 35" fill="none" stroke="#a8380f" stroke-width="2.6" opacity="0.45"/><path d="M1 38C3 33 6 31.5 9 33.5C12 37 18 38.5 22 39C26 39 28 37 31 35C35 33 40 33 42.5 36.5L43 44H1Z" fill="#d81c10" opacity="0.8"/><ellipse cx="34.5" cy="37.8" rx="6" ry="3.2" fill="#ff2a14" opacity="0.9"/><ellipse cx="7.5" cy="36" rx="3.6" ry="4" fill="#ff2a14" opacity="0.9"/></g><g filter="url(#b1)"><path d="M31.2 37.5L32.0 32.8M13.3 38.4L13.5 35.6M18.7 38.6L18.3 34.2M13.3 34.3L12.9 31.2M29.4 37.7L30.2 32.8M25.7 38.2L26.1 35.4M27.8 35.3L28.6 32.0M41.1 35.2L40.6 31.2" stroke="#e83010" stroke-width="0.63" stroke-linecap="round" opacity="0.54" fill="none"/><path d="M3.2 36.2L3.0 32.2M6.2 35.5L5.7 31.6M19.1 35.8L19.3 31.7M28.0 37.9L28.5 34.5M6.0 37.9L6.6 33.8" stroke="#e83010" stroke-width="1.35" stroke-linecap="round" opacity="0.31" fill="none"/><path d="M16.2 38.4L15.8 34.0M22.5 38.4L22.2 36.0M14.8 37.6L15.1 33.5M33.4 35.6L33.7 30.8M15.3 38.3L15.7 35.0M14.5 34.3L15.1 30.2M6.7 37.3L7.0 33.5M16.3 38.0L16.2 34.0M14.4 35.3L14.9 31.9" stroke="#e83010" stroke-width="0.99" stroke-linecap="round" opacity="0.42" fill="none"/></g><g transform="translate(22.3 26.8) rotate(0)"><g filter="url(#b2)"><path d="M13.3 0.0L13.0 1.4L12.4 2.8L11.5 4.0L10.5 5.1L9.3 6.0L8.2 6.9L7.1 7.8L6.0 8.7L4.8 9.7L3.3 10.4L1.7 10.9L0.0 11.0L-1.7 10.8L-3.3 10.4L-4.9 9.8L-6.3 9.1L-7.7 8.4L-9.0 7.5L-10.2 6.5L-11.2 5.4L-12.0 4.2L-12.5 2.8L-12.8 1.4L-12.7 0.0L-12.4 -1.4L-11.9 -2.7L-11.3 -3.9L-10.6 -5.1L-9.8 -6.3L-8.9 -7.5L-7.9 -8.6L-6.6 -9.6L-5.1 -10.3L-3.4 -10.6L-1.7 -10.6L-0.0 -10.3L1.6 -9.9L3.0 -9.5L4.5 -9.2L6.1 -8.8L7.7 -8.4L9.2 -7.7L10.5 -6.7L11.6 -5.6L12.4 -4.3L12.9 -2.9L13.2 -1.5Z" fill="#10108e"/></g><g filter="url(#b0)"><path d="M1.3 -6.8h0M-9.1 -4.2h0M-2.1 0.8h0M-7.1 -0.5h0M-3.7 8.3h0M-3.6 -1.4h0M0.7 -8.1h0M2.1 -4.2h0M6.1 6.3h0M5.3 5.1h0M2.2 -3.6h0M2.9 5.7h0M9.3 3.4h0M3.8 -6.9h0M5.3 1.8h0M3.6 -4.0h0M-0.4 -3.6h0M4.0 2.5h0M2.3 5.1h0M0.9 -2.2h0M-4.8 8.1h0M3.1 -0.8h0" stroke="#2222c8" stroke-width="1.12" stroke-linecap="round" opacity="0.30" fill="none"/><path d="M5.9 -4.0h0M-3.7 -3.3h0M3.1 -1.7h0M4.0 3.1h0M9.3 3.0h0M0.7 7.8h0M-5.5 -2.1h0M-0.1 -3.1h0M0.7 -0.5h0M2.5 -2.8h0M8.8 1.0h0M-5.4 -7.5h0M-4.2 1.3h0M2.1 3.4h0M-8.1 -5.2h0M-8.4 -5.7h0M2.2 5.3h0M8.0 -4.7h0M9.1 3.4h0M7.6 1.7h0M3.9 -4.5h0M4.3 4.5h0M-5.1 1.9h0M7.1 -0.0h0M-3.5 3.9h0M3.4 -1.2h0M7.4 -3.3h0M-1.5 -3.4h0M-0.4 3.8h0M-2.2 2.5h0M-9.0 -1.6h0M1.3 8.4h0" stroke="#2222c8" stroke-width="1.88" stroke-linecap="round" opacity="0.40" fill="none"/><path d="M-3.2 -2.3h0M-1.4 8.2h0M4.3 7.2h0M0.7 -1.4h0M-3.8 -6.4h0M5.7 0.9h0M-0.2 -1.3h0M0.6 3.4h0M-6.4 -6.9h0M8.4 4.5h0M0.5 -5.3h0M2.1 3.5h0M-10.6 0.7h0M2.9 5.5h0M2.6 1.9h0M1.7 2.2h0M-10.5 2.1h0M-4.2 -5.1h0M-4.4 2.8h0M9.0 1.4h0M0.3 -1.4h0M2.1 4.4h0M11.3 -1.1h0M4.8 2.0h0M7.3 -5.2h0M1.5 -6.8h0M-2.8 -9.3h0" stroke="#2222c8" stroke-width="1.62" stroke-linecap="round" opacity="0.50" fill="none"/><path d="M-3.6 5.0h0M4.4 -4.9h0M1.1 -1.0h0M-5.3 6.2h0M0.8 3.3h0M10.0 -4.2h0M9.5 0.1h0M-4.1 7.2h0M-2.8 8.8h0M-4.8 7.9h0M2.0 -5.2h0M-7.2 -1.6h0M-0.9 -8.1h0M1.9 -0.3h0M-0.7 -6.1h0M-8.3 2.9h0M2.1 3.7h0M3.0 -7.4h0M3.0 7.5h0M-6.3 -2.2h0M-1.3 -4.4h0M0.5 5.2h0M-10.5 -1.3h0M-0.6 2.2h0M-8.9 2.8h0M6.5 -2.0h0M-3.8 6.4h0M-8.2 0.0h0M-6.0 -4.4h0" stroke="#2222c8" stroke-width="1.38" stroke-linecap="round" opacity="0.60" fill="none"/><path d="M-7.5 -4.8h0M6.0 -4.9h0M6.9 0.8h0M4.9 -7.4h0M-2.7 -5.5h0M2.2 3.0h0M9.6 2.2h0M1.5 8.2h0M-3.3 0.4h0M-8.8 3.0h0M9.7 3.8h0M-1.5 7.8h0M-2.7 6.0h0M-3.0 -5.9h0M5.5 -3.9h0M0.4 1.7h0M-1.5 -8.6h0M8.6 -3.0h0M-6.1 6.8h0M2.8 2.6h0" stroke="#07075c" stroke-width="1.01" stroke-linecap="round" opacity="0.45" fill="none"/><path d="M-4.8 -1.1h0M-0.3 -4.9h0M2.9 -2.5h0M-1.8 -1.8h0M7.4 -7.0h0M8.2 -1.2h0M-8.9 1.3h0M-8.7 -2.8h0M1.7 -2.1h0M-9.0 1.5h0M-2.7 9.1h0M2.8 -8.0h0M8.7 2.4h0M6.0 3.8h0M6.3 2.9h0M-6.2 -2.3h0M-0.8 0.4h0M-4.6 4.1h0M-1.3 -1.6h0M-0.1 4.3h0M2.6 -8.0h0M8.6 5.2h0M3.2 -3.7h0M-10.7 1.0h0M-2.6 -3.1h0M2.4 -8.3h0" stroke="#07075c" stroke-width="1.69" stroke-linecap="round" opacity="0.55" fill="none"/><path d="M-4.6 -2.4h0M6.4 5.1h0M0.5 1.5h0M4.5 1.0h0M8.4 1.7h0M7.5 -3.8h0M6.9 1.6h0M-3.5 3.3h0M3.8 1.8h0M-6.7 2.7h0M3.1 7.9h0M1.1 -0.5h0M10.9 1.3h0M-6.0 6.1h0M0.1 6.2h0M7.2 1.3h0" stroke="#07075c" stroke-width="1.46" stroke-linecap="round" opacity="0.65" fill="none"/><path d="M-9.3 1.7h0M-1.7 0.7h0M6.0 -0.7h0M-1.9 -8.1h0M3.2 1.6h0M-3.6 -8.9h0M2.1 0.5h0M-0.8 -3.2h0M-9.7 2.7h0M-7.3 -1.7h0M3.3 -6.2h0M-2.0 -7.4h0M-0.6 -7.7h0M-2.9 5.2h0M9.2 4.0h0M9.7 -3.0h0M4.1 -3.5h0M5.8 -6.6h0" stroke="#07075c" stroke-width="1.24" stroke-linecap="round" opacity="0.75" fill="none"/></g></g><g filter="url(#b1)"><ellipse cx="19.6" cy="37" rx="1.7" ry="2.2" fill="#78f03a"/></g><rect x="36.90" y="2.40" width="5.8" height="0.8" fill="#a8a8a8"/></g></g><line x1="118.60" y1="296.40" x2="118.60" y2="389.60" stroke="#0d0d0d" stroke-width="1.4"/><line x1="118.00" y1="389.00" x2="247.00" y2="389.00" stroke="#0d0d0d" stroke-width="1.4"/><line x1="115.20" y1="299.00" x2="118.60" y2="299.00" stroke="#0d0d0d" stroke-width="0.9"/><text x="112.60" y="301.30" font-size="6.5" text-anchor="end" fill="#0c0c0c" >8</text><line x1="115.20" y1="321.60" x2="118.60" y2="321.60" stroke="#0d0d0d" stroke-width="0.9"/><text x="112.60" y="323.90" font-size="6.5" text-anchor="end" fill="#0c0c0c" >6</text><line x1="115.20" y1="344.20" x2="118.60" y2="344.20" stroke="#0d0d0d" stroke-width="0.9"/><text x="112.60" y="346.50" font-size="6.5" text-anchor="end" fill="#0c0c0c" >4</text><line x1="115.20" y1="366.70" x2="118.60" y2="366.70" stroke="#0d0d0d" stroke-width="0.9"/><text x="112.60" y="369.00" font-size="6.5" text-anchor="end" fill="#0c0c0c" >2</text><line x1="115.20" y1="389.20" x2="118.60" y2="389.20" stroke="#0d0d0d" stroke-width="0.9"/><text x="112.60" y="391.50" font-size="6.5" text-anchor="end" fill="#0c0c0c" >0</text><text x="102.60" y="342.50" font-size="8.2" text-anchor="middle" fill="#0c0c0c" textLength="96.00" lengthAdjust="spacingAndGlyphs" transform="rotate(-90 102.60 342.50)" >MTOC to synapse distance (μm)</text><line x1="144.00" y1="389.00" x2="144.00" y2="392.20" stroke="#0d0d0d" stroke-width="0.9"/><text x="144.00" y="400.70" font-size="6.9" text-anchor="middle" fill="#0c0c0c" textLength="17.40" lengthAdjust="spacingAndGlyphs" >10min</text><line x1="182.40" y1="389.00" x2="182.40" y2="392.20" stroke="#0d0d0d" stroke-width="0.9"/><text x="182.40" y="400.70" font-size="6.9" text-anchor="middle" fill="#0c0c0c" textLength="17.40" lengthAdjust="spacingAndGlyphs" >10min</text><line x1="220.60" y1="389.00" x2="220.60" y2="392.20" stroke="#0d0d0d" stroke-width="0.9"/><text x="220.60" y="400.70" font-size="6.9" text-anchor="middle" fill="#0c0c0c" textLength="17.40" lengthAdjust="spacingAndGlyphs" >10min</text><text x="144.00" y="411.20" font-size="6.1" text-anchor="middle" fill="#6aaee4" textLength="32.20" lengthAdjust="spacingAndGlyphs" >CD19 CAR</text><text x="182.30" y="411.20" font-size="6.1" text-anchor="middle" fill="#e2962a" textLength="32.00" lengthAdjust="spacingAndGlyphs" >CD20 CAR</text><text x="221.00" y="411.20" font-size="6.1" text-anchor="middle" fill="#2c4a8a" textLength="26.40" lengthAdjust="spacingAndGlyphs" >TanCAR7</text><circle cx="144.00" cy="332.00" r="1.75" fill="#5fa8e3"/><circle cx="146.60" cy="336.40" r="1.75" fill="#5fa8e3"/><circle cx="141.00" cy="340.60" r="1.75" fill="#5fa8e3"/><circle cx="138.60" cy="349.40" r="1.75" fill="#5fa8e3"/><circle cx="149.60" cy="348.60" r="1.75" fill="#5fa8e3"/><circle cx="144.00" cy="353.60" r="1.75" fill="#5fa8e3"/><circle cx="152.40" cy="356.00" r="1.75" fill="#5fa8e3"/><circle cx="135.60" cy="357.40" r="1.75" fill="#5fa8e3"/><circle cx="133.60" cy="361.40" r="1.75" fill="#5fa8e3"/><circle cx="154.40" cy="361.00" r="1.75" fill="#5fa8e3"/><circle cx="143.60" cy="360.60" r="1.75" fill="#5fa8e3"/><circle cx="148.00" cy="358.60" r="1.75" fill="#5fa8e3"/><circle cx="139.00" cy="364.00" r="1.75" fill="#5fa8e3"/><circle cx="150.00" cy="364.00" r="1.75" fill="#5fa8e3"/><circle cx="144.00" cy="365.40" r="1.75" fill="#5fa8e3"/><circle cx="133.60" cy="367.40" r="1.75" fill="#5fa8e3"/><circle cx="154.40" cy="368.60" r="1.75" fill="#5fa8e3"/><circle cx="139.60" cy="368.60" r="1.75" fill="#5fa8e3"/><circle cx="149.00" cy="370.00" r="1.75" fill="#5fa8e3"/><circle cx="144.00" cy="372.60" r="1.75" fill="#5fa8e3"/><rect x="185.95" y="324.35" width="3.30" height="3.30" fill="#e08d18"/><rect x="175.35" y="326.35" width="3.30" height="3.30" fill="#e08d18"/><rect x="180.75" y="328.35" width="3.30" height="3.30" fill="#e08d18"/><rect x="180.75" y="333.35" width="3.30" height="3.30" fill="#e08d18"/><rect x="185.95" y="335.35" width="3.30" height="3.30" fill="#e08d18"/><rect x="175.35" y="336.35" width="3.30" height="3.30" fill="#e08d18"/><rect x="170.35" y="342.35" width="3.30" height="3.30" fill="#e08d18"/><rect x="190.75" y="344.35" width="3.30" height="3.30" fill="#e08d18"/><rect x="175.35" y="346.35" width="3.30" height="3.30" fill="#e08d18"/><rect x="185.95" y="347.35" width="3.30" height="3.30" fill="#e08d18"/><rect x="180.75" y="347.75" width="3.30" height="3.30" fill="#e08d18"/><rect x="170.35" y="350.35" width="3.30" height="3.30" fill="#e08d18"/><rect x="191.35" y="351.35" width="3.30" height="3.30" fill="#e08d18"/><rect x="174.35" y="353.75" width="3.30" height="3.30" fill="#e08d18"/><rect x="178.75" y="355.35" width="3.30" height="3.30" fill="#e08d18"/><rect x="183.35" y="354.95" width="3.30" height="3.30" fill="#e08d18"/><rect x="187.75" y="354.35" width="3.30" height="3.30" fill="#e08d18"/><rect x="170.35" y="357.35" width="3.30" height="3.30" fill="#e08d18"/><rect x="190.75" y="357.75" width="3.30" height="3.30" fill="#e08d18"/><rect x="175.35" y="359.35" width="3.30" height="3.30" fill="#e08d18"/><rect x="185.95" y="360.35" width="3.30" height="3.30" fill="#e08d18"/><rect x="180.75" y="362.35" width="3.30" height="3.30" fill="#e08d18"/><rect x="175.35" y="366.95" width="3.30" height="3.30" fill="#e08d18"/><rect x="180.75" y="368.35" width="3.30" height="3.30" fill="#e08d18"/><rect x="185.95" y="366.35" width="3.30" height="3.30" fill="#e08d18"/><rect x="189.35" y="369.35" width="3.30" height="3.30" fill="#e08d18"/><rect x="172.35" y="370.75" width="3.30" height="3.30" fill="#e08d18"/><rect x="177.95" y="374.35" width="3.30" height="3.30" fill="#e08d18"/><rect x="183.35" y="373.35" width="3.30" height="3.30" fill="#e08d18"/><path d="M218.81 335.50L222.38 335.50L220.60 332.14Z" fill="#213c7c"/><path d="M216.22 341.50L219.78 341.50L218.00 338.14Z" fill="#213c7c"/><path d="M221.81 342.90L225.38 342.90L223.60 339.54Z" fill="#213c7c"/><path d="M213.81 355.50L217.38 355.50L215.60 352.14Z" fill="#213c7c"/><path d="M224.22 356.50L227.78 356.50L226.00 353.14Z" fill="#213c7c"/><path d="M211.22 360.90L214.78 360.90L213.00 357.54Z" fill="#213c7c"/><path d="M227.22 362.50L230.78 362.50L229.00 359.14Z" fill="#213c7c"/><path d="M216.62 364.90L220.19 364.90L218.40 361.54Z" fill="#213c7c"/><path d="M221.81 364.90L225.38 364.90L223.60 361.54Z" fill="#213c7c"/><path d="M214.22 368.50L217.78 368.50L216.00 365.14Z" fill="#213c7c"/><path d="M208.22 372.90L211.78 372.90L210.00 369.54Z" fill="#213c7c"/><path d="M212.62 373.50L216.19 373.50L214.40 370.14Z" fill="#213c7c"/><path d="M225.22 373.90L228.78 373.90L227.00 370.54Z" fill="#213c7c"/><path d="M229.81 372.90L233.38 372.90L231.60 369.54Z" fill="#213c7c"/><path d="M219.22 371.50L222.78 371.50L221.00 368.14Z" fill="#213c7c"/><path d="M217.22 376.50L220.78 376.50L219.00 373.14Z" fill="#213c7c"/><path d="M208.22 380.50L211.78 380.50L210.00 377.14Z" fill="#213c7c"/><path d="M212.62 382.10L216.19 382.10L214.40 378.74Z" fill="#213c7c"/><path d="M217.22 383.50L220.78 383.50L219.00 380.14Z" fill="#213c7c"/><path d="M221.22 382.10L224.78 382.10L223.00 378.74Z" fill="#213c7c"/><path d="M225.22 381.50L228.78 381.50L227.00 378.14Z" fill="#213c7c"/><path d="M229.81 378.50L233.38 378.50L231.60 375.14Z" fill="#213c7c"/><path d="M222.22 368.90L225.78 368.90L224.00 365.54Z" fill="#213c7c"/><line x1="144.00" y1="346.40" x2="144.00" y2="369.40" stroke="#0d0d0d" stroke-width="0.9"/><line x1="138.00" y1="346.40" x2="150.00" y2="346.40" stroke="#0d0d0d" stroke-width="0.9"/><line x1="138.00" y1="369.40" x2="150.00" y2="369.40" stroke="#0d0d0d" stroke-width="0.9"/><line x1="131.40" y1="358.00" x2="156.60" y2="358.00" stroke="#0d0d0d" stroke-width="1.1"/><line x1="182.40" y1="339.40" x2="182.40" y2="367.40" stroke="#0d0d0d" stroke-width="0.9"/><line x1="176.40" y1="339.40" x2="188.40" y2="339.40" stroke="#0d0d0d" stroke-width="0.9"/><line x1="176.40" y1="367.40" x2="188.40" y2="367.40" stroke="#0d0d0d" stroke-width="0.9"/><line x1="169.80" y1="353.60" x2="195.00" y2="353.60" stroke="#0d0d0d" stroke-width="1.1"/><line x1="220.60" y1="352.00" x2="220.60" y2="378.40" stroke="#0d0d0d" stroke-width="0.9"/><line x1="214.60" y1="352.00" x2="226.60" y2="352.00" stroke="#0d0d0d" stroke-width="0.9"/><line x1="214.60" y1="378.40" x2="226.60" y2="378.40" stroke="#0d0d0d" stroke-width="0.9"/><line x1="208.00" y1="365.40" x2="233.20" y2="365.40" stroke="#0d0d0d" stroke-width="1.1"/><line x1="144.00" y1="310.40" x2="220.80" y2="310.40" stroke="#0d0d0d" stroke-width="1.25"/><line x1="182.40" y1="317.00" x2="220.80" y2="317.00" stroke="#0d0d0d" stroke-width="1.25"/><text x="182.40" y="310.20" font-size="4.5" text-anchor="middle" fill="#0c0c0c" >*</text><text x="201.60" y="317.00" font-size="4.5" text-anchor="middle" fill="#0c0c0c" >*</text><text x="270.60" y="274.70" font-size="10.6" text-anchor="start" fill="#000" font-weight="bold" textLength="8.00" lengthAdjust="spacingAndGlyphs" >D</text><line x1="303.75" y1="281.80" x2="303.75" y2="390.00" stroke="#0d0d0d" stroke-width="1.4"/><line x1="303.15" y1="389.40" x2="408.60" y2="389.40" stroke="#0d0d0d" stroke-width="1.4"/><line x1="300.40" y1="284.40" x2="303.75" y2="284.40" stroke="#0d0d0d" stroke-width="0.9"/><text x="298.30" y="286.70" font-size="6.5" text-anchor="end" fill="#0c0c0c" >10</text><line x1="300.40" y1="305.40" x2="303.75" y2="305.40" stroke="#0d0d0d" stroke-width="0.9"/><text x="298.30" y="307.70" font-size="6.5" text-anchor="end" fill="#0c0c0c" >8</text><line x1="300.40" y1="326.40" x2="303.75" y2="326.40" stroke="#0d0d0d" stroke-width="0.9"/><text x="298.30" y="328.70" font-size="6.5" text-anchor="end" fill="#0c0c0c" >6</text><line x1="300.40" y1="347.40" x2="303.75" y2="347.40" stroke="#0d0d0d" stroke-width="0.9"/><text x="298.30" y="349.70" font-size="6.5" text-anchor="end" fill="#0c0c0c" >4</text><line x1="300.40" y1="368.40" x2="303.75" y2="368.40" stroke="#0d0d0d" stroke-width="0.9"/><text x="298.30" y="370.70" font-size="6.5" text-anchor="end" fill="#0c0c0c" >2</text><line x1="300.40" y1="389.40" x2="303.75" y2="389.40" stroke="#0d0d0d" stroke-width="0.9"/><text x="298.30" y="391.70" font-size="6.5" text-anchor="end" fill="#0c0c0c" >0</text><line x1="304.20" y1="389.40" x2="304.20" y2="392.60" stroke="#0d0d0d" stroke-width="0.9"/><text x="304.20" y="401.40" font-size="6.5" text-anchor="middle" fill="#0c0c0c" >0</text><line x1="327.93" y1="389.40" x2="327.93" y2="392.60" stroke="#0d0d0d" stroke-width="0.9"/><text x="327.93" y="401.40" font-size="6.5" text-anchor="middle" fill="#0c0c0c" >50</text><line x1="351.65" y1="389.40" x2="351.65" y2="392.60" stroke="#0d0d0d" stroke-width="0.9"/><text x="351.65" y="401.40" font-size="6.5" text-anchor="middle" fill="#0c0c0c" >100</text><line x1="375.38" y1="389.40" x2="375.38" y2="392.60" stroke="#0d0d0d" stroke-width="0.9"/><text x="375.38" y="401.40" font-size="6.5" text-anchor="middle" fill="#0c0c0c" >150</text><line x1="399.10" y1="389.40" x2="399.10" y2="392.60" stroke="#0d0d0d" stroke-width="0.9"/><text x="399.10" y="401.40" font-size="6.5" text-anchor="middle" fill="#0c0c0c" >200</text><text x="284.80" y="335.50" font-size="8.2" text-anchor="middle" fill="#0c0c0c" textLength="70.00" lengthAdjust="spacingAndGlyphs" transform="rotate(-90 284.80 335.50)" >Fluo-4 FI fold change</text><text x="356.80" y="413.00" font-size="8.2" text-anchor="middle" fill="#0c0c0c" textLength="24.50" lengthAdjust="spacingAndGlyphs" >Time (s)</text><polyline points="304.2 378.4 304.6 378.4 305.0 378.9 305.3 379.2 305.7 379.3 306.1 378.9 306.5 379.3 306.9 379.4 307.2 378.8 307.6 378.9 308.0 378.7 308.4 379.2 308.8 378.9 309.1 378.9 309.5 379.5 309.9 378.7 310.3 378.8 310.7 378.0 311.0 378.8 311.4 379.0 311.8 378.4 312.2 378.8 312.6 378.6 312.9 379.0 313.3 378.8 313.7 378.5 314.1 378.6 314.4 378.9 314.8 379.3 315.2 378.7 315.6 378.9 316.0 378.6 316.3 378.8 316.7 378.5 317.1 378.9 317.5 378.8 317.9 378.7 318.2 379.3 318.6 379.0 319.0 379.1 319.4 378.2 319.8 378.9 320.1 378.7 320.5 378.7 320.9 379.0 321.3 379.5 321.7 378.5 322.0 379.0 322.4 378.6 322.8 379.4 323.2 379.1 323.6 378.4 323.9 378.4 324.3 379.4 324.7 379.4 325.1 378.9 325.5 378.6 325.8 378.8 326.2 378.8 326.6 379.3 327.0 378.7 327.4 378.5 327.7 379.1 328.1 379.4 328.5 379.2 328.9 378.6 329.3 379.5 329.6 378.9 330.0 379.3 330.4 378.9 330.8 379.0 331.2 378.9 331.5 378.3 331.9 378.7 332.3 378.4 332.7 379.0 333.0 379.1 333.4 378.8 333.8 379.9 334.2 378.9 334.6 378.8 334.9 379.4 335.3 378.7 335.7 379.1 336.1 379.8 336.5 379.0 336.8 379.3 337.2 379.1 337.6 379.0 338.0 378.4 338.4 378.9 338.7 378.9 339.1 378.8 339.5 379.6 339.9 378.4 340.3 379.3 340.6 378.7 341.0 379.3 341.4 379.3 341.8 379.0 342.2 378.2 342.5 378.6 342.9 379.1 343.3 379.0 343.7 379.3 344.1 378.9 344.4 379.1 344.8 378.6 345.2 379.4 345.6 379.0 346.0 379.2 346.3 379.2 346.7 378.6 347.1 378.9 347.5 378.7 347.9 378.5 348.2 378.5 348.6 379.4 349.0 378.7 349.4 379.5 349.8 378.9 350.1 378.2 350.5 379.0 350.9 379.0 351.3 378.8 351.6 378.9 352.0 378.9 352.4 379.2 352.8 378.5 353.2 378.6 353.5 379.0 353.9 378.8 354.3 378.7 354.7 378.5 355.1 378.8 355.4 378.6 355.8 379.0 356.2 379.3 356.6 379.1 357.0 378.5 357.3 378.5 357.7 378.8 358.1 379.1 358.5 378.8 358.9 378.3 359.2 378.4 359.6 379.2 360.0 378.9 360.4 379.4 360.8 379.3 361.1 378.8 361.5 378.9 361.9 378.5 362.3 378.4 362.7 378.6 363.0 378.4 363.4 379.1 363.8 379.3 364.2 378.7 364.6 377.9 364.9 378.8 365.3 379.3 365.7 378.8 366.1 378.4 366.5 379.3 366.8 378.6 367.2 379.1 367.6 378.4 368.0 378.6 368.4 378.8 368.7 378.2 369.1 379.1 369.5 379.2 369.9 378.2 370.3 379.2 370.6 378.1 371.0 378.9 371.4 379.3 371.8 378.9 372.1 378.9 372.5 378.8 372.9 379.0 373.3 378.5 373.7 379.8 374.0 379.1 374.4 379.0 374.8 378.2 375.2 379.6 375.6 379.0 375.9 379.3 376.3 379.1 376.7 378.7 377.1 378.7 377.5 378.4 377.8 379.1 378.2 378.8 378.6 378.5 379.0 378.6 379.4 379.0 379.7 378.5 380.1 379.2 380.5 378.2 380.9 378.8 381.3 378.9 381.6 378.8 382.0 378.6 382.4 378.3 382.8 379.0 383.2 379.0 383.5 378.7 383.9 379.2 384.3 379.5 384.7 378.6 385.1 379.0 385.4 378.5 385.8 379.3 386.2 380.0 386.6 378.8 387.0 378.8 387.3 378.3 387.7 378.7 388.1 378.8 388.5 378.7 388.9 379.0 389.2 378.9 389.6 379.4 390.0 378.7 390.4 379.2 390.7 379.1 391.1 378.6 391.5 378.6 391.9 379.3 392.3 378.2 392.6 379.1 393.0 378.6 393.4 378.6 393.8 378.8 394.2 378.8 394.5 378.2 394.9 378.6 395.3 378.7 395.7 379.6 396.1 379.2 396.4 378.5 396.8 378.8 397.2 379.3 397.6 379.1 398.0 379.0 398.3 378.6 398.7 378.8 399.1 378.5 399.5 379.2 399.9 378.5 400.2 379.1 400.6 379.0 401.0 378.3 401.4 378.9 401.8 379.0 402.1 379.0 402.5 379.0 402.9 378.3 403.3 378.4 403.7 378.6 404.0 378.8 404.4 378.5 404.8 378.9 405.2 378.7 405.6 378.8 405.9 378.9 406.3 378.3 406.7 378.3 407.1 378.4 407.5 379.6 407.8 378.2 408.2 378.6 408.6 379.1" fill="none" stroke="#b5183a" stroke-width="0.95" stroke-linejoin="round"/><polyline points="304.2 377.2 304.6 379.4 305.0 378.6 305.3 378.8 305.7 378.3 306.1 379.9 306.5 379.2 306.9 379.5 307.2 379.7 307.6 379.5 308.0 379.3 308.4 379.1 308.8 379.6 309.1 378.6 309.5 379.3 309.9 381.3 310.3 378.0 310.7 379.2 311.0 379.4 311.4 378.7 311.8 378.7 312.2 378.9 312.6 379.5 312.9 378.8 313.3 380.0 313.7 377.8 314.1 379.8 314.4 379.1 314.8 378.9 315.2 378.7 315.6 379.1 316.0 378.5 316.3 381.6 316.7 379.1 317.1 379.1 317.5 379.3 317.9 377.9 318.2 379.7 318.6 379.1 319.0 380.5 319.4 378.8 319.8 380.2 320.1 380.2 320.5 377.2 320.9 378.2 321.3 378.5 321.7 378.2 322.0 379.3 322.4 378.8 322.8 377.5 323.2 379.2 323.6 377.3 323.9 378.6 324.3 377.1 324.7 377.8 325.1 375.6 325.5 375.9 325.8 376.9 326.2 377.8 326.6 376.8 327.0 376.1 327.4 376.7 327.7 375.6 328.1 374.9 328.5 375.6 328.9 375.7 329.3 374.6 329.6 375.3 330.0 374.3 330.4 375.1 330.8 373.5 331.2 374.8 331.5 375.2 331.9 374.2 332.3 374.6 332.7 374.8 333.0 374.0 333.4 373.2 333.8 375.3 334.2 373.6 334.6 373.6 334.9 373.4 335.3 372.6 335.7 374.1 336.1 372.5 336.5 373.1 336.8 372.7 337.2 372.8 337.6 372.8 338.0 372.8 338.4 372.0 338.7 370.7 339.1 371.4 339.5 371.4 339.9 371.5 340.3 372.2 340.6 371.3 341.0 370.1 341.4 372.5 341.8 370.8 342.2 370.6 342.5 371.1 342.9 370.6 343.3 370.1 343.7 369.4 344.1 369.9 344.4 369.6 344.8 370.5 345.2 370.0 345.6 370.4 346.0 370.3 346.3 370.7 346.7 369.8 347.1 369.2 347.5 370.3 347.9 369.9 348.2 369.5 348.6 369.9 349.0 369.2 349.4 369.6 349.8 370.6 350.1 370.4 350.5 369.0 350.9 369.0 351.3 368.6 351.6 369.2 352.0 369.1 352.4 370.4 352.8 368.1 353.2 369.8 353.5 368.2 353.9 369.8 354.3 369.4 354.7 368.7 355.1 369.1 355.4 369.2 355.8 368.0 356.2 368.1 356.6 368.2 357.0 368.7 357.3 369.0 357.7 368.7 358.1 368.7 358.5 368.2 358.9 367.6 359.2 368.2 359.6 368.6 360.0 368.5 360.4 367.0 360.8 367.8 361.1 367.7 361.5 367.6 361.9 367.3 362.3 367.6 362.7 366.8 363.0 367.0 363.4 369.6 363.8 367.6 364.2 365.3 364.6 368.3 364.9 367.2 365.3 366.5 365.7 367.2 366.1 366.2 366.5 368.1 366.8 368.0 367.2 367.2 367.6 367.6 368.0 367.8 368.4 366.5 368.7 366.7 369.1 366.8 369.5 367.1 369.9 366.6 370.3 366.8 370.6 367.2 371.0 366.3 371.4 366.3 371.8 366.5 372.1 366.0 372.5 367.3 372.9 366.6 373.3 366.8 373.7 365.4 374.0 366.0 374.4 364.7 374.8 365.1 375.2 366.5 375.6 367.0 375.9 365.8 376.3 366.3 376.7 366.2 377.1 366.8 377.5 365.6 377.8 365.9 378.2 365.7 378.6 365.7 379.0 366.6 379.4 367.5 379.7 366.0 380.1 366.3 380.5 366.2 380.9 365.0 381.3 365.8 381.6 364.6 382.0 365.5 382.4 365.1 382.8 365.2 383.2 365.0 383.5 366.4 383.9 364.7 384.3 365.4 384.7 366.2 385.1 365.0 385.4 365.1 385.8 364.4 386.2 364.8 386.6 365.0 387.0 366.5 387.3 364.0 387.7 364.1 388.1 364.6 388.5 364.8 388.9 364.2 389.2 365.8 389.6 364.6 390.0 365.0 390.4 365.8 390.7 364.7 391.1 364.7 391.5 363.7 391.9 364.2 392.3 366.1 392.6 366.3 393.0 364.9 393.4 365.0 393.8 365.5 394.2 365.9 394.5 364.9 394.9 365.6 395.3 365.2 395.7 364.1 396.1 364.5 396.4 365.2 396.8 365.5 397.2 364.8 397.6 363.3 398.0 364.9 398.3 363.3 398.7 365.1 399.1 364.7 399.5 364.0 399.9 365.0 400.2 364.4 400.6 365.4 401.0 363.9 401.4 363.5 401.8 364.8 402.1 364.2 402.5 364.6 402.9 365.9 403.3 362.3 403.7 363.8 404.0 363.6 404.4 363.9 404.8 364.1 405.2 362.4 405.6 365.5 405.9 364.4 406.3 364.4 406.7 364.3 407.1 363.6 407.5 364.6 407.8 365.0 408.2 364.9 408.6 363.7" fill="none" stroke="#6db5ea" stroke-width="0.85" stroke-linejoin="round"/><polyline points="304.2 378.8 304.6 378.0 305.0 379.6 305.3 378.2 305.7 379.1 306.1 379.1 306.5 377.5 306.9 378.8 307.2 378.9 307.6 378.4 308.0 378.1 308.4 378.9 308.8 378.5 309.1 379.6 309.5 379.2 309.9 379.2 310.3 379.9 310.7 380.0 311.0 380.1 311.4 379.1 311.8 379.0 312.2 379.1 312.6 378.8 312.9 379.9 313.3 379.0 313.7 378.7 314.1 378.3 314.4 379.5 314.8 379.2 315.2 380.4 315.6 379.3 316.0 380.5 316.3 379.9 316.7 378.1 317.1 380.5 317.5 378.3 317.9 378.7 318.2 379.1 318.6 378.6 319.0 378.5 319.4 378.1 319.8 379.1 320.1 379.3 320.5 379.3 320.9 379.6 321.3 378.9 321.7 379.5 322.0 378.1 322.4 380.3 322.8 379.7 323.2 379.6 323.6 380.3 323.9 377.2 324.3 380.3 324.7 378.6 325.1 378.7 325.5 376.9 325.8 379.5 326.2 377.1 326.6 378.3 327.0 377.8 327.4 378.1 327.7 377.0 328.1 378.2 328.5 377.3 328.9 376.9 329.3 375.7 329.6 378.7 330.0 375.7 330.4 376.0 330.8 376.9 331.2 376.3 331.5 376.7 331.9 375.1 332.3 376.0 332.7 376.2 333.0 376.1 333.4 376.0 333.8 375.9 334.2 376.3 334.6 374.1 334.9 376.9 335.3 378.0 335.7 375.4 336.1 375.3 336.5 374.8 336.8 375.2 337.2 375.0 337.6 374.6 338.0 374.0 338.4 375.0 338.7 374.9 339.1 373.1 339.5 374.0 339.9 375.1 340.3 372.5 340.6 373.6 341.0 374.5 341.4 374.9 341.8 373.7 342.2 374.5 342.5 374.5 342.9 374.6 343.3 374.0 343.7 372.7 344.1 373.8 344.4 374.4 344.8 372.8 345.2 373.2 345.6 372.5 346.0 372.2 346.3 373.1 346.7 373.0 347.1 372.9 347.5 373.6 347.9 372.2 348.2 371.7 348.6 372.5 349.0 372.7 349.4 372.7 349.8 373.0 350.1 372.9 350.5 372.6 350.9 372.8 351.3 372.5 351.6 373.2 352.0 371.8 352.4 371.9 352.8 372.7 353.2 373.5 353.5 371.8 353.9 370.9 354.3 372.2 354.7 371.9 355.1 371.9 355.4 371.0 355.8 372.1 356.2 370.6 356.6 371.5 357.0 370.6 357.3 371.2 357.7 371.3 358.1 372.2 358.5 371.5 358.9 371.2 359.2 370.4 359.6 370.7 360.0 371.3 360.4 370.5 360.8 370.0 361.1 370.8 361.5 370.9 361.9 370.9 362.3 369.9 362.7 370.1 363.0 371.1 363.4 370.1 363.8 370.7 364.2 370.8 364.6 369.3 364.9 369.6 365.3 370.7 365.7 370.0 366.1 369.7 366.5 370.5 366.8 370.0 367.2 369.4 367.6 371.2 368.0 369.6 368.4 369.2 368.7 369.4 369.1 370.7 369.5 369.4 369.9 370.2 370.3 369.1 370.6 369.1 371.0 369.3 371.4 370.0 371.8 369.8 372.1 368.7 372.5 370.0 372.9 368.9 373.3 368.9 373.7 369.4 374.0 367.4 374.4 369.1 374.8 367.5 375.2 370.5 375.6 370.7 375.9 368.3 376.3 368.5 376.7 369.1 377.1 368.9 377.5 370.2 377.8 369.3 378.2 369.5 378.6 368.9 379.0 368.0 379.4 368.6 379.7 368.3 380.1 369.1 380.5 368.9 380.9 368.4 381.3 368.7 381.6 367.5 382.0 369.1 382.4 367.0 382.8 369.1 383.2 367.5 383.5 368.9 383.9 367.1 384.3 368.1 384.7 367.9 385.1 367.6 385.4 368.6 385.8 368.9 386.2 369.6 386.6 367.2 387.0 368.5 387.3 368.4 387.7 368.0 388.1 366.5 388.5 369.2 388.9 367.7 389.2 368.1 389.6 367.4 390.0 369.1 390.4 368.1 390.7 367.1 391.1 366.6 391.5 366.5 391.9 368.3 392.3 367.6 392.6 367.7 393.0 368.6 393.4 368.6 393.8 367.0 394.2 367.3 394.5 367.6 394.9 366.5 395.3 368.1 395.7 367.0 396.1 367.4 396.4 367.4 396.8 367.0 397.2 367.2 397.6 367.1 398.0 367.0 398.3 365.8 398.7 367.4 399.1 366.4 399.5 366.7 399.9 367.4 400.2 366.5 400.6 367.7 401.0 366.2 401.4 367.6 401.8 367.4 402.1 366.7 402.5 366.3 402.9 366.3 403.3 366.3 403.7 367.0 404.0 367.6 404.4 366.4 404.8 366.6 405.2 367.5 405.6 366.1 405.9 366.6 406.3 367.4 406.7 366.4 407.1 367.7 407.5 367.3 407.8 366.4 408.2 367.8 408.6 366.6" fill="none" stroke="#e69a1f" stroke-width="0.85" stroke-linejoin="round"/><polyline points="304.2 378.9 304.6 378.8 305.0 379.0 305.3 378.8 305.7 378.6 306.1 378.8 306.5 378.4 306.9 379.2 307.2 378.9 307.6 379.1 308.0 379.1 308.4 379.0 308.8 378.8 309.1 378.8 309.5 378.7 309.9 378.2 310.3 378.6 310.7 379.4 311.0 378.8 311.4 379.1 311.8 379.1 312.2 378.5 312.6 379.0 312.9 379.5 313.3 378.8 313.7 379.0 314.1 379.3 314.4 379.2 314.8 379.1 315.2 378.9 315.6 379.0 316.0 378.9 316.3 378.3 316.7 379.2 317.1 379.2 317.5 379.0 317.9 378.6 318.2 379.1 318.6 378.4 319.0 379.3 319.4 379.2 319.8 378.9 320.1 379.2 320.5 379.1 320.9 378.8 321.3 378.1 321.7 378.5 322.0 378.6 322.4 376.5 322.8 377.3 323.2 377.7 323.6 375.8 323.9 377.9 324.3 376.4 324.7 375.6 325.1 376.1 325.5 376.5 325.8 375.1 326.2 375.9 326.6 375.7 327.0 376.0 327.4 372.9 327.7 374.9 328.1 372.6 328.5 373.3 328.9 373.8 329.3 372.4 329.6 372.6 330.0 372.6 330.4 374.2 330.8 372.2 331.2 370.9 331.5 371.2 331.9 370.3 332.3 369.4 332.7 370.6 333.0 368.4 333.4 372.6 333.8 370.8 334.2 373.5 334.6 368.9 334.9 369.7 335.3 367.4 335.7 369.9 336.1 371.9 336.5 367.3 336.8 370.6 337.2 370.3 337.6 368.6 338.0 367.3 338.4 368.7 338.7 367.5 339.1 370.2 339.5 365.0 339.9 367.3 340.3 366.8 340.6 366.0 341.0 366.4 341.4 366.2 341.8 367.6 342.2 366.3 342.5 365.3 342.9 364.2 343.3 365.7 343.7 365.3 344.1 364.7 344.4 364.2 344.8 364.6 345.2 365.1 345.6 365.3 346.0 362.7 346.3 363.8 346.7 364.0 347.1 358.7 347.5 362.4 347.9 362.3 348.2 363.2 348.6 364.8 349.0 361.4 349.4 363.1 349.8 362.7 350.1 361.1 350.5 360.9 350.9 362.0 351.3 362.2 351.6 358.8 352.0 361.0 352.4 363.4 352.8 360.5 353.2 361.3 353.5 361.3 353.9 360.1 354.3 360.7 354.7 357.7 355.1 360.5 355.4 360.3 355.8 358.7 356.2 361.4 356.6 358.6 357.0 360.3 357.3 358.1 357.7 361.3 358.1 359.1 358.5 362.4 358.9 360.3 359.2 359.4 359.6 358.5 360.0 355.8 360.4 355.9 360.8 361.3 361.1 360.1 361.5 356.6 361.9 357.8 362.3 360.9 362.7 357.5 363.0 360.2 363.4 359.7 363.8 360.3 364.2 358.4 364.6 353.8 364.9 357.0 365.3 357.8 365.7 353.0 366.1 358.2 366.5 357.6 366.8 357.7 367.2 356.3 367.6 357.5 368.0 354.2 368.4 357.3 368.7 355.6 369.1 356.2 369.5 358.1 369.9 358.2 370.3 356.4 370.6 360.5 371.0 356.0 371.4 355.8 371.8 355.6 372.1 355.9 372.5 355.0 372.9 356.3 373.3 354.3 373.7 358.5 374.0 353.6 374.4 356.9 374.8 354.2 375.2 356.0 375.6 355.8 375.9 356.4 376.3 352.2 376.7 356.8 377.1 357.0 377.5 354.1 377.8 353.9 378.2 354.3 378.6 356.2 379.0 355.5 379.4 352.3 379.7 356.1 380.1 352.7 380.5 352.4 380.9 353.5 381.3 356.2 381.6 349.8 382.0 353.3 382.4 353.1 382.8 354.2 383.2 355.3 383.5 353.8 383.9 352.8 384.3 354.9 384.7 352.8 385.1 350.6 385.4 352.0 385.8 353.0 386.2 350.5 386.6 350.7 387.0 350.7 387.3 354.2 387.7 356.3 388.1 350.7 388.5 352.2 388.9 353.0 389.2 351.1 389.6 353.1 390.0 353.4 390.4 348.0 390.7 355.3 391.1 350.0 391.5 349.5 391.9 347.8 392.3 351.1 392.6 350.4 393.0 353.5 393.4 351.4 393.8 356.0 394.2 352.6 394.5 351.3 394.9 351.4 395.3 352.2 395.7 348.4 396.1 354.6 396.4 350.6 396.8 351.8 397.2 350.7 397.6 350.6 398.0 346.2 398.3 353.1 398.7 347.5 399.1 347.3 399.5 350.7 399.9 351.8 400.2 353.2 400.6 352.3 401.0 345.4 401.4 355.2 401.8 349.0 402.1 351.7 402.5 345.5 402.9 349.2 403.3 353.1 403.7 351.0 404.0 349.3 404.4 349.4 404.8 351.9 405.2 350.3 405.6 350.6 405.9 348.3 406.3 348.8 406.7 348.8 407.1 350.7 407.5 347.3 407.8 350.6 408.2 351.2 408.6 350.2" fill="none" stroke="#253f80" stroke-width="0.85" stroke-linejoin="round"/><polyline points="304.2 379.3 304.6 379.3 305.0 378.7 305.3 379.6 305.7 378.9 306.1 379.6 306.5 378.6 306.9 378.8 307.2 378.5 307.6 379.1 308.0 378.8 308.4 379.0 308.8 379.1 309.1 378.9 309.5 379.3 309.9 379.0 310.3 378.7 310.7 378.9 311.0 379.0 311.4 378.2 311.8 378.9 312.2 379.1 312.6 378.8 312.9 379.1 313.3 379.0 313.7 379.0 314.1 378.3 314.4 378.9 314.8 378.8 315.2 378.7 315.6 362.6 316.0 356.0 316.3 347.9 316.7 332.4 317.1 338.6 317.5 331.8 317.9 326.0 318.2 319.2 318.6 326.7 319.0 329.4 319.4 319.5 319.8 321.8 320.1 320.6 320.5 317.4 320.9 317.3 321.3 316.5 321.7 317.9 322.0 312.5 322.4 311.4 322.8 315.1 323.2 316.0 323.6 312.2 323.9 312.5 324.3 316.4 324.7 314.4 325.1 309.8 325.5 312.7 325.8 313.0 326.2 311.2 326.6 311.6 327.0 311.2 327.4 316.5 327.7 305.8 328.1 309.9 328.5 312.8 328.9 307.3 329.3 309.0 329.6 309.6 330.0 306.5 330.4 302.9 330.8 307.6 331.2 304.5 331.5 302.7 331.9 311.5 332.3 310.0 332.7 306.2 333.0 313.1 333.4 308.9 333.8 304.3 334.2 304.9 334.6 306.1 334.9 313.0 335.3 300.9 335.7 305.9 336.1 305.2 336.5 305.9 336.8 312.1 337.2 311.2 337.6 310.5 338.0 301.5 338.4 309.2 338.7 307.5 339.1 307.5 339.5 305.1 339.9 305.2 340.3 305.8 340.6 310.1 341.0 315.3 341.4 305.9 341.8 305.5 342.2 302.8 342.5 306.5 342.9 307.9 343.3 304.9 343.7 310.5 344.1 309.0 344.4 308.8 344.8 305.1 345.2 299.9 345.6 303.7 346.0 302.5 346.3 305.1 346.7 304.9 347.1 306.9 347.5 306.4 347.9 312.5 348.2 309.0 348.6 309.2 349.0 303.1 349.4 303.6 349.8 302.2 350.1 301.0 350.5 306.2 350.9 302.3 351.3 299.7 351.6 305.3 352.0 302.1 352.4 305.6 352.8 309.7 353.2 304.8 353.5 307.4 353.9 304.7 354.3 306.3 354.7 304.1 355.1 311.0 355.4 299.0 355.8 301.0 356.2 305.9 356.6 307.4 357.0 304.8 357.3 302.9 357.7 303.5 358.1 303.6 358.5 310.3 358.9 307.9 359.2 300.8 359.6 303.9 360.0 308.9 360.4 307.0 360.8 308.6 361.1 307.4 361.5 301.1 361.9 305.1 362.3 301.2 362.7 303.9 363.0 308.7 363.4 306.2 363.8 297.7 364.2 306.5 364.6 307.3 364.9 300.7 365.3 303.9 365.7 304.2 366.1 299.9 366.5 309.2 366.8 302.9 367.2 307.1 367.6 308.1 368.0 306.4 368.4 300.7 368.7 304.4 369.1 309.2 369.5 307.1 369.9 299.5 370.3 300.9 370.6 307.0 371.0 296.8 371.4 304.8 371.8 307.2 372.1 304.1 372.5 301.0 372.9 299.0 373.3 300.7 373.7 304.9 374.0 305.2 374.4 307.8 374.8 303.8 375.2 305.3 375.6 302.8 375.9 307.2 376.3 305.0 376.7 306.0 377.1 306.9 377.5 306.8 377.8 306.3 378.2 306.8 378.6 301.7 379.0 303.0 379.4 307.1 379.7 301.7 380.1 302.4 380.5 298.9 380.9 303.7 381.3 303.7 381.6 305.1 382.0 302.7 382.4 301.6 382.8 302.5 383.2 303.7 383.5 301.3 383.9 302.7 384.3 302.2 384.7 305.6 385.1 302.3 385.4 305.7 385.8 305.3 386.2 302.3 386.6 296.7 387.0 299.9 387.3 302.7 387.7 303.2 388.1 299.8 388.5 298.6 388.9 299.1 389.2 303.1 389.6 302.0 390.0 303.5 390.4 303.3 390.7 305.0 391.1 303.2 391.5 308.7 391.9 305.9 392.3 301.2 392.6 305.1 393.0 300.8 393.4 306.1 393.8 303.4 394.2 301.1 394.5 305.3 394.9 304.3 395.3 295.0 395.7 304.1 396.1 304.2 396.4 303.8 396.8 302.0 397.2 302.1 397.6 299.2 398.0 299.7 398.3 303.2 398.7 303.0 399.1 306.0 399.5 306.3 399.9 304.0 400.2 299.7 400.6 301.5 401.0 299.5 401.4 299.1 401.8 302.2 402.1 295.6 402.5 303.2 402.9 303.5 403.3 302.9 403.7 298.3 404.0 302.0 404.4 303.7 404.8 300.3 405.2 298.3 405.6 301.8 405.9 302.2 406.3 298.3 406.7 298.6 407.1 298.7 407.5 303.6 407.8 300.5 408.2 300.3 408.6 306.5" fill="none" stroke="#2d6b4e" stroke-width="0.7" stroke-linejoin="round"/><polyline points="304.2 378.7 304.6 379.5 305.0 379.1 305.3 378.9 305.7 378.4 306.1 378.9 306.5 379.4 306.9 378.8 307.2 379.3 307.6 378.5 308.0 379.0 308.4 378.3 308.8 378.9 309.1 379.2 309.5 379.4 309.9 379.0 310.3 378.8 310.7 378.5 311.0 378.8 311.4 379.1 311.8 378.7 312.2 379.4 312.6 378.7 312.9 379.1 313.3 378.4 313.7 378.6 314.1 378.8 314.4 379.2 314.8 378.7 315.2 378.8 315.6 369.9 316.0 357.2 316.3 342.5 316.7 340.5 317.1 333.2 317.5 326.8 317.9 332.1 318.2 320.6 318.6 321.1 319.0 324.4 319.4 324.1 319.8 323.8 320.1 316.8 320.5 326.0 320.9 315.3 321.3 316.8 321.7 318.7 322.0 317.6 322.4 316.7 322.8 315.8 323.2 312.2 323.6 316.6 323.9 310.8 324.3 310.7 324.7 313.8 325.1 311.0 325.5 314.0 325.8 311.9 326.2 310.4 326.6 306.0 327.0 311.4 327.4 311.4 327.7 310.6 328.1 311.0 328.5 313.3 328.9 304.7 329.3 311.6 329.6 311.3 330.0 311.5 330.4 307.3 330.8 300.7 331.2 300.3 331.5 306.0 331.9 307.7 332.3 308.6 332.7 311.2 333.0 306.1 333.4 308.4 333.8 302.1 334.2 308.7 334.6 310.6 334.9 312.9 335.3 312.6 335.7 305.7 336.1 306.4 336.5 310.6 336.8 311.6 337.2 306.3 337.6 308.0 338.0 306.3 338.4 306.9 338.7 309.0 339.1 311.7 339.5 306.3 339.9 306.3 340.3 306.0 340.6 303.8 341.0 303.8 341.4 307.8 341.8 304.6 342.2 312.5 342.5 304.3 342.9 306.2 343.3 303.2 343.7 303.2 344.1 308.7 344.4 306.3 344.8 302.7 345.2 307.4 345.6 305.6 346.0 307.5 346.3 304.1 346.7 304.9 347.1 308.0 347.5 309.7 347.9 311.9 348.2 303.1 348.6 306.8 349.0 307.5 349.4 306.9 349.8 308.0 350.1 303.4 350.5 303.5 350.9 311.7 351.3 305.3 351.6 304.9 352.0 306.1 352.4 304.9 352.8 300.3 353.2 304.2 353.5 301.6 353.9 302.1 354.3 309.3 354.7 299.9 355.1 304.3 355.4 305.7 355.8 302.5 356.2 298.4 356.6 307.1 357.0 306.7 357.3 303.7 357.7 309.8 358.1 307.9 358.5 304.5 358.9 302.5 359.2 303.1 359.6 302.2 360.0 301.4 360.4 305.8 360.8 305.5 361.1 305.4 361.5 305.4 361.9 301.2 362.3 301.9 362.7 310.3 363.0 303.0 363.4 307.4 363.8 307.5 364.2 300.5 364.6 300.4 364.9 300.8 365.3 302.2 365.7 298.9 366.1 307.4 366.5 301.7 366.8 306.0 367.2 305.8 367.6 308.8 368.0 299.6 368.4 298.8 368.7 301.4 369.1 305.6 369.5 303.4 369.9 306.9 370.3 304.6 370.6 299.4 371.0 299.1 371.4 301.8 371.8 301.5 372.1 304.1 372.5 302.6 372.9 304.1 373.3 302.2 373.7 305.4 374.0 300.7 374.4 304.2 374.8 302.9 375.2 303.9 375.6 299.0 375.9 300.8 376.3 305.7 376.7 306.1 377.1 301.7 377.5 303.0 377.8 304.0 378.2 302.7 378.6 298.5 379.0 303.5 379.4 299.1 379.7 304.6 380.1 303.8 380.5 302.2 380.9 303.3 381.3 304.5 381.6 306.1 382.0 304.0 382.4 304.2 382.8 303.0 383.2 299.9 383.5 301.4 383.9 299.6 384.3 302.3 384.7 301.5 385.1 301.0 385.4 300.7 385.8 299.8 386.2 304.3 386.6 301.5 387.0 302.1 387.3 299.1 387.7 300.2 388.1 304.2 388.5 301.4 388.9 300.5 389.2 302.4 389.6 298.9 390.0 301.7 390.4 306.1 390.7 301.5 391.1 300.1 391.5 304.7 391.9 300.3 392.3 310.2 392.6 296.5 393.0 306.3 393.4 303.6 393.8 303.1 394.2 306.3 394.5 301.3 394.9 304.8 395.3 306.0 395.7 308.7 396.1 300.1 396.4 298.7 396.8 302.8 397.2 301.4 397.6 297.4 398.0 300.8 398.3 298.6 398.7 299.0 399.1 299.7 399.5 300.3 399.9 298.4 400.2 301.2 400.6 301.4 401.0 303.8 401.4 307.7 401.8 304.3 402.1 302.6 402.5 298.6 402.9 302.6 403.3 307.3 403.7 299.6 404.0 298.0 404.4 300.6 404.8 300.6 405.2 300.6 405.6 301.6 405.9 297.4 406.3 303.7 406.7 303.5 407.1 305.5 407.5 302.7 407.8 303.3 408.2 303.1 408.6 300.6" fill="none" stroke="#b9c97c" stroke-width="0.7" stroke-linejoin="round"/><polyline points="304.2 379.0 304.6 378.7 305.0 379.0 305.3 379.0 305.7 379.2 306.1 379.0 306.5 378.5 306.9 378.8 307.2 378.6 307.6 378.8 308.0 378.8 308.4 378.8 308.8 379.4 309.1 378.6 309.5 378.7 309.9 378.7 310.3 379.4 310.7 379.4 311.0 379.2 311.4 379.0 311.8 378.8 312.2 378.9 312.6 378.7 312.9 379.1 313.3 378.8 313.7 378.8 314.1 379.1 314.4 378.4 314.8 378.7 315.2 378.5 315.6 370.7 316.0 358.2 316.3 347.4 316.7 339.8 317.1 332.0 317.5 329.8 317.9 329.6 318.2 329.3 318.6 325.9 319.0 317.9 319.4 324.4 319.8 319.4 320.1 317.8 320.5 324.3 320.9 317.8 321.3 312.4 321.7 324.3 322.0 317.4 322.4 316.0 322.8 318.2 323.2 312.8 323.6 314.5 323.9 319.4 324.3 310.3 324.7 310.6 325.1 309.2 325.5 307.0 325.8 310.7 326.2 311.3 326.6 316.4 327.0 308.9 327.4 313.3 327.7 312.4 328.1 315.3 328.5 313.9 328.9 312.1 329.3 305.0 329.6 317.3 330.0 315.0 330.4 308.4 330.8 303.7 331.2 306.8 331.5 316.0 331.9 318.2 332.3 307.2 332.7 311.2 333.0 312.5 333.4 304.4 333.8 303.8 334.2 307.3 334.6 306.8 334.9 306.0 335.3 301.5 335.7 305.1 336.1 305.4 336.5 305.2 336.8 313.1 337.2 302.3 337.6 303.4 338.0 305.0 338.4 314.3 338.7 309.2 339.1 303.6 339.5 313.5 339.9 307.3 340.3 302.7 340.6 311.4 341.0 300.3 341.4 304.3 341.8 306.9 342.2 305.0 342.5 303.7 342.9 305.7 343.3 301.8 343.7 308.6 344.1 307.6 344.4 302.0 344.8 305.8 345.2 309.2 345.6 302.2 346.0 300.2 346.3 307.4 346.7 310.9 347.1 306.2 347.5 306.2 347.9 306.7 348.2 300.2 348.6 309.4 349.0 300.7 349.4 310.2 349.8 308.4 350.1 303.0 350.5 301.1 350.9 302.1 351.3 304.0 351.6 304.7 352.0 304.6 352.4 303.0 352.8 305.8 353.2 304.1 353.5 302.9 353.9 305.0 354.3 302.1 354.7 302.8 355.1 297.4 355.4 303.7 355.8 306.5 356.2 306.3 356.6 304.9 357.0 301.3 357.3 306.0 357.7 303.3 358.1 297.8 358.5 314.4 358.9 308.9 359.2 303.7 359.6 303.1 360.0 303.7 360.4 306.2 360.8 302.0 361.1 303.4 361.5 306.4 361.9 295.3 362.3 303.1 362.7 306.5 363.0 304.7 363.4 305.2 363.8 304.5 364.2 314.6 364.6 306.1 364.9 300.4 365.3 308.6 365.7 304.4 366.1 300.5 366.5 300.9 366.8 298.5 367.2 310.5 367.6 305.4 368.0 305.3 368.4 301.6 368.7 299.8 369.1 314.1 369.5 299.8 369.9 309.4 370.3 301.3 370.6 309.5 371.0 303.1 371.4 299.3 371.8 304.3 372.1 303.0 372.5 300.7 372.9 303.2 373.3 304.0 373.7 297.8 374.0 299.6 374.4 304.7 374.8 293.2 375.2 307.9 375.6 300.1 375.9 304.5 376.3 303.0 376.7 300.8 377.1 302.6 377.5 301.0 377.8 309.1 378.2 309.0 378.6 301.0 379.0 306.9 379.4 307.1 379.7 308.8 380.1 298.4 380.5 300.4 380.9 297.6 381.3 306.7 381.6 303.1 382.0 307.4 382.4 300.2 382.8 297.0 383.2 306.4 383.5 297.1 383.9 299.2 384.3 303.6 384.7 310.4 385.1 297.6 385.4 303.2 385.8 305.1 386.2 301.3 386.6 301.2 387.0 297.1 387.3 306.6 387.7 298.4 388.1 297.0 388.5 297.2 388.9 303.3 389.2 305.4 389.6 298.7 390.0 302.1 390.4 302.1 390.7 297.1 391.1 303.5 391.5 311.1 391.9 303.9 392.3 309.4 392.6 299.3 393.0 301.1 393.4 304.6 393.8 302.3 394.2 299.1 394.5 301.9 394.9 297.2 395.3 302.4 395.7 298.2 396.1 296.5 396.4 296.0 396.8 304.6 397.2 298.7 397.6 309.1 398.0 306.1 398.3 309.4 398.7 297.9 399.1 306.6 399.5 302.0 399.9 302.6 400.2 302.0 400.6 304.1 401.0 300.9 401.4 295.0 401.8 301.6 402.1 299.7 402.5 297.9 402.9 302.4 403.3 306.4 403.7 303.7 404.0 297.6 404.4 307.8 404.8 303.8 405.2 297.7 405.6 298.5 405.9 301.5 406.3 298.4 406.7 300.8 407.1 305.9 407.5 307.3 407.8 303.8 408.2 297.8 408.6 303.4" fill="none" stroke="#66308f" stroke-width="0.7" stroke-linejoin="round"/><polyline points="304.2 378.8 304.6 378.1 305.0 378.6 305.3 378.5 305.7 378.7 306.1 378.8 306.5 378.7 306.9 378.9 307.2 379.1 307.6 379.2 308.0 379.3 308.4 378.8 308.8 378.7 309.1 378.3 309.5 378.7 309.9 378.8 310.3 378.7 310.7 378.9 311.0 379.5 311.4 378.5 311.8 379.0 312.2 378.8 312.6 379.0 312.9 377.9 313.3 378.5 313.7 378.7 314.1 379.2 314.4 378.6 314.8 379.2 315.2 378.5 315.6 372.0 316.0 355.3 316.3 343.4 316.7 341.3 317.1 333.8 317.5 330.0 317.9 325.1 318.2 326.7 318.6 321.9 319.0 316.8 319.4 324.9 319.8 322.3 320.1 317.9 320.5 320.1 320.9 321.2 321.3 313.3 321.7 313.9 322.0 312.9 322.4 312.5 322.8 312.9 323.2 316.5 323.6 320.2 323.9 312.2 324.3 315.9 324.7 312.6 325.1 311.4 325.5 315.4 325.8 312.6 326.2 306.9 326.6 309.1 327.0 315.2 327.4 311.2 327.7 310.4 328.1 308.6 328.5 308.0 328.9 309.9 329.3 310.1 329.6 307.0 330.0 312.9 330.4 306.0 330.8 307.9 331.2 309.9 331.5 310.0 331.9 307.7 332.3 312.1 332.7 314.2 333.0 307.0 333.4 304.0 333.8 308.1 334.2 307.5 334.6 307.6 334.9 310.0 335.3 306.3 335.7 305.1 336.1 307.1 336.5 304.7 336.8 309.7 337.2 306.2 337.6 308.8 338.0 308.1 338.4 306.0 338.7 306.2 339.1 304.3 339.5 304.8 339.9 309.5 340.3 303.0 340.6 310.4 341.0 306.5 341.4 305.5 341.8 306.4 342.2 304.9 342.5 306.1 342.9 308.6 343.3 303.9 343.7 306.1 344.1 308.3 344.4 305.8 344.8 306.0 345.2 305.0 345.6 307.3 346.0 305.3 346.3 306.2 346.7 301.5 347.1 306.6 347.5 302.3 347.9 305.8 348.2 302.6 348.6 299.5 349.0 306.5 349.4 305.1 349.8 307.7 350.1 307.2 350.5 306.8 350.9 305.1 351.3 302.9 351.6 302.9 352.0 306.5 352.4 304.8 352.8 308.9 353.2 303.6 353.5 305.7 353.9 307.8 354.3 306.9 354.7 303.5 355.1 304.7 355.4 303.3 355.8 306.0 356.2 304.5 356.6 305.4 357.0 308.7 357.3 305.2 357.7 305.1 358.1 306.5 358.5 302.7 358.9 299.2 359.2 301.0 359.6 304.5 360.0 307.6 360.4 305.0 360.8 306.1 361.1 304.1 361.5 301.4 361.9 304.6 362.3 308.1 362.7 300.9 363.0 304.2 363.4 300.8 363.8 306.6 364.2 297.9 364.6 307.4 364.9 303.9 365.3 302.1 365.7 310.8 366.1 306.2 366.5 308.2 366.8 299.7 367.2 302.3 367.6 306.5 368.0 308.5 368.4 308.5 368.7 303.5 369.1 306.0 369.5 303.0 369.9 305.3 370.3 308.2 370.6 299.2 371.0 302.6 371.4 305.6 371.8 304.6 372.1 300.4 372.5 301.6 372.9 306.9 373.3 299.9 373.7 305.2 374.0 302.1 374.4 306.7 374.8 305.3 375.2 301.5 375.6 306.6 375.9 303.3 376.3 302.4 376.7 305.1 377.1 299.7 377.5 301.7 377.8 303.7 378.2 300.7 378.6 299.8 379.0 300.1 379.4 303.6 379.7 301.2 380.1 302.2 380.5 306.0 380.9 304.1 381.3 297.9 381.6 305.1 382.0 301.8 382.4 298.7 382.8 304.0 383.2 303.0 383.5 304.9 383.9 301.6 384.3 306.1 384.7 301.7 385.1 305.0 385.4 302.0 385.8 307.2 386.2 305.6 386.6 300.4 387.0 301.2 387.3 310.5 387.7 298.8 388.1 304.8 388.5 300.4 388.9 300.0 389.2 303.0 389.6 303.6 390.0 307.5 390.4 301.3 390.7 297.7 391.1 305.7 391.5 299.6 391.9 300.5 392.3 300.0 392.6 305.1 393.0 302.6 393.4 301.7 393.8 297.9 394.2 304.7 394.5 303.6 394.9 304.2 395.3 300.0 395.7 306.2 396.1 302.7 396.4 305.5 396.8 303.0 397.2 300.1 397.6 303.4 398.0 300.3 398.3 303.2 398.7 302.1 399.1 302.4 399.5 304.2 399.9 300.9 400.2 300.2 400.6 303.9 401.0 300.1 401.4 301.6 401.8 302.9 402.1 301.4 402.5 299.6 402.9 299.8 403.3 297.9 403.7 301.0 404.0 301.1 404.4 305.5 404.8 303.0 405.2 300.1 405.6 304.4 405.9 303.9 406.3 296.8 406.7 301.7 407.1 304.3 407.5 306.8 407.8 303.6 408.2 295.5 408.6 301.4" fill="none" stroke="#79c043" stroke-width="0.8" stroke-linejoin="round"/><path d="M313 386.8V383.6" stroke="#111" stroke-width="0.7" fill="none"/><path d="M311.5 384.4L313 381.8L314.5 384.4Z" fill="#111"/><text x="316.00" y="386.10" font-size="5.2" text-anchor="start" fill="#0c0c0c" textLength="26.60" lengthAdjust="spacingAndGlyphs" >stimulation</text><line x1="416.80" y1="302.70" x2="424.20" y2="302.70" stroke="#c0233f" stroke-width="1.1"/><text x="427.30" y="304.70" font-size="5.6" text-anchor="start" fill="#0c0c0c" textLength="17.60" lengthAdjust="spacingAndGlyphs" >NT-Raji</text><line x1="416.80" y1="313.94" x2="424.20" y2="313.94" stroke="#7dbdeb" stroke-width="1.1"/><text x="427.30" y="315.94" font-size="5.6" text-anchor="start" fill="#0c0c0c" textLength="37.30" lengthAdjust="spacingAndGlyphs" >CD19 CAR-Raji</text><line x1="416.80" y1="325.18" x2="424.20" y2="325.18" stroke="#e8a030" stroke-width="1.1"/><text x="427.30" y="327.18" font-size="5.6" text-anchor="start" fill="#0c0c0c" textLength="37.30" lengthAdjust="spacingAndGlyphs" >CD20 CAR-Raji</text><line x1="416.80" y1="336.42" x2="424.20" y2="336.42" stroke="#2e4c8f" stroke-width="1.1"/><text x="427.30" y="338.42" font-size="5.6" text-anchor="start" fill="#0c0c0c" textLength="33.50" lengthAdjust="spacingAndGlyphs" >TanCAR7-Raji</text><line x1="416.80" y1="347.66" x2="424.20" y2="347.66" stroke="#7cc050" stroke-width="1.1"/><text x="427.30" y="349.66" font-size="5.6" text-anchor="start" fill="#0c0c0c" textLength="47.70" lengthAdjust="spacingAndGlyphs" >NT-PMA/Ionomycin</text><line x1="416.80" y1="358.90" x2="424.20" y2="358.90" stroke="#6a3090" stroke-width="1.1"/><text x="427.30" y="360.90" font-size="5.6" text-anchor="start" fill="#0c0c0c" textLength="67.70" lengthAdjust="spacingAndGlyphs" >CD19 CAR-PMA/Ionomycin</text><line x1="416.80" y1="370.14" x2="424.20" y2="370.14" stroke="#b9c97c" stroke-width="1.1"/><text x="427.30" y="372.14" font-size="5.6" text-anchor="start" fill="#0c0c0c" textLength="67.70" lengthAdjust="spacingAndGlyphs" >CD20 CAR-PMA/Ionomycin</text><line x1="416.80" y1="381.38" x2="424.20" y2="381.38" stroke="#2e7050" stroke-width="1.1"/><text x="427.30" y="383.38" font-size="5.6" text-anchor="start" fill="#0c0c0c" textLength="63.70" lengthAdjust="spacingAndGlyphs" >TanCAR7-PMA/Ionomycin</text><text x="7.60" y="440.70" font-size="10.6" text-anchor="start" fill="#000" font-weight="bold" textLength="6.40" lengthAdjust="spacingAndGlyphs" >E</text><line x1="36.20" y1="448.20" x2="36.20" y2="527.60" stroke="#0d0d0d" stroke-width="1.4"/><line x1="35.60" y1="527.00" x2="151.60" y2="527.00" stroke="#0d0d0d" stroke-width="1.4"/><line x1="32.80" y1="450.60" x2="36.20" y2="450.60" stroke="#0d0d0d" stroke-width="0.9"/><text x="30.80" y="452.90" font-size="6.5" text-anchor="end" fill="#0c0c0c" >50</text><line x1="32.80" y1="465.80" x2="36.20" y2="465.80" stroke="#0d0d0d" stroke-width="0.9"/><text x="30.80" y="468.10" font-size="6.5" text-anchor="end" fill="#0c0c0c" >40</text><line x1="32.80" y1="481.20" x2="36.20" y2="481.20" stroke="#0d0d0d" stroke-width="0.9"/><text x="30.80" y="483.50" font-size="6.5" text-anchor="end" fill="#0c0c0c" >30</text><line x1="32.80" y1="496.40" x2="36.20" y2="496.40" stroke="#0d0d0d" stroke-width="0.9"/><text x="30.80" y="498.70" font-size="6.5" text-anchor="end" fill="#0c0c0c" >20</text><line x1="32.80" y1="511.60" x2="36.20" y2="511.60" stroke="#0d0d0d" stroke-width="0.9"/><text x="30.80" y="513.90" font-size="6.5" text-anchor="end" fill="#0c0c0c" >10</text><line x1="32.80" y1="527.00" x2="36.20" y2="527.00" stroke="#0d0d0d" stroke-width="0.9"/><text x="30.80" y="529.30" font-size="6.5" text-anchor="end" fill="#0c0c0c" >0</text><rect x="39.40" y="525.32" width="5.60" height="1.68" fill="#a3122e"/><rect x="47.80" y="499.50" width="5.60" height="27.50" fill="#62a8e2"/><line x1="50.60" y1="499.50" x2="50.60" y2="498.60" stroke="#62a8e2" stroke-width="0.7"/><line x1="49.20" y1="498.60" x2="52.00" y2="498.60" stroke="#62a8e2" stroke-width="0.7"/><rect x="56.20" y="504.39" width="5.60" height="22.61" fill="#e0901a"/><line x1="59.00" y1="504.39" x2="59.00" y2="503.79" stroke="#e0901a" stroke-width="0.7"/><line x1="57.60" y1="503.79" x2="60.40" y2="503.79" stroke="#e0901a" stroke-width="0.7"/><rect x="64.60" y="480.55" width="5.60" height="46.45" fill="#27457f"/><line x1="67.40" y1="480.55" x2="67.40" y2="479.35" stroke="#27457f" stroke-width="0.7"/><line x1="66.00" y1="479.35" x2="68.80" y2="479.35" stroke="#27457f" stroke-width="0.7"/><line x1="54.80" y1="527.00" x2="54.80" y2="530.00" stroke="#0d0d0d" stroke-width="0.9"/><text x="54.80" y="538.60" font-size="6.5" text-anchor="middle" fill="#0c0c0c" >10</text><rect x="78.40" y="524.56" width="5.60" height="2.44" fill="#a3122e"/><rect x="86.80" y="496.44" width="5.60" height="30.56" fill="#62a8e2"/><line x1="89.60" y1="496.44" x2="89.60" y2="495.14" stroke="#62a8e2" stroke-width="0.7"/><line x1="88.20" y1="495.14" x2="91.00" y2="495.14" stroke="#62a8e2" stroke-width="0.7"/><rect x="95.20" y="501.33" width="5.60" height="25.67" fill="#e0901a"/><line x1="98.00" y1="501.33" x2="98.00" y2="500.73" stroke="#e0901a" stroke-width="0.7"/><line x1="96.60" y1="500.73" x2="99.40" y2="500.73" stroke="#e0901a" stroke-width="0.7"/><rect x="103.60" y="479.63" width="5.60" height="47.37" fill="#27457f"/><line x1="106.40" y1="479.63" x2="106.40" y2="478.13" stroke="#27457f" stroke-width="0.7"/><line x1="105.00" y1="478.13" x2="107.80" y2="478.13" stroke="#27457f" stroke-width="0.7"/><line x1="93.80" y1="527.00" x2="93.80" y2="530.00" stroke="#0d0d0d" stroke-width="0.9"/><text x="93.80" y="538.60" font-size="6.5" text-anchor="middle" fill="#0c0c0c" >20</text><rect x="117.40" y="525.17" width="5.60" height="1.83" fill="#a3122e"/><rect x="125.80" y="494.91" width="5.60" height="32.09" fill="#62a8e2"/><line x1="128.60" y1="494.91" x2="128.60" y2="493.71" stroke="#62a8e2" stroke-width="0.7"/><line x1="127.20" y1="493.71" x2="130.00" y2="493.71" stroke="#62a8e2" stroke-width="0.7"/><rect x="134.20" y="501.33" width="5.60" height="25.67" fill="#e0901a"/><line x1="137.00" y1="501.33" x2="137.00" y2="500.83" stroke="#e0901a" stroke-width="0.7"/><line x1="135.60" y1="500.83" x2="138.40" y2="500.83" stroke="#e0901a" stroke-width="0.7"/><rect x="142.60" y="476.58" width="5.60" height="50.42" fill="#27457f"/><line x1="145.40" y1="476.58" x2="145.40" y2="475.08" stroke="#27457f" stroke-width="0.7"/><line x1="144.00" y1="475.08" x2="146.80" y2="475.08" stroke="#27457f" stroke-width="0.7"/><line x1="132.80" y1="527.00" x2="132.80" y2="530.00" stroke="#0d0d0d" stroke-width="0.9"/><text x="132.80" y="538.60" font-size="6.5" text-anchor="middle" fill="#0c0c0c" >30</text><line x1="51.00" y1="464.00" x2="67.40" y2="464.00" stroke="#0d0d0d" stroke-width="1.2"/><text x="59.20" y="463.80" font-size="4.6" text-anchor="middle" fill="#0c0c0c" >***</text><line x1="59.20" y1="471.40" x2="67.40" y2="471.40" stroke="#0d0d0d" stroke-width="1.2"/><text x="63.30" y="471.20" font-size="4.6" text-anchor="middle" fill="#0c0c0c" >***</text><line x1="90.00" y1="464.00" x2="106.40" y2="464.00" stroke="#0d0d0d" stroke-width="1.2"/><text x="98.20" y="463.80" font-size="4.6" text-anchor="middle" fill="#0c0c0c" >***</text><line x1="98.20" y1="471.40" x2="106.40" y2="471.40" stroke="#0d0d0d" stroke-width="1.2"/><text x="102.30" y="471.20" font-size="4.6" text-anchor="middle" fill="#0c0c0c" >****</text><line x1="129.00" y1="464.00" x2="145.40" y2="464.00" stroke="#0d0d0d" stroke-width="1.2"/><text x="137.20" y="463.80" font-size="4.6" text-anchor="middle" fill="#0c0c0c" >***</text><line x1="137.20" y1="471.40" x2="145.40" y2="471.40" stroke="#0d0d0d" stroke-width="1.2"/><text x="141.30" y="471.20" font-size="4.6" text-anchor="middle" fill="#0c0c0c" >****</text><text x="18" y="487" font-size="8.2" text-anchor="middle" fill="#0c0c0c" textLength="76" lengthAdjust="spacingAndGlyphs" transform="rotate(-90 18 487)">CD107a<tspan font-size="5.2" dy="-2.8">+</tspan><tspan dy="2.8">CAR</tspan><tspan font-size="5.2" dy="-2.8">+</tspan><tspan dy="2.8"> T cells (%)</tspan></text><text x="93.50" y="550.60" font-size="8.2" text-anchor="middle" fill="#0c0c0c" textLength="31.00" lengthAdjust="spacingAndGlyphs" >Time(min)</text><text x="167.60" y="440.70" font-size="10.6" text-anchor="start" fill="#000" font-weight="bold" textLength="6.10" lengthAdjust="spacingAndGlyphs" >F</text><line x1="200.60" y1="447.20" x2="200.60" y2="527.60" stroke="#0d0d0d" stroke-width="1.4"/><line x1="200.00" y1="527.00" x2="279.00" y2="527.00" stroke="#0d0d0d" stroke-width="1.4"/><line x1="197.20" y1="450.00" x2="200.60" y2="450.00" stroke="#0d0d0d" stroke-width="0.9"/><text x="195.20" y="452.30" font-size="6.5" text-anchor="end" fill="#0c0c0c" >100</text><line x1="197.20" y1="469.20" x2="200.60" y2="469.20" stroke="#0d0d0d" stroke-width="0.9"/><text x="195.20" y="471.50" font-size="6.5" text-anchor="end" fill="#0c0c0c" >75</text><line x1="197.20" y1="488.60" x2="200.60" y2="488.60" stroke="#0d0d0d" stroke-width="0.9"/><text x="195.20" y="490.90" font-size="6.5" text-anchor="end" fill="#0c0c0c" >50</text><line x1="197.20" y1="507.80" x2="200.60" y2="507.80" stroke="#0d0d0d" stroke-width="0.9"/><text x="195.20" y="510.10" font-size="6.5" text-anchor="end" fill="#0c0c0c" >25</text><line x1="197.20" y1="527.00" x2="200.60" y2="527.00" stroke="#0d0d0d" stroke-width="0.9"/><text x="195.20" y="529.30" font-size="6.5" text-anchor="end" fill="#0c0c0c" >0</text><rect x="203.40" y="525.08" width="5.60" height="1.93" fill="#a3122e"/><line x1="206.20" y1="525.08" x2="206.20" y2="522.88" stroke="#a3122e" stroke-width="0.7"/><line x1="204.80" y1="522.88" x2="207.60" y2="522.88" stroke="#a3122e" stroke-width="0.7"/><rect x="211.80" y="475.56" width="5.60" height="51.44" fill="#62a8e2"/><line x1="214.60" y1="475.56" x2="214.60" y2="472.56" stroke="#62a8e2" stroke-width="0.7"/><line x1="213.20" y1="472.56" x2="216.00" y2="472.56" stroke="#62a8e2" stroke-width="0.7"/><rect x="220.20" y="472.02" width="5.60" height="54.98" fill="#e0901a"/><line x1="223.00" y1="472.02" x2="223.00" y2="468.62" stroke="#e0901a" stroke-width="0.7"/><line x1="221.60" y1="468.62" x2="224.40" y2="468.62" stroke="#e0901a" stroke-width="0.7"/><rect x="228.60" y="488.50" width="5.60" height="38.50" fill="#27457f"/><line x1="231.40" y1="488.50" x2="231.40" y2="485.50" stroke="#27457f" stroke-width="0.7"/><line x1="230.00" y1="485.50" x2="232.80" y2="485.50" stroke="#27457f" stroke-width="0.7"/><line x1="218.80" y1="527.00" x2="218.80" y2="530.00" stroke="#0d0d0d" stroke-width="0.9"/><text x="218.80" y="538.60" font-size="6.5" text-anchor="middle" fill="#0c0c0c" >4</text><rect x="243.00" y="526.38" width="5.60" height="0.62" fill="#a3122e"/><rect x="251.40" y="516.37" width="5.60" height="10.63" fill="#62a8e2"/><line x1="254.20" y1="516.37" x2="254.20" y2="513.97" stroke="#62a8e2" stroke-width="0.7"/><line x1="252.80" y1="513.97" x2="255.60" y2="513.97" stroke="#62a8e2" stroke-width="0.7"/><rect x="259.80" y="516.37" width="5.60" height="10.63" fill="#e0901a"/><line x1="262.60" y1="516.37" x2="262.60" y2="514.77" stroke="#e0901a" stroke-width="0.7"/><line x1="261.20" y1="514.77" x2="264.00" y2="514.77" stroke="#e0901a" stroke-width="0.7"/><rect x="268.20" y="521.38" width="5.60" height="5.62" fill="#27457f"/><line x1="271.00" y1="521.38" x2="271.00" y2="519.58" stroke="#27457f" stroke-width="0.7"/><line x1="269.60" y1="519.58" x2="272.40" y2="519.58" stroke="#27457f" stroke-width="0.7"/><line x1="258.40" y1="527.00" x2="258.40" y2="530.00" stroke="#0d0d0d" stroke-width="0.9"/><text x="258.40" y="538.60" font-size="6.5" text-anchor="middle" fill="#0c0c0c" >8</text><line x1="214.60" y1="457.60" x2="231.40" y2="457.60" stroke="#0d0d0d" stroke-width="1.2"/><text x="223.00" y="457.40" font-size="4.6" text-anchor="middle" fill="#0c0c0c" >**</text><line x1="223.40" y1="464.40" x2="231.40" y2="464.40" stroke="#0d0d0d" stroke-width="1.2"/><text x="227.40" y="464.20" font-size="4.6" text-anchor="middle" fill="#0c0c0c" >***</text><line x1="254.00" y1="503.60" x2="271.00" y2="503.60" stroke="#0d0d0d" stroke-width="1.2"/><text x="262.50" y="503.40" font-size="4.6" text-anchor="middle" fill="#0c0c0c" >**</text><line x1="262.60" y1="511.00" x2="271.00" y2="511.00" stroke="#0d0d0d" stroke-width="1.2"/><text x="266.80" y="510.80" font-size="4.6" text-anchor="middle" fill="#0c0c0c" >**</text><text x="178" y="486.5" font-size="8.2" text-anchor="middle" fill="#0c0c0c" textLength="69" lengthAdjust="spacingAndGlyphs" transform="rotate(-90 178 486.5)">IFN-γ<tspan font-size="5.2" dy="-2.8">+</tspan><tspan dy="2.8">CAR</tspan><tspan font-size="5.2" dy="-2.8">+</tspan><tspan dy="2.8"> T cells (%)</tspan></text><text x="240.00" y="550.60" font-size="8.2" text-anchor="middle" fill="#0c0c0c" textLength="23.60" lengthAdjust="spacingAndGlyphs" >Time(h)</text><line x1="317.60" y1="447.20" x2="317.60" y2="527.60" stroke="#0d0d0d" stroke-width="1.4"/><line x1="317.00" y1="527.00" x2="396.00" y2="527.00" stroke="#0d0d0d" stroke-width="1.4"/><line x1="314.20" y1="450.00" x2="317.60" y2="450.00" stroke="#0d0d0d" stroke-width="0.9"/><text x="312.20" y="452.30" font-size="6.5" text-anchor="end" fill="#0c0c0c" >30</text><line x1="314.20" y1="475.60" x2="317.60" y2="475.60" stroke="#0d0d0d" stroke-width="0.9"/><text x="312.20" y="477.90" font-size="6.5" text-anchor="end" fill="#0c0c0c" >20</text><line x1="314.20" y1="501.40" x2="317.60" y2="501.40" stroke="#0d0d0d" stroke-width="0.9"/><text x="312.20" y="503.70" font-size="6.5" text-anchor="end" fill="#0c0c0c" >10</text><line x1="314.20" y1="527.00" x2="317.60" y2="527.00" stroke="#0d0d0d" stroke-width="0.9"/><text x="312.20" y="529.30" font-size="6.5" text-anchor="end" fill="#0c0c0c" >0</text><rect x="320.40" y="524.43" width="5.60" height="2.57" fill="#a3122e"/><line x1="323.20" y1="524.43" x2="323.20" y2="523.93" stroke="#a3122e" stroke-width="0.7"/><line x1="321.80" y1="523.93" x2="324.60" y2="523.93" stroke="#a3122e" stroke-width="0.7"/><rect x="328.80" y="494.40" width="5.60" height="32.60" fill="#62a8e2"/><line x1="331.60" y1="494.40" x2="331.60" y2="493.60" stroke="#62a8e2" stroke-width="0.7"/><line x1="330.20" y1="493.60" x2="333.00" y2="493.60" stroke="#62a8e2" stroke-width="0.7"/><rect x="337.20" y="491.06" width="5.60" height="35.94" fill="#e0901a"/><line x1="340.00" y1="491.06" x2="340.00" y2="490.16" stroke="#e0901a" stroke-width="0.7"/><line x1="338.60" y1="490.16" x2="341.40" y2="490.16" stroke="#e0901a" stroke-width="0.7"/><rect x="345.60" y="504.41" width="5.60" height="22.59" fill="#27457f"/><line x1="348.40" y1="504.41" x2="348.40" y2="503.21" stroke="#27457f" stroke-width="0.7"/><line x1="347.00" y1="503.21" x2="349.80" y2="503.21" stroke="#27457f" stroke-width="0.7"/><line x1="335.80" y1="527.00" x2="335.80" y2="530.00" stroke="#0d0d0d" stroke-width="0.9"/><text x="335.80" y="538.60" font-size="6.5" text-anchor="middle" fill="#0c0c0c" >4</text><rect x="360.00" y="524.95" width="5.60" height="2.05" fill="#a3122e"/><rect x="368.40" y="503.64" width="5.60" height="23.36" fill="#62a8e2"/><line x1="371.20" y1="503.64" x2="371.20" y2="502.84" stroke="#62a8e2" stroke-width="0.7"/><line x1="369.80" y1="502.84" x2="372.60" y2="502.84" stroke="#62a8e2" stroke-width="0.7"/><rect x="376.80" y="501.59" width="5.60" height="25.41" fill="#e0901a"/><line x1="379.60" y1="501.59" x2="379.60" y2="500.99" stroke="#e0901a" stroke-width="0.7"/><line x1="378.20" y1="500.99" x2="381.00" y2="500.99" stroke="#e0901a" stroke-width="0.7"/><rect x="385.20" y="512.11" width="5.60" height="14.89" fill="#27457f"/><line x1="388.00" y1="512.11" x2="388.00" y2="511.21" stroke="#27457f" stroke-width="0.7"/><line x1="386.60" y1="511.21" x2="389.40" y2="511.21" stroke="#27457f" stroke-width="0.7"/><line x1="375.40" y1="527.00" x2="375.40" y2="530.00" stroke="#0d0d0d" stroke-width="0.9"/><text x="375.40" y="538.60" font-size="6.5" text-anchor="middle" fill="#0c0c0c" >8</text><line x1="331.60" y1="476.60" x2="348.40" y2="476.60" stroke="#0d0d0d" stroke-width="1.2"/><text x="340.00" y="476.40" font-size="4.6" text-anchor="middle" fill="#0c0c0c" >**</text><line x1="340.00" y1="484.00" x2="348.40" y2="484.00" stroke="#0d0d0d" stroke-width="1.2"/><text x="344.20" y="483.80" font-size="4.6" text-anchor="middle" fill="#0c0c0c" >**</text><line x1="371.00" y1="489.60" x2="388.00" y2="489.60" stroke="#0d0d0d" stroke-width="1.2"/><text x="379.50" y="489.40" font-size="4.6" text-anchor="middle" fill="#0c0c0c" >**</text><line x1="379.40" y1="496.60" x2="388.00" y2="496.60" stroke="#0d0d0d" stroke-width="1.2"/><text x="383.70" y="496.40" font-size="4.6" text-anchor="middle" fill="#0c0c0c" >**</text><text x="299" y="486.5" font-size="8.2" text-anchor="middle" fill="#0c0c0c" textLength="63" lengthAdjust="spacingAndGlyphs" transform="rotate(-90 299 486.5)">IL-2<tspan font-size="5.2" dy="-2.8">+</tspan><tspan dy="2.8">CAR</tspan><tspan font-size="5.2" dy="-2.8">+</tspan><tspan dy="2.8"> T cells (%)</tspan></text><text x="356.50" y="550.60" font-size="8.2" text-anchor="middle" fill="#0c0c0c" textLength="23.60" lengthAdjust="spacingAndGlyphs" >Time(h)</text><line x1="434.80" y1="447.20" x2="434.80" y2="527.60" stroke="#0d0d0d" stroke-width="1.4"/><line x1="434.20" y1="527.00" x2="512.80" y2="527.00" stroke="#0d0d0d" stroke-width="1.4"/><line x1="431.40" y1="450.00" x2="434.80" y2="450.00" stroke="#0d0d0d" stroke-width="0.9"/><text x="429.40" y="452.30" font-size="6.5" text-anchor="end" fill="#0c0c0c" >35</text><line x1="431.40" y1="465.40" x2="434.80" y2="465.40" stroke="#0d0d0d" stroke-width="0.9"/><text x="429.40" y="467.70" font-size="6.5" text-anchor="end" fill="#0c0c0c" >28</text><line x1="431.40" y1="480.80" x2="434.80" y2="480.80" stroke="#0d0d0d" stroke-width="0.9"/><text x="429.40" y="483.10" font-size="6.5" text-anchor="end" fill="#0c0c0c" >21</text><line x1="431.40" y1="496.20" x2="434.80" y2="496.20" stroke="#0d0d0d" stroke-width="0.9"/><text x="429.40" y="498.50" font-size="6.5" text-anchor="end" fill="#0c0c0c" >14</text><line x1="431.40" y1="511.60" x2="434.80" y2="511.60" stroke="#0d0d0d" stroke-width="0.9"/><text x="429.40" y="513.90" font-size="6.5" text-anchor="end" fill="#0c0c0c" >7</text><line x1="431.40" y1="527.00" x2="434.80" y2="527.00" stroke="#0d0d0d" stroke-width="0.9"/><text x="429.40" y="529.30" font-size="6.5" text-anchor="end" fill="#0c0c0c" >0</text><rect x="437.60" y="525.68" width="5.60" height="1.32" fill="#a3122e"/><line x1="440.40" y1="525.68" x2="440.40" y2="525.38" stroke="#a3122e" stroke-width="0.7"/><line x1="439.00" y1="525.38" x2="441.80" y2="525.38" stroke="#a3122e" stroke-width="0.7"/><rect x="446.00" y="525.02" width="5.60" height="1.98" fill="#62a8e2"/><line x1="448.80" y1="525.02" x2="448.80" y2="524.82" stroke="#62a8e2" stroke-width="0.7"/><line x1="447.40" y1="524.82" x2="450.20" y2="524.82" stroke="#62a8e2" stroke-width="0.7"/><rect x="454.40" y="525.90" width="5.60" height="1.10" fill="#e0901a"/><line x1="457.20" y1="525.90" x2="457.20" y2="525.70" stroke="#e0901a" stroke-width="0.7"/><line x1="455.80" y1="525.70" x2="458.60" y2="525.70" stroke="#e0901a" stroke-width="0.7"/><rect x="462.80" y="525.46" width="5.60" height="1.54" fill="#27457f"/><line x1="465.60" y1="525.46" x2="465.60" y2="525.16" stroke="#27457f" stroke-width="0.7"/><line x1="464.20" y1="525.16" x2="467.00" y2="525.16" stroke="#27457f" stroke-width="0.7"/><line x1="453.00" y1="527.00" x2="453.00" y2="530.00" stroke="#0d0d0d" stroke-width="0.9"/><text x="453.00" y="538.60" font-size="6.5" text-anchor="middle" fill="#0c0c0c" >4</text><rect x="477.00" y="523.92" width="5.60" height="3.08" fill="#a3122e"/><line x1="479.80" y1="523.92" x2="479.80" y2="523.22" stroke="#a3122e" stroke-width="0.7"/><line x1="478.40" y1="523.22" x2="481.20" y2="523.22" stroke="#a3122e" stroke-width="0.7"/><rect x="485.40" y="486.08" width="5.60" height="40.92" fill="#62a8e2"/><line x1="488.20" y1="486.08" x2="488.20" y2="484.68" stroke="#62a8e2" stroke-width="0.7"/><line x1="486.80" y1="484.68" x2="489.60" y2="484.68" stroke="#62a8e2" stroke-width="0.7"/><rect x="493.80" y="469.36" width="5.60" height="57.64" fill="#e0901a"/><line x1="496.60" y1="469.36" x2="496.60" y2="468.46" stroke="#e0901a" stroke-width="0.7"/><line x1="495.20" y1="468.46" x2="498.00" y2="468.46" stroke="#e0901a" stroke-width="0.7"/><rect x="502.20" y="486.08" width="5.60" height="40.92" fill="#27457f"/><line x1="505.00" y1="486.08" x2="505.00" y2="484.88" stroke="#27457f" stroke-width="0.7"/><line x1="503.60" y1="484.88" x2="506.40" y2="484.88" stroke="#27457f" stroke-width="0.7"/><line x1="492.40" y1="527.00" x2="492.40" y2="530.00" stroke="#0d0d0d" stroke-width="0.9"/><text x="492.40" y="538.60" font-size="6.5" text-anchor="middle" fill="#0c0c0c" >8</text><line x1="449.00" y1="514.00" x2="465.60" y2="514.00" stroke="#0d0d0d" stroke-width="1.2"/><text x="457.30" y="512.00" font-size="5" text-anchor="middle" fill="#0c0c0c" >ns</text><line x1="457.40" y1="521.40" x2="465.60" y2="521.40" stroke="#0d0d0d" stroke-width="1.2"/><text x="461.50" y="519.40" font-size="5" text-anchor="middle" fill="#0c0c0c" >ns</text><line x1="488.00" y1="456.00" x2="504.80" y2="456.00" stroke="#0d0d0d" stroke-width="1.2"/><text x="496.40" y="454.00" font-size="5" text-anchor="middle" fill="#0c0c0c" >ns</text><line x1="496.80" y1="463.00" x2="504.80" y2="463.00" stroke="#0d0d0d" stroke-width="1.2"/><text x="500.80" y="462.80" font-size="4.6" text-anchor="middle" fill="#0c0c0c" >***</text><text x="415.4" y="487" font-size="8.2" text-anchor="middle" fill="#0c0c0c" textLength="72" lengthAdjust="spacingAndGlyphs" transform="rotate(-90 415.4 487)">TNF-α<tspan font-size="5.2" dy="-2.8">+</tspan><tspan dy="2.8">CAR</tspan><tspan font-size="5.2" dy="-2.8">+</tspan><tspan dy="2.8"> T cells (%)</tspan></text><text x="473.90" y="550.60" font-size="8.2" text-anchor="middle" fill="#0c0c0c" textLength="23.60" lengthAdjust="spacingAndGlyphs" >Time(h)</text><rect x="182.10" y="560.40" width="7.60" height="3.80" fill="#a3122e"/><text x="193.50" y="564.30" font-size="5.2" text-anchor="start" fill="#0c0c0c" textLength="7.50" lengthAdjust="spacingAndGlyphs" >NT</text><rect x="210.50" y="560.40" width="7.60" height="3.80" fill="#62a8e2"/><text x="221.60" y="564.30" font-size="5.2" text-anchor="start" fill="#0c0c0c" textLength="26.30" lengthAdjust="spacingAndGlyphs" >CD19 CAR</text><rect x="257.20" y="560.40" width="7.60" height="3.80" fill="#e0901a"/><text x="268.30" y="564.30" font-size="5.2" text-anchor="start" fill="#0c0c0c" textLength="26.30" lengthAdjust="spacingAndGlyphs" >CD20 CAR</text><rect x="304.20" y="560.40" width="7.60" height="3.80" fill="#27457f"/><text x="315.40" y="564.30" font-size="5.2" text-anchor="start" fill="#0c0c0c" textLength="22.10" lengthAdjust="spacingAndGlyphs" >TanCAR7</text>
<path d="M0.6 0V574M0 0.5H520M519.5 0V574M0 573.4H520" stroke="#000" stroke-width="1.1" fill="none"/>
</svg>
</body></html>
